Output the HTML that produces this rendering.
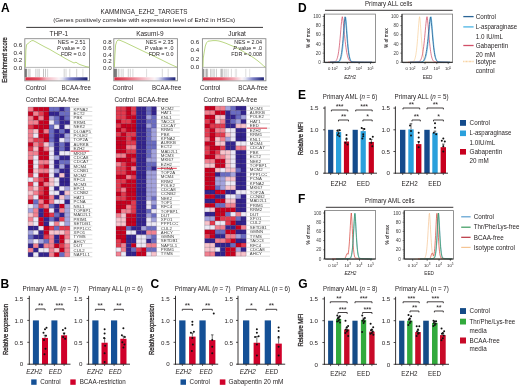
<!DOCTYPE html>
<html><head><meta charset="utf-8"><title>Figure</title>
<style>html,body{margin:0;padding:0;background:#fff;} svg{display:block;filter:blur(0.3px);}</style>
</head><body>
<svg width="520" height="386" viewBox="0 0 520 386" font-family='"Liberation Sans", sans-serif' fill="#231f20">
<rect width="520" height="386" fill="#fff"/>
<text x="0.90" y="11.60" font-size="12.0" font-weight="bold" fill="#000">A</text>
<text x="0.40" y="287.60" font-size="12.0" font-weight="bold" fill="#000">B</text>
<text x="150.50" y="287.60" font-size="12.0" font-weight="bold" fill="#000">C</text>
<text x="298.10" y="11.60" font-size="12.0" font-weight="bold" fill="#000">D</text>
<text x="298.10" y="98.50" font-size="12.0" font-weight="bold" fill="#000">E</text>
<text x="298.10" y="202.60" font-size="12.0" font-weight="bold" fill="#000">F</text>
<text x="298.20" y="287.60" font-size="12.0" font-weight="bold" fill="#000">G</text>
<text x="144.00" y="14.30" font-size="6.3" text-anchor="middle" textLength="87.00" lengthAdjust="spacingAndGlyphs">KAMMINGA_EZH2_TARGETS</text>
<text x="144.20" y="22.30" font-size="6.2" text-anchor="middle" textLength="182.00" lengthAdjust="spacingAndGlyphs">(Genes positively correlate with expression level of Ezh2 in HSCs)</text>
<line x1="26.20" y1="27.40" x2="263.00" y2="27.40" stroke="#231f20" stroke-width="0.9"/>
<text x="58.80" y="35.90" font-size="6.5" text-anchor="middle">THP-1</text>
<rect x="24.80" y="38.70" width="64.70" height="42.10" fill="#fff" stroke="#8a8a8a" stroke-width="0.9"/>
<line x1="24.80" y1="67.40" x2="89.50" y2="67.40" stroke="#9a9a9a" stroke-width="0.7"/>
<line x1="25.20" y1="68.80" x2="25.20" y2="77.20" stroke="#262626" stroke-width="0.4"/>
<line x1="25.70" y1="68.80" x2="25.70" y2="77.20" stroke="#262626" stroke-width="0.4"/>
<line x1="26.20" y1="68.80" x2="26.20" y2="77.20" stroke="#262626" stroke-width="0.4"/>
<line x1="26.70" y1="68.80" x2="26.70" y2="77.20" stroke="#262626" stroke-width="0.4"/>
<line x1="28.60" y1="68.80" x2="28.60" y2="77.20" stroke="#999" stroke-width="0.4"/>
<line x1="29.30" y1="68.80" x2="29.30" y2="77.20" stroke="#aaa" stroke-width="0.4"/>
<line x1="30.20" y1="68.80" x2="30.20" y2="77.20" stroke="#999" stroke-width="0.4"/>
<line x1="35.90" y1="68.80" x2="35.90" y2="77.20" stroke="#777" stroke-width="0.4"/>
<line x1="37.90" y1="68.80" x2="37.90" y2="77.20" stroke="#888" stroke-width="0.4"/>
<line x1="39.30" y1="68.80" x2="39.30" y2="77.20" stroke="#888" stroke-width="0.4"/>
<line x1="43.50" y1="68.80" x2="43.50" y2="77.20" stroke="#666" stroke-width="0.4"/>
<line x1="45.50" y1="68.80" x2="45.50" y2="77.20" stroke="#777" stroke-width="0.4"/>
<line x1="47.60" y1="68.80" x2="47.60" y2="77.20" stroke="#999" stroke-width="0.4"/>
<line x1="64.20" y1="68.80" x2="64.20" y2="77.20" stroke="#888" stroke-width="0.4"/>
<line x1="66.00" y1="68.80" x2="66.00" y2="77.20" stroke="#999" stroke-width="0.4"/>
<line x1="69.80" y1="68.80" x2="69.80" y2="77.20" stroke="#999" stroke-width="0.4"/>
<line x1="76.70" y1="68.80" x2="76.70" y2="77.20" stroke="#888" stroke-width="0.4"/>
<line x1="82.90" y1="68.80" x2="82.90" y2="77.20" stroke="#aaa" stroke-width="0.4"/>
<defs><linearGradient id="g24" x1="0" x2="1" y1="0" y2="0"><stop offset="0" stop-color="#d92a42"/><stop offset="0.220" stop-color="#e45466"/><stop offset="0.340" stop-color="#f4b3be"/><stop offset="0.540" stop-color="#fbf3f6"/><stop offset="0.600" stop-color="#dfe0f2"/><stop offset="0.720" stop-color="#7a7ec6"/><stop offset="1" stop-color="#1c2072"/></linearGradient></defs>
<rect x="25.40" y="77.30" width="62.10" height="3.00" fill="url(#g24)"/>
<polyline points="25.40,67.20 25.90,50.00 26.60,44.50 28.00,43.60 29.50,42.20 31.50,40.80 33.00,40.50 36.00,42.00 40.00,44.30 45.00,47.00 50.00,49.50 55.00,52.50 60.00,55.30 65.00,58.30 70.00,61.00 74.00,63.00 76.00,62.20 78.00,63.60 80.00,64.60 83.00,65.60 86.00,66.60 89.20,67.20" fill="none" stroke="#a3c95a" stroke-width="0.75"/>
<text x="22.20" y="69.50" font-size="6.2" text-anchor="end">0.0</text>
<text x="22.20" y="62.00" font-size="6.2" text-anchor="end">0.2</text>
<text x="22.20" y="54.50" font-size="6.2" text-anchor="end">0.4</text>
<text x="22.20" y="47.00" font-size="6.2" text-anchor="end">0.6</text>
<text x="85.60" y="44.30" font-size="5.4" text-anchor="end">NES = 2.51</text>
<text x="85.60" y="50.20" font-size="5.4" text-anchor="end"><tspan font-style="italic">P</tspan> value = .0</text>
<text x="85.60" y="56.10" font-size="5.4" text-anchor="end">FDR = 0.0</text>
<text x="25.40" y="90.00" font-size="6.6" textLength="20.60" lengthAdjust="spacingAndGlyphs">Control</text>
<text x="61.50" y="90.00" font-size="6.6" textLength="29.40" lengthAdjust="spacingAndGlyphs">BCAA-free</text>
<text x="149.90" y="35.90" font-size="6.5" text-anchor="middle">Kasumi-9</text>
<rect x="113.80" y="38.70" width="63.60" height="42.10" fill="#fff" stroke="#8a8a8a" stroke-width="0.9"/>
<line x1="113.80" y1="67.40" x2="177.40" y2="67.40" stroke="#9a9a9a" stroke-width="0.7"/>
<line x1="114.20" y1="68.80" x2="114.20" y2="77.20" stroke="#262626" stroke-width="0.4"/>
<line x1="114.70" y1="68.80" x2="114.70" y2="77.20" stroke="#262626" stroke-width="0.4"/>
<line x1="115.20" y1="68.80" x2="115.20" y2="77.20" stroke="#262626" stroke-width="0.4"/>
<line x1="115.70" y1="68.80" x2="115.70" y2="77.20" stroke="#262626" stroke-width="0.4"/>
<line x1="116.20" y1="68.80" x2="116.20" y2="77.20" stroke="#262626" stroke-width="0.4"/>
<line x1="116.70" y1="68.80" x2="116.70" y2="77.20" stroke="#262626" stroke-width="0.4"/>
<line x1="118.50" y1="68.80" x2="118.50" y2="77.20" stroke="#999" stroke-width="0.4"/>
<line x1="119.20" y1="68.80" x2="119.20" y2="77.20" stroke="#aaa" stroke-width="0.4"/>
<line x1="121.20" y1="68.80" x2="121.20" y2="77.20" stroke="#999" stroke-width="0.4"/>
<line x1="123.10" y1="68.80" x2="123.10" y2="77.20" stroke="#888" stroke-width="0.4"/>
<line x1="128.30" y1="68.80" x2="128.30" y2="77.20" stroke="#888" stroke-width="0.4"/>
<line x1="130.30" y1="68.80" x2="130.30" y2="77.20" stroke="#999" stroke-width="0.4"/>
<line x1="132.90" y1="68.80" x2="132.90" y2="77.20" stroke="#999" stroke-width="0.4"/>
<line x1="146.60" y1="68.80" x2="146.60" y2="77.20" stroke="#aaa" stroke-width="0.4"/>
<line x1="162.30" y1="68.80" x2="162.30" y2="77.20" stroke="#999" stroke-width="0.4"/>
<line x1="168.20" y1="68.80" x2="168.20" y2="77.20" stroke="#aaa" stroke-width="0.4"/>
<defs><linearGradient id="g113" x1="0" x2="1" y1="0" y2="0"><stop offset="0" stop-color="#d92a42"/><stop offset="0.170" stop-color="#e45466"/><stop offset="0.450" stop-color="#f4b3be"/><stop offset="0.660" stop-color="#fbf3f6"/><stop offset="0.720" stop-color="#dfe0f2"/><stop offset="0.840" stop-color="#7a7ec6"/><stop offset="1" stop-color="#1c2072"/></linearGradient></defs>
<rect x="114.40" y="77.30" width="61.00" height="3.00" fill="url(#g113)"/>
<polyline points="114.40,67.20 114.90,55.00 115.60,45.00 116.80,41.20 118.00,40.00 120.00,40.30 125.00,42.40 130.00,44.80 135.00,47.20 140.00,49.60 145.00,52.00 150.00,54.30 155.00,56.70 160.00,59.10 165.00,61.60 170.00,64.10 174.00,65.90 177.00,67.20" fill="none" stroke="#a3c95a" stroke-width="0.75"/>
<text x="111.60" y="69.80" font-size="6.2" text-anchor="end">0.0</text>
<text x="111.60" y="63.30" font-size="6.2" text-anchor="end">0.2</text>
<text x="111.60" y="56.80" font-size="6.2" text-anchor="end">0.4</text>
<text x="111.60" y="50.30" font-size="6.2" text-anchor="end">0.6</text>
<text x="111.60" y="43.80" font-size="6.2" text-anchor="end">0.8</text>
<text x="173.50" y="44.30" font-size="5.4" text-anchor="end">NES = 2.35</text>
<text x="173.50" y="50.20" font-size="5.4" text-anchor="end"><tspan font-style="italic">P</tspan> value = .0</text>
<text x="173.50" y="56.10" font-size="5.4" text-anchor="end">FDR = 0.0</text>
<text x="112.50" y="90.00" font-size="6.6" textLength="20.60" lengthAdjust="spacingAndGlyphs">Control</text>
<text x="152.00" y="90.00" font-size="6.6" textLength="29.40" lengthAdjust="spacingAndGlyphs">BCAA-free</text>
<text x="237.00" y="35.90" font-size="6.5" text-anchor="middle">Jurkat</text>
<rect x="202.40" y="38.70" width="63.50" height="42.10" fill="#fff" stroke="#8a8a8a" stroke-width="0.9"/>
<line x1="202.40" y1="67.40" x2="265.90" y2="67.40" stroke="#9a9a9a" stroke-width="0.7"/>
<line x1="203.40" y1="68.80" x2="203.40" y2="77.20" stroke="#262626" stroke-width="0.4"/>
<line x1="203.90" y1="68.80" x2="203.90" y2="77.20" stroke="#262626" stroke-width="0.4"/>
<line x1="205.90" y1="68.80" x2="205.90" y2="77.20" stroke="#555" stroke-width="0.4"/>
<line x1="206.60" y1="68.80" x2="206.60" y2="77.20" stroke="#555" stroke-width="0.4"/>
<line x1="207.60" y1="68.80" x2="207.60" y2="77.20" stroke="#666" stroke-width="0.4"/>
<line x1="210.50" y1="68.80" x2="210.50" y2="77.20" stroke="#888" stroke-width="0.4"/>
<line x1="211.80" y1="68.80" x2="211.80" y2="77.20" stroke="#999" stroke-width="0.4"/>
<line x1="213.20" y1="68.80" x2="213.20" y2="77.20" stroke="#888" stroke-width="0.4"/>
<line x1="214.60" y1="68.80" x2="214.60" y2="77.20" stroke="#999" stroke-width="0.4"/>
<line x1="216.50" y1="68.80" x2="216.50" y2="77.20" stroke="#888" stroke-width="0.4"/>
<line x1="220.90" y1="68.80" x2="220.90" y2="77.20" stroke="#666" stroke-width="0.4"/>
<line x1="221.80" y1="68.80" x2="221.80" y2="77.20" stroke="#555" stroke-width="0.4"/>
<line x1="222.80" y1="68.80" x2="222.80" y2="77.20" stroke="#777" stroke-width="0.4"/>
<line x1="224.80" y1="68.80" x2="224.80" y2="77.20" stroke="#888" stroke-width="0.4"/>
<line x1="226.20" y1="68.80" x2="226.20" y2="77.20" stroke="#999" stroke-width="0.4"/>
<line x1="228.10" y1="68.80" x2="228.10" y2="77.20" stroke="#999" stroke-width="0.4"/>
<line x1="231.40" y1="68.80" x2="231.40" y2="77.20" stroke="#aaa" stroke-width="0.4"/>
<line x1="235.30" y1="68.80" x2="235.30" y2="77.20" stroke="#bbb" stroke-width="0.4"/>
<line x1="236.60" y1="68.80" x2="236.60" y2="77.20" stroke="#bbb" stroke-width="0.4"/>
<line x1="245.80" y1="68.80" x2="245.80" y2="77.20" stroke="#aaa" stroke-width="0.4"/>
<line x1="249.70" y1="68.80" x2="249.70" y2="77.20" stroke="#bbb" stroke-width="0.4"/>
<defs><linearGradient id="g202" x1="0" x2="1" y1="0" y2="0"><stop offset="0" stop-color="#d92a42"/><stop offset="0.300" stop-color="#e45466"/><stop offset="0.520" stop-color="#f4b3be"/><stop offset="0.640" stop-color="#fbf3f6"/><stop offset="0.700" stop-color="#dfe0f2"/><stop offset="0.820" stop-color="#7a7ec6"/><stop offset="1" stop-color="#1c2072"/></linearGradient></defs>
<rect x="203.00" y="77.30" width="60.90" height="3.00" fill="url(#g202)"/>
<polyline points="203.00,67.00 203.30,58.00 204.20,52.00 205.30,46.00 206.50,42.80 208.00,41.20 210.00,41.00 213.00,40.60 216.00,40.60 219.00,41.00 222.00,41.90 226.00,43.30 230.00,45.00 234.00,46.60 238.00,48.60 242.00,50.80 246.00,53.20 250.00,55.50 254.00,58.00 258.00,61.00 261.00,63.50 263.50,65.80 265.30,67.00" fill="none" stroke="#a3c95a" stroke-width="0.75"/>
<text x="199.10" y="69.00" font-size="6.2" text-anchor="end">0.0</text>
<text x="199.10" y="60.55" font-size="6.2" text-anchor="end">0.2</text>
<text x="199.10" y="52.10" font-size="6.2" text-anchor="end">0.4</text>
<text x="199.10" y="43.65" font-size="6.2" text-anchor="end">0.6</text>
<text x="262.00" y="44.30" font-size="5.4" text-anchor="end">NES = 2.04</text>
<text x="262.00" y="50.20" font-size="5.4" text-anchor="end"><tspan font-style="italic">P</tspan> value = .0</text>
<text x="262.00" y="56.10" font-size="5.4" text-anchor="end">FDR = 0.008</text>
<text x="199.90" y="90.00" font-size="6.6" textLength="20.60" lengthAdjust="spacingAndGlyphs">Control</text>
<text x="238.30" y="90.00" font-size="6.6" textLength="29.40" lengthAdjust="spacingAndGlyphs">BCAA-free</text>
<text x="6.70" y="59.90" font-size="7.4" text-anchor="middle" textLength="45.50" lengthAdjust="spacingAndGlyphs" transform="rotate(-90 6.70 59.90)" stroke="#231f20" stroke-width="0.28">Enrichment score</text>
<rect x="28.10" y="107.10" width="5.26" height="4.45" fill="#f2808f"/>
<rect x="33.31" y="107.10" width="5.26" height="4.45" fill="#c8001e"/>
<rect x="38.52" y="107.10" width="5.26" height="4.45" fill="#c8001e"/>
<rect x="43.74" y="107.10" width="5.26" height="4.45" fill="#c8001e"/>
<rect x="48.95" y="107.10" width="5.26" height="4.45" fill="#6a6cc2"/>
<rect x="54.16" y="107.10" width="5.26" height="4.45" fill="#6a6cc2"/>
<rect x="59.38" y="107.10" width="5.26" height="4.45" fill="#33248e"/>
<rect x="64.59" y="107.10" width="5.26" height="4.45" fill="#6a6cc2"/>
<rect x="28.10" y="111.50" width="5.26" height="4.45" fill="#c8001e"/>
<rect x="33.31" y="111.50" width="5.26" height="4.45" fill="#f2808f"/>
<rect x="38.52" y="111.50" width="5.26" height="4.45" fill="#e33a4e"/>
<rect x="43.74" y="111.50" width="5.26" height="4.45" fill="#c8001e"/>
<rect x="48.95" y="111.50" width="5.26" height="4.45" fill="#33248e"/>
<rect x="54.16" y="111.50" width="5.26" height="4.45" fill="#33248e"/>
<rect x="59.38" y="111.50" width="5.26" height="4.45" fill="#6a6cc2"/>
<rect x="64.59" y="111.50" width="5.26" height="4.45" fill="#6a6cc2"/>
<rect x="28.10" y="115.91" width="5.26" height="4.45" fill="#f2808f"/>
<rect x="33.31" y="115.91" width="5.26" height="4.45" fill="#c8001e"/>
<rect x="38.52" y="115.91" width="5.26" height="4.45" fill="#f2808f"/>
<rect x="43.74" y="115.91" width="5.26" height="4.45" fill="#c8001e"/>
<rect x="48.95" y="115.91" width="5.26" height="4.45" fill="#a3a3dd"/>
<rect x="54.16" y="115.91" width="5.26" height="4.45" fill="#6a6cc2"/>
<rect x="59.38" y="115.91" width="5.26" height="4.45" fill="#33248e"/>
<rect x="64.59" y="115.91" width="5.26" height="4.45" fill="#6a6cc2"/>
<rect x="28.10" y="120.31" width="5.26" height="4.45" fill="#f2808f"/>
<rect x="33.31" y="120.31" width="5.26" height="4.45" fill="#f2808f"/>
<rect x="38.52" y="120.31" width="5.26" height="4.45" fill="#c8001e"/>
<rect x="43.74" y="120.31" width="5.26" height="4.45" fill="#c8001e"/>
<rect x="48.95" y="120.31" width="5.26" height="4.45" fill="#ece9f5"/>
<rect x="54.16" y="120.31" width="5.26" height="4.45" fill="#6a6cc2"/>
<rect x="59.38" y="120.31" width="5.26" height="4.45" fill="#33248e"/>
<rect x="64.59" y="120.31" width="5.26" height="4.45" fill="#33248e"/>
<rect x="28.10" y="124.71" width="5.26" height="4.45" fill="#e33a4e"/>
<rect x="33.31" y="124.71" width="5.26" height="4.45" fill="#c8001e"/>
<rect x="38.52" y="124.71" width="5.26" height="4.45" fill="#c8001e"/>
<rect x="43.74" y="124.71" width="5.26" height="4.45" fill="#c8001e"/>
<rect x="48.95" y="124.71" width="5.26" height="4.45" fill="#6a6cc2"/>
<rect x="54.16" y="124.71" width="5.26" height="4.45" fill="#ece9f5"/>
<rect x="59.38" y="124.71" width="5.26" height="4.45" fill="#33248e"/>
<rect x="64.59" y="124.71" width="5.26" height="4.45" fill="#ece9f5"/>
<rect x="28.10" y="129.11" width="5.26" height="4.45" fill="#f2808f"/>
<rect x="33.31" y="129.11" width="5.26" height="4.45" fill="#f7c3cb"/>
<rect x="38.52" y="129.11" width="5.26" height="4.45" fill="#c8001e"/>
<rect x="43.74" y="129.11" width="5.26" height="4.45" fill="#f2808f"/>
<rect x="48.95" y="129.11" width="5.26" height="4.45" fill="#6a6cc2"/>
<rect x="54.16" y="129.11" width="5.26" height="4.45" fill="#33248e"/>
<rect x="59.38" y="129.11" width="5.26" height="4.45" fill="#6a6cc2"/>
<rect x="64.59" y="129.11" width="5.26" height="4.45" fill="#33248e"/>
<rect x="28.10" y="133.52" width="5.26" height="4.45" fill="#f2808f"/>
<rect x="33.31" y="133.52" width="5.26" height="4.45" fill="#ece9f5"/>
<rect x="38.52" y="133.52" width="5.26" height="4.45" fill="#c8001e"/>
<rect x="43.74" y="133.52" width="5.26" height="4.45" fill="#c8001e"/>
<rect x="48.95" y="133.52" width="5.26" height="4.45" fill="#6a6cc2"/>
<rect x="54.16" y="133.52" width="5.26" height="4.45" fill="#33248e"/>
<rect x="59.38" y="133.52" width="5.26" height="4.45" fill="#33248e"/>
<rect x="64.59" y="133.52" width="5.26" height="4.45" fill="#a3a3dd"/>
<rect x="28.10" y="137.92" width="5.26" height="4.45" fill="#f2808f"/>
<rect x="33.31" y="137.92" width="5.26" height="4.45" fill="#e33a4e"/>
<rect x="38.52" y="137.92" width="5.26" height="4.45" fill="#e33a4e"/>
<rect x="43.74" y="137.92" width="5.26" height="4.45" fill="#c8001e"/>
<rect x="48.95" y="137.92" width="5.26" height="4.45" fill="#6a6cc2"/>
<rect x="54.16" y="137.92" width="5.26" height="4.45" fill="#33248e"/>
<rect x="59.38" y="137.92" width="5.26" height="4.45" fill="#ece9f5"/>
<rect x="64.59" y="137.92" width="5.26" height="4.45" fill="#a3a3dd"/>
<rect x="28.10" y="142.32" width="5.26" height="4.45" fill="#c8001e"/>
<rect x="33.31" y="142.32" width="5.26" height="4.45" fill="#f2808f"/>
<rect x="38.52" y="142.32" width="5.26" height="4.45" fill="#e33a4e"/>
<rect x="43.74" y="142.32" width="5.26" height="4.45" fill="#f7c3cb"/>
<rect x="48.95" y="142.32" width="5.26" height="4.45" fill="#a3a3dd"/>
<rect x="54.16" y="142.32" width="5.26" height="4.45" fill="#33248e"/>
<rect x="59.38" y="142.32" width="5.26" height="4.45" fill="#6a6cc2"/>
<rect x="64.59" y="142.32" width="5.26" height="4.45" fill="#33248e"/>
<rect x="28.10" y="146.73" width="5.26" height="4.45" fill="#e33a4e"/>
<rect x="33.31" y="146.73" width="5.26" height="4.45" fill="#f7c3cb"/>
<rect x="38.52" y="146.73" width="5.26" height="4.45" fill="#c8001e"/>
<rect x="43.74" y="146.73" width="5.26" height="4.45" fill="#f2808f"/>
<rect x="48.95" y="146.73" width="5.26" height="4.45" fill="#ece9f5"/>
<rect x="54.16" y="146.73" width="5.26" height="4.45" fill="#33248e"/>
<rect x="59.38" y="146.73" width="5.26" height="4.45" fill="#6a6cc2"/>
<rect x="64.59" y="146.73" width="5.26" height="4.45" fill="#33248e"/>
<rect x="28.10" y="151.13" width="5.26" height="4.45" fill="#f2808f"/>
<rect x="33.31" y="151.13" width="5.26" height="4.45" fill="#f2808f"/>
<rect x="38.52" y="151.13" width="5.26" height="4.45" fill="#c8001e"/>
<rect x="43.74" y="151.13" width="5.26" height="4.45" fill="#c8001e"/>
<rect x="48.95" y="151.13" width="5.26" height="4.45" fill="#ece9f5"/>
<rect x="54.16" y="151.13" width="5.26" height="4.45" fill="#33248e"/>
<rect x="59.38" y="151.13" width="5.26" height="4.45" fill="#ece9f5"/>
<rect x="64.59" y="151.13" width="5.26" height="4.45" fill="#ece9f5"/>
<rect x="28.10" y="155.53" width="5.26" height="4.45" fill="#f2808f"/>
<rect x="33.31" y="155.53" width="5.26" height="4.45" fill="#ece9f5"/>
<rect x="38.52" y="155.53" width="5.26" height="4.45" fill="#c8001e"/>
<rect x="43.74" y="155.53" width="5.26" height="4.45" fill="#c8001e"/>
<rect x="48.95" y="155.53" width="5.26" height="4.45" fill="#ece9f5"/>
<rect x="54.16" y="155.53" width="5.26" height="4.45" fill="#a3a3dd"/>
<rect x="59.38" y="155.53" width="5.26" height="4.45" fill="#33248e"/>
<rect x="64.59" y="155.53" width="5.26" height="4.45" fill="#33248e"/>
<rect x="28.10" y="159.94" width="5.26" height="4.45" fill="#c8001e"/>
<rect x="33.31" y="159.94" width="5.26" height="4.45" fill="#ece9f5"/>
<rect x="38.52" y="159.94" width="5.26" height="4.45" fill="#f2808f"/>
<rect x="43.74" y="159.94" width="5.26" height="4.45" fill="#f2808f"/>
<rect x="48.95" y="159.94" width="5.26" height="4.45" fill="#ece9f5"/>
<rect x="54.16" y="159.94" width="5.26" height="4.45" fill="#33248e"/>
<rect x="59.38" y="159.94" width="5.26" height="4.45" fill="#6a6cc2"/>
<rect x="64.59" y="159.94" width="5.26" height="4.45" fill="#6a6cc2"/>
<rect x="28.10" y="164.34" width="5.26" height="4.45" fill="#c8001e"/>
<rect x="33.31" y="164.34" width="5.26" height="4.45" fill="#ece9f5"/>
<rect x="38.52" y="164.34" width="5.26" height="4.45" fill="#e33a4e"/>
<rect x="43.74" y="164.34" width="5.26" height="4.45" fill="#c8001e"/>
<rect x="48.95" y="164.34" width="5.26" height="4.45" fill="#ece9f5"/>
<rect x="54.16" y="164.34" width="5.26" height="4.45" fill="#33248e"/>
<rect x="59.38" y="164.34" width="5.26" height="4.45" fill="#a3a3dd"/>
<rect x="64.59" y="164.34" width="5.26" height="4.45" fill="#33248e"/>
<rect x="28.10" y="168.74" width="5.26" height="4.45" fill="#c8001e"/>
<rect x="33.31" y="168.74" width="5.26" height="4.45" fill="#f7c3cb"/>
<rect x="38.52" y="168.74" width="5.26" height="4.45" fill="#f2808f"/>
<rect x="43.74" y="168.74" width="5.26" height="4.45" fill="#f2808f"/>
<rect x="48.95" y="168.74" width="5.26" height="4.45" fill="#ece9f5"/>
<rect x="54.16" y="168.74" width="5.26" height="4.45" fill="#a3a3dd"/>
<rect x="59.38" y="168.74" width="5.26" height="4.45" fill="#33248e"/>
<rect x="64.59" y="168.74" width="5.26" height="4.45" fill="#33248e"/>
<rect x="28.10" y="173.14" width="5.26" height="4.45" fill="#e33a4e"/>
<rect x="33.31" y="173.14" width="5.26" height="4.45" fill="#ece9f5"/>
<rect x="38.52" y="173.14" width="5.26" height="4.45" fill="#c8001e"/>
<rect x="43.74" y="173.14" width="5.26" height="4.45" fill="#c8001e"/>
<rect x="48.95" y="173.14" width="5.26" height="4.45" fill="#ece9f5"/>
<rect x="54.16" y="173.14" width="5.26" height="4.45" fill="#33248e"/>
<rect x="59.38" y="173.14" width="5.26" height="4.45" fill="#f7c3cb"/>
<rect x="64.59" y="173.14" width="5.26" height="4.45" fill="#33248e"/>
<rect x="28.10" y="177.55" width="5.26" height="4.45" fill="#ece9f5"/>
<rect x="33.31" y="177.55" width="5.26" height="4.45" fill="#f2808f"/>
<rect x="38.52" y="177.55" width="5.26" height="4.45" fill="#e33a4e"/>
<rect x="43.74" y="177.55" width="5.26" height="4.45" fill="#c8001e"/>
<rect x="48.95" y="177.55" width="5.26" height="4.45" fill="#f7c3cb"/>
<rect x="54.16" y="177.55" width="5.26" height="4.45" fill="#ece9f5"/>
<rect x="59.38" y="177.55" width="5.26" height="4.45" fill="#33248e"/>
<rect x="64.59" y="177.55" width="5.26" height="4.45" fill="#33248e"/>
<rect x="28.10" y="181.95" width="5.26" height="4.45" fill="#e33a4e"/>
<rect x="33.31" y="181.95" width="5.26" height="4.45" fill="#ece9f5"/>
<rect x="38.52" y="181.95" width="5.26" height="4.45" fill="#c8001e"/>
<rect x="43.74" y="181.95" width="5.26" height="4.45" fill="#f2808f"/>
<rect x="48.95" y="181.95" width="5.26" height="4.45" fill="#f7c3cb"/>
<rect x="54.16" y="181.95" width="5.26" height="4.45" fill="#ece9f5"/>
<rect x="59.38" y="181.95" width="5.26" height="4.45" fill="#33248e"/>
<rect x="64.59" y="181.95" width="5.26" height="4.45" fill="#33248e"/>
<rect x="28.10" y="186.35" width="5.26" height="4.45" fill="#f2808f"/>
<rect x="33.31" y="186.35" width="5.26" height="4.45" fill="#f7c3cb"/>
<rect x="38.52" y="186.35" width="5.26" height="4.45" fill="#e33a4e"/>
<rect x="43.74" y="186.35" width="5.26" height="4.45" fill="#c8001e"/>
<rect x="48.95" y="186.35" width="5.26" height="4.45" fill="#ece9f5"/>
<rect x="54.16" y="186.35" width="5.26" height="4.45" fill="#33248e"/>
<rect x="59.38" y="186.35" width="5.26" height="4.45" fill="#ece9f5"/>
<rect x="64.59" y="186.35" width="5.26" height="4.45" fill="#a3a3dd"/>
<rect x="28.10" y="190.76" width="5.26" height="4.45" fill="#f7c3cb"/>
<rect x="33.31" y="190.76" width="5.26" height="4.45" fill="#f2808f"/>
<rect x="38.52" y="190.76" width="5.26" height="4.45" fill="#e33a4e"/>
<rect x="43.74" y="190.76" width="5.26" height="4.45" fill="#c8001e"/>
<rect x="48.95" y="190.76" width="5.26" height="4.45" fill="#ece9f5"/>
<rect x="54.16" y="190.76" width="5.26" height="4.45" fill="#ece9f5"/>
<rect x="59.38" y="190.76" width="5.26" height="4.45" fill="#33248e"/>
<rect x="64.59" y="190.76" width="5.26" height="4.45" fill="#f7c3cb"/>
<rect x="28.10" y="195.16" width="5.26" height="4.45" fill="#f2808f"/>
<rect x="33.31" y="195.16" width="5.26" height="4.45" fill="#ece9f5"/>
<rect x="38.52" y="195.16" width="5.26" height="4.45" fill="#c8001e"/>
<rect x="43.74" y="195.16" width="5.26" height="4.45" fill="#c8001e"/>
<rect x="48.95" y="195.16" width="5.26" height="4.45" fill="#f2808f"/>
<rect x="54.16" y="195.16" width="5.26" height="4.45" fill="#33248e"/>
<rect x="59.38" y="195.16" width="5.26" height="4.45" fill="#f7c3cb"/>
<rect x="64.59" y="195.16" width="5.26" height="4.45" fill="#a3a3dd"/>
<rect x="28.10" y="199.56" width="5.26" height="4.45" fill="#c8001e"/>
<rect x="33.31" y="199.56" width="5.26" height="4.45" fill="#6a6cc2"/>
<rect x="38.52" y="199.56" width="5.26" height="4.45" fill="#f2808f"/>
<rect x="43.74" y="199.56" width="5.26" height="4.45" fill="#c8001e"/>
<rect x="48.95" y="199.56" width="5.26" height="4.45" fill="#f2808f"/>
<rect x="54.16" y="199.56" width="5.26" height="4.45" fill="#ece9f5"/>
<rect x="59.38" y="199.56" width="5.26" height="4.45" fill="#ece9f5"/>
<rect x="64.59" y="199.56" width="5.26" height="4.45" fill="#33248e"/>
<rect x="28.10" y="203.96" width="5.26" height="4.45" fill="#ece9f5"/>
<rect x="33.31" y="203.96" width="5.26" height="4.45" fill="#a3a3dd"/>
<rect x="38.52" y="203.96" width="5.26" height="4.45" fill="#e33a4e"/>
<rect x="43.74" y="203.96" width="5.26" height="4.45" fill="#f2808f"/>
<rect x="48.95" y="203.96" width="5.26" height="4.45" fill="#6a6cc2"/>
<rect x="54.16" y="203.96" width="5.26" height="4.45" fill="#33248e"/>
<rect x="59.38" y="203.96" width="5.26" height="4.45" fill="#c8001e"/>
<rect x="64.59" y="203.96" width="5.26" height="4.45" fill="#a3a3dd"/>
<rect x="28.10" y="208.37" width="5.26" height="4.45" fill="#a3a3dd"/>
<rect x="33.31" y="208.37" width="5.26" height="4.45" fill="#f2808f"/>
<rect x="38.52" y="208.37" width="5.26" height="4.45" fill="#33248e"/>
<rect x="43.74" y="208.37" width="5.26" height="4.45" fill="#c8001e"/>
<rect x="48.95" y="208.37" width="5.26" height="4.45" fill="#ece9f5"/>
<rect x="54.16" y="208.37" width="5.26" height="4.45" fill="#33248e"/>
<rect x="59.38" y="208.37" width="5.26" height="4.45" fill="#f2808f"/>
<rect x="64.59" y="208.37" width="5.26" height="4.45" fill="#a3a3dd"/>
<rect x="28.10" y="212.77" width="5.26" height="4.45" fill="#f7c3cb"/>
<rect x="33.31" y="212.77" width="5.26" height="4.45" fill="#f2808f"/>
<rect x="38.52" y="212.77" width="5.26" height="4.45" fill="#33248e"/>
<rect x="43.74" y="212.77" width="5.26" height="4.45" fill="#c8001e"/>
<rect x="48.95" y="212.77" width="5.26" height="4.45" fill="#e33a4e"/>
<rect x="54.16" y="212.77" width="5.26" height="4.45" fill="#6a6cc2"/>
<rect x="59.38" y="212.77" width="5.26" height="4.45" fill="#33248e"/>
<rect x="64.59" y="212.77" width="5.26" height="4.45" fill="#a3a3dd"/>
<rect x="28.10" y="217.17" width="5.26" height="4.45" fill="#f2808f"/>
<rect x="33.31" y="217.17" width="5.26" height="4.45" fill="#ece9f5"/>
<rect x="38.52" y="217.17" width="5.26" height="4.45" fill="#c8001e"/>
<rect x="43.74" y="217.17" width="5.26" height="4.45" fill="#33248e"/>
<rect x="48.95" y="217.17" width="5.26" height="4.45" fill="#6a6cc2"/>
<rect x="54.16" y="217.17" width="5.26" height="4.45" fill="#33248e"/>
<rect x="59.38" y="217.17" width="5.26" height="4.45" fill="#e33a4e"/>
<rect x="64.59" y="217.17" width="5.26" height="4.45" fill="#a3a3dd"/>
<rect x="28.10" y="221.58" width="5.26" height="4.45" fill="#f7c3cb"/>
<rect x="33.31" y="221.58" width="5.26" height="4.45" fill="#ece9f5"/>
<rect x="38.52" y="221.58" width="5.26" height="4.45" fill="#c8001e"/>
<rect x="43.74" y="221.58" width="5.26" height="4.45" fill="#33248e"/>
<rect x="48.95" y="221.58" width="5.26" height="4.45" fill="#ece9f5"/>
<rect x="54.16" y="221.58" width="5.26" height="4.45" fill="#f2808f"/>
<rect x="59.38" y="221.58" width="5.26" height="4.45" fill="#ece9f5"/>
<rect x="64.59" y="221.58" width="5.26" height="4.45" fill="#a3a3dd"/>
<rect x="28.10" y="225.98" width="5.26" height="4.45" fill="#33248e"/>
<rect x="33.31" y="225.98" width="5.26" height="4.45" fill="#33248e"/>
<rect x="38.52" y="225.98" width="5.26" height="4.45" fill="#ece9f5"/>
<rect x="43.74" y="225.98" width="5.26" height="4.45" fill="#c8001e"/>
<rect x="48.95" y="225.98" width="5.26" height="4.45" fill="#e33a4e"/>
<rect x="54.16" y="225.98" width="5.26" height="4.45" fill="#6a6cc2"/>
<rect x="59.38" y="225.98" width="5.26" height="4.45" fill="#e33a4e"/>
<rect x="64.59" y="225.98" width="5.26" height="4.45" fill="#e33a4e"/>
<rect x="28.10" y="230.38" width="5.26" height="4.45" fill="#a3a3dd"/>
<rect x="33.31" y="230.38" width="5.26" height="4.45" fill="#ece9f5"/>
<rect x="38.52" y="230.38" width="5.26" height="4.45" fill="#33248e"/>
<rect x="43.74" y="230.38" width="5.26" height="4.45" fill="#c8001e"/>
<rect x="48.95" y="230.38" width="5.26" height="4.45" fill="#f7c3cb"/>
<rect x="54.16" y="230.38" width="5.26" height="4.45" fill="#f7c3cb"/>
<rect x="59.38" y="230.38" width="5.26" height="4.45" fill="#f7c3cb"/>
<rect x="64.59" y="230.38" width="5.26" height="4.45" fill="#f2808f"/>
<rect x="28.10" y="234.79" width="5.26" height="4.45" fill="#6a6cc2"/>
<rect x="33.31" y="234.79" width="5.26" height="4.45" fill="#33248e"/>
<rect x="38.52" y="234.79" width="5.26" height="4.45" fill="#33248e"/>
<rect x="43.74" y="234.79" width="5.26" height="4.45" fill="#e33a4e"/>
<rect x="48.95" y="234.79" width="5.26" height="4.45" fill="#f2808f"/>
<rect x="54.16" y="234.79" width="5.26" height="4.45" fill="#33248e"/>
<rect x="59.38" y="234.79" width="5.26" height="4.45" fill="#c8001e"/>
<rect x="64.59" y="234.79" width="5.26" height="4.45" fill="#f2808f"/>
<rect x="28.10" y="239.19" width="5.26" height="4.45" fill="#a3a3dd"/>
<rect x="33.31" y="239.19" width="5.26" height="4.45" fill="#ece9f5"/>
<rect x="38.52" y="239.19" width="5.26" height="4.45" fill="#a3a3dd"/>
<rect x="43.74" y="239.19" width="5.26" height="4.45" fill="#6a6cc2"/>
<rect x="48.95" y="239.19" width="5.26" height="4.45" fill="#f2808f"/>
<rect x="54.16" y="239.19" width="5.26" height="4.45" fill="#33248e"/>
<rect x="59.38" y="239.19" width="5.26" height="4.45" fill="#c8001e"/>
<rect x="64.59" y="239.19" width="5.26" height="4.45" fill="#f7c3cb"/>
<rect x="28.10" y="243.59" width="5.26" height="4.45" fill="#33248e"/>
<rect x="33.31" y="243.59" width="5.26" height="4.45" fill="#f2808f"/>
<rect x="38.52" y="243.59" width="5.26" height="4.45" fill="#33248e"/>
<rect x="43.74" y="243.59" width="5.26" height="4.45" fill="#f2808f"/>
<rect x="48.95" y="243.59" width="5.26" height="4.45" fill="#f2808f"/>
<rect x="54.16" y="243.59" width="5.26" height="4.45" fill="#c8001e"/>
<rect x="59.38" y="243.59" width="5.26" height="4.45" fill="#e33a4e"/>
<rect x="64.59" y="243.59" width="5.26" height="4.45" fill="#f2808f"/>
<rect x="28.10" y="247.99" width="5.26" height="4.45" fill="#f2808f"/>
<rect x="33.31" y="247.99" width="5.26" height="4.45" fill="#33248e"/>
<rect x="38.52" y="247.99" width="5.26" height="4.45" fill="#ece9f5"/>
<rect x="43.74" y="247.99" width="5.26" height="4.45" fill="#ece9f5"/>
<rect x="48.95" y="247.99" width="5.26" height="4.45" fill="#f2808f"/>
<rect x="54.16" y="247.99" width="5.26" height="4.45" fill="#f7c3cb"/>
<rect x="59.38" y="247.99" width="5.26" height="4.45" fill="#c8001e"/>
<rect x="64.59" y="247.99" width="5.26" height="4.45" fill="#f2808f"/>
<rect x="28.10" y="252.40" width="5.26" height="4.45" fill="#33248e"/>
<rect x="33.31" y="252.40" width="5.26" height="4.45" fill="#ece9f5"/>
<rect x="38.52" y="252.40" width="5.26" height="4.45" fill="#33248e"/>
<rect x="43.74" y="252.40" width="5.26" height="4.45" fill="#33248e"/>
<rect x="48.95" y="252.40" width="5.26" height="4.45" fill="#f2808f"/>
<rect x="54.16" y="252.40" width="5.26" height="4.45" fill="#c8001e"/>
<rect x="59.38" y="252.40" width="5.26" height="4.45" fill="#6a6cc2"/>
<rect x="64.59" y="252.40" width="5.26" height="4.45" fill="#f2808f"/>
<path d="M28.10 107.10V256.80 M33.31 107.10V256.80 M38.52 107.10V256.80 M43.74 107.10V256.80 M48.95 107.10V256.80 M54.16 107.10V256.80 M59.38 107.10V256.80 M64.59 107.10V256.80 M69.80 107.10V256.80 M28.10 107.10H69.80 M28.10 111.50H69.80 M28.10 115.91H69.80 M28.10 120.31H69.80 M28.10 124.71H69.80 M28.10 129.11H69.80 M28.10 133.52H69.80 M28.10 137.92H69.80 M28.10 142.32H69.80 M28.10 146.73H69.80 M28.10 151.13H69.80 M28.10 155.53H69.80 M28.10 159.94H69.80 M28.10 164.34H69.80 M28.10 168.74H69.80 M28.10 173.14H69.80 M28.10 177.55H69.80 M28.10 181.95H69.80 M28.10 186.35H69.80 M28.10 190.76H69.80 M28.10 195.16H69.80 M28.10 199.56H69.80 M28.10 203.96H69.80 M28.10 208.37H69.80 M28.10 212.77H69.80 M28.10 217.17H69.80 M28.10 221.58H69.80 M28.10 225.98H69.80 M28.10 230.38H69.80 M28.10 234.79H69.80 M28.10 239.19H69.80 M28.10 243.59H69.80 M28.10 247.99H69.80 M28.10 252.40H69.80 M28.10 256.80H69.80" stroke="#1e0a2a" stroke-opacity="0.4" stroke-width="0.5" fill="none"/>
<path d="M70.40 107.10H92.30 M70.40 111.50H92.30 M70.40 115.91H92.30 M70.40 120.31H92.30 M70.40 124.71H92.30 M70.40 129.11H92.30 M70.40 133.52H92.30 M70.40 137.92H92.30 M70.40 142.32H92.30 M70.40 146.73H92.30 M70.40 151.13H92.30 M70.40 155.53H92.30 M70.40 159.94H92.30 M70.40 164.34H92.30 M70.40 168.74H92.30 M70.40 173.14H92.30 M70.40 177.55H92.30 M70.40 181.95H92.30 M70.40 186.35H92.30 M70.40 190.76H92.30 M70.40 195.16H92.30 M70.40 199.56H92.30 M70.40 203.96H92.30 M70.40 208.37H92.30 M70.40 212.77H92.30 M70.40 217.17H92.30 M70.40 221.58H92.30 M70.40 225.98H92.30 M70.40 230.38H92.30 M70.40 234.79H92.30 M70.40 239.19H92.30 M70.40 243.59H92.30 M70.40 247.99H92.30 M70.40 252.40H92.30 M70.40 256.80H92.30" stroke="#b4b4b4" stroke-width="0.45" fill="none"/>
<text x="73.60" y="110.65" font-size="4.3" fill="#3c3c3c" letter-spacing="0.05">KPNA2</text>
<text x="73.60" y="115.06" font-size="4.3" fill="#3c3c3c" letter-spacing="0.05">ECT2</text>
<text x="73.60" y="119.46" font-size="4.3" fill="#3c3c3c" letter-spacing="0.05">PBK</text>
<text x="73.60" y="123.86" font-size="4.3" fill="#3c3c3c" letter-spacing="0.05">RRM1</text>
<text x="73.60" y="128.26" font-size="4.3" fill="#3c3c3c" letter-spacing="0.05">NEK2</text>
<text x="73.60" y="132.67" font-size="4.3" fill="#3c3c3c" letter-spacing="0.05">DLGAP5</text>
<text x="73.60" y="137.07" font-size="4.3" fill="#3c3c3c" letter-spacing="0.05">POLE2</text>
<text x="73.60" y="141.47" font-size="4.3" fill="#3c3c3c" letter-spacing="0.05">TOP2A</text>
<text x="73.60" y="145.88" font-size="4.3" fill="#3c3c3c" letter-spacing="0.05">AURKB</text>
<text x="73.60" y="150.28" font-size="4.3" fill="#3c3c3c" letter-spacing="0.05">EZH2</text>
<text x="73.60" y="154.68" font-size="4.3" fill="#3c3c3c" letter-spacing="0.05">MKI67</text>
<text x="73.60" y="159.09" font-size="4.3" fill="#3c3c3c" letter-spacing="0.05">CDCA8</text>
<text x="73.60" y="163.49" font-size="4.3" fill="#3c3c3c" letter-spacing="0.05">CDCA7</text>
<text x="73.60" y="167.89" font-size="4.3" fill="#3c3c3c" letter-spacing="0.05">MCM4</text>
<text x="73.60" y="172.29" font-size="4.3" fill="#3c3c3c" letter-spacing="0.05">CCNB1</text>
<text x="73.60" y="176.70" font-size="4.3" fill="#3c3c3c" letter-spacing="0.05">MCM2</text>
<text x="73.60" y="181.10" font-size="4.3" fill="#3c3c3c" letter-spacing="0.05">RFC4</text>
<text x="73.60" y="185.50" font-size="4.3" fill="#3c3c3c" letter-spacing="0.05">MCM3</text>
<text x="73.60" y="189.91" font-size="4.3" fill="#3c3c3c" letter-spacing="0.05">EPC1</text>
<text x="73.60" y="194.31" font-size="4.3" fill="#3c3c3c" letter-spacing="0.05">CCNB2</text>
<text x="73.60" y="198.71" font-size="4.3" fill="#3c3c3c" letter-spacing="0.05">HAT1</text>
<text x="73.60" y="203.11" font-size="4.3" fill="#3c3c3c" letter-spacing="0.05">PCNA</text>
<text x="73.60" y="207.52" font-size="4.3" fill="#3c3c3c" letter-spacing="0.05">NSL1</text>
<text x="73.60" y="211.92" font-size="4.3" fill="#3c3c3c" letter-spacing="0.05">TOPBP1</text>
<text x="73.60" y="216.32" font-size="4.3" fill="#3c3c3c" letter-spacing="0.05">MAD2L1</text>
<text x="73.60" y="220.73" font-size="4.3" fill="#3c3c3c" letter-spacing="0.05">PRIM1</text>
<text x="73.60" y="225.13" font-size="4.3" fill="#3c3c3c" letter-spacing="0.05">SETDB1</text>
<text x="73.60" y="229.53" font-size="4.3" fill="#3c3c3c" letter-spacing="0.05">PPP1CC</text>
<text x="73.60" y="233.94" font-size="4.3" fill="#3c3c3c" letter-spacing="0.05">XPO1</text>
<text x="73.60" y="238.34" font-size="4.3" fill="#3c3c3c" letter-spacing="0.05">TYMS</text>
<text x="73.60" y="242.74" font-size="4.3" fill="#3c3c3c" letter-spacing="0.05">AHCY</text>
<text x="73.60" y="247.14" font-size="4.3" fill="#3c3c3c" letter-spacing="0.05">DUT</text>
<text x="73.60" y="251.55" font-size="4.3" fill="#3c3c3c" letter-spacing="0.05">CUL2</text>
<text x="73.60" y="255.95" font-size="4.3" fill="#3c3c3c" letter-spacing="0.05">NAP1L1</text>
<line x1="70.60" y1="151.13" x2="89.30" y2="151.13" stroke="#e0102a" stroke-width="0.8"/>
<rect x="116.00" y="106.60" width="5.10" height="4.32" fill="#e33a4e"/>
<rect x="121.05" y="106.60" width="5.10" height="4.32" fill="#e33a4e"/>
<rect x="126.10" y="106.60" width="5.10" height="4.32" fill="#c8001e"/>
<rect x="131.15" y="106.60" width="5.10" height="4.32" fill="#e33a4e"/>
<rect x="136.20" y="106.60" width="5.10" height="4.32" fill="#33248e"/>
<rect x="141.25" y="106.60" width="5.10" height="4.32" fill="#33248e"/>
<rect x="146.30" y="106.60" width="5.10" height="4.32" fill="#6a6cc2"/>
<rect x="151.35" y="106.60" width="5.10" height="4.32" fill="#33248e"/>
<rect x="116.00" y="110.87" width="5.10" height="4.32" fill="#e33a4e"/>
<rect x="121.05" y="110.87" width="5.10" height="4.32" fill="#e33a4e"/>
<rect x="126.10" y="110.87" width="5.10" height="4.32" fill="#c8001e"/>
<rect x="131.15" y="110.87" width="5.10" height="4.32" fill="#e33a4e"/>
<rect x="136.20" y="110.87" width="5.10" height="4.32" fill="#33248e"/>
<rect x="141.25" y="110.87" width="5.10" height="4.32" fill="#33248e"/>
<rect x="146.30" y="110.87" width="5.10" height="4.32" fill="#6a6cc2"/>
<rect x="151.35" y="110.87" width="5.10" height="4.32" fill="#33248e"/>
<rect x="116.00" y="115.14" width="5.10" height="4.32" fill="#e33a4e"/>
<rect x="121.05" y="115.14" width="5.10" height="4.32" fill="#e33a4e"/>
<rect x="126.10" y="115.14" width="5.10" height="4.32" fill="#c8001e"/>
<rect x="131.15" y="115.14" width="5.10" height="4.32" fill="#c8001e"/>
<rect x="136.20" y="115.14" width="5.10" height="4.32" fill="#33248e"/>
<rect x="141.25" y="115.14" width="5.10" height="4.32" fill="#33248e"/>
<rect x="146.30" y="115.14" width="5.10" height="4.32" fill="#a3a3dd"/>
<rect x="151.35" y="115.14" width="5.10" height="4.32" fill="#6a6cc2"/>
<rect x="116.00" y="119.41" width="5.10" height="4.32" fill="#c8001e"/>
<rect x="121.05" y="119.41" width="5.10" height="4.32" fill="#e33a4e"/>
<rect x="126.10" y="119.41" width="5.10" height="4.32" fill="#e33a4e"/>
<rect x="131.15" y="119.41" width="5.10" height="4.32" fill="#c8001e"/>
<rect x="136.20" y="119.41" width="5.10" height="4.32" fill="#33248e"/>
<rect x="141.25" y="119.41" width="5.10" height="4.32" fill="#33248e"/>
<rect x="146.30" y="119.41" width="5.10" height="4.32" fill="#6a6cc2"/>
<rect x="151.35" y="119.41" width="5.10" height="4.32" fill="#6a6cc2"/>
<rect x="116.00" y="123.69" width="5.10" height="4.32" fill="#e33a4e"/>
<rect x="121.05" y="123.69" width="5.10" height="4.32" fill="#c8001e"/>
<rect x="126.10" y="123.69" width="5.10" height="4.32" fill="#c8001e"/>
<rect x="131.15" y="123.69" width="5.10" height="4.32" fill="#c8001e"/>
<rect x="136.20" y="123.69" width="5.10" height="4.32" fill="#33248e"/>
<rect x="141.25" y="123.69" width="5.10" height="4.32" fill="#33248e"/>
<rect x="146.30" y="123.69" width="5.10" height="4.32" fill="#a3a3dd"/>
<rect x="151.35" y="123.69" width="5.10" height="4.32" fill="#6a6cc2"/>
<rect x="116.00" y="127.96" width="5.10" height="4.32" fill="#c8001e"/>
<rect x="121.05" y="127.96" width="5.10" height="4.32" fill="#e33a4e"/>
<rect x="126.10" y="127.96" width="5.10" height="4.32" fill="#c8001e"/>
<rect x="131.15" y="127.96" width="5.10" height="4.32" fill="#c8001e"/>
<rect x="136.20" y="127.96" width="5.10" height="4.32" fill="#33248e"/>
<rect x="141.25" y="127.96" width="5.10" height="4.32" fill="#33248e"/>
<rect x="146.30" y="127.96" width="5.10" height="4.32" fill="#6a6cc2"/>
<rect x="151.35" y="127.96" width="5.10" height="4.32" fill="#a3a3dd"/>
<rect x="116.00" y="132.23" width="5.10" height="4.32" fill="#e33a4e"/>
<rect x="121.05" y="132.23" width="5.10" height="4.32" fill="#c8001e"/>
<rect x="126.10" y="132.23" width="5.10" height="4.32" fill="#e33a4e"/>
<rect x="131.15" y="132.23" width="5.10" height="4.32" fill="#e33a4e"/>
<rect x="136.20" y="132.23" width="5.10" height="4.32" fill="#33248e"/>
<rect x="141.25" y="132.23" width="5.10" height="4.32" fill="#33248e"/>
<rect x="146.30" y="132.23" width="5.10" height="4.32" fill="#6a6cc2"/>
<rect x="151.35" y="132.23" width="5.10" height="4.32" fill="#a3a3dd"/>
<rect x="116.00" y="136.50" width="5.10" height="4.32" fill="#c8001e"/>
<rect x="121.05" y="136.50" width="5.10" height="4.32" fill="#c8001e"/>
<rect x="126.10" y="136.50" width="5.10" height="4.32" fill="#e33a4e"/>
<rect x="131.15" y="136.50" width="5.10" height="4.32" fill="#c8001e"/>
<rect x="136.20" y="136.50" width="5.10" height="4.32" fill="#33248e"/>
<rect x="141.25" y="136.50" width="5.10" height="4.32" fill="#33248e"/>
<rect x="146.30" y="136.50" width="5.10" height="4.32" fill="#6a6cc2"/>
<rect x="151.35" y="136.50" width="5.10" height="4.32" fill="#a3a3dd"/>
<rect x="116.00" y="140.77" width="5.10" height="4.32" fill="#c8001e"/>
<rect x="121.05" y="140.77" width="5.10" height="4.32" fill="#c8001e"/>
<rect x="126.10" y="140.77" width="5.10" height="4.32" fill="#e33a4e"/>
<rect x="131.15" y="140.77" width="5.10" height="4.32" fill="#e33a4e"/>
<rect x="136.20" y="140.77" width="5.10" height="4.32" fill="#33248e"/>
<rect x="141.25" y="140.77" width="5.10" height="4.32" fill="#33248e"/>
<rect x="146.30" y="140.77" width="5.10" height="4.32" fill="#6a6cc2"/>
<rect x="151.35" y="140.77" width="5.10" height="4.32" fill="#6a6cc2"/>
<rect x="116.00" y="145.04" width="5.10" height="4.32" fill="#c8001e"/>
<rect x="121.05" y="145.04" width="5.10" height="4.32" fill="#c8001e"/>
<rect x="126.10" y="145.04" width="5.10" height="4.32" fill="#f2808f"/>
<rect x="131.15" y="145.04" width="5.10" height="4.32" fill="#f2808f"/>
<rect x="136.20" y="145.04" width="5.10" height="4.32" fill="#33248e"/>
<rect x="141.25" y="145.04" width="5.10" height="4.32" fill="#33248e"/>
<rect x="146.30" y="145.04" width="5.10" height="4.32" fill="#6a6cc2"/>
<rect x="151.35" y="145.04" width="5.10" height="4.32" fill="#6a6cc2"/>
<rect x="116.00" y="149.31" width="5.10" height="4.32" fill="#c8001e"/>
<rect x="121.05" y="149.31" width="5.10" height="4.32" fill="#c8001e"/>
<rect x="126.10" y="149.31" width="5.10" height="4.32" fill="#e33a4e"/>
<rect x="131.15" y="149.31" width="5.10" height="4.32" fill="#e33a4e"/>
<rect x="136.20" y="149.31" width="5.10" height="4.32" fill="#33248e"/>
<rect x="141.25" y="149.31" width="5.10" height="4.32" fill="#33248e"/>
<rect x="146.30" y="149.31" width="5.10" height="4.32" fill="#6a6cc2"/>
<rect x="151.35" y="149.31" width="5.10" height="4.32" fill="#a3a3dd"/>
<rect x="116.00" y="153.59" width="5.10" height="4.32" fill="#f2808f"/>
<rect x="121.05" y="153.59" width="5.10" height="4.32" fill="#f2808f"/>
<rect x="126.10" y="153.59" width="5.10" height="4.32" fill="#c8001e"/>
<rect x="131.15" y="153.59" width="5.10" height="4.32" fill="#c8001e"/>
<rect x="136.20" y="153.59" width="5.10" height="4.32" fill="#33248e"/>
<rect x="141.25" y="153.59" width="5.10" height="4.32" fill="#33248e"/>
<rect x="146.30" y="153.59" width="5.10" height="4.32" fill="#6a6cc2"/>
<rect x="151.35" y="153.59" width="5.10" height="4.32" fill="#a3a3dd"/>
<rect x="116.00" y="157.86" width="5.10" height="4.32" fill="#c8001e"/>
<rect x="121.05" y="157.86" width="5.10" height="4.32" fill="#c8001e"/>
<rect x="126.10" y="157.86" width="5.10" height="4.32" fill="#c8001e"/>
<rect x="131.15" y="157.86" width="5.10" height="4.32" fill="#e33a4e"/>
<rect x="136.20" y="157.86" width="5.10" height="4.32" fill="#33248e"/>
<rect x="141.25" y="157.86" width="5.10" height="4.32" fill="#33248e"/>
<rect x="146.30" y="157.86" width="5.10" height="4.32" fill="#a3a3dd"/>
<rect x="151.35" y="157.86" width="5.10" height="4.32" fill="#a3a3dd"/>
<rect x="116.00" y="162.13" width="5.10" height="4.32" fill="#f2808f"/>
<rect x="121.05" y="162.13" width="5.10" height="4.32" fill="#e33a4e"/>
<rect x="126.10" y="162.13" width="5.10" height="4.32" fill="#c8001e"/>
<rect x="131.15" y="162.13" width="5.10" height="4.32" fill="#c8001e"/>
<rect x="136.20" y="162.13" width="5.10" height="4.32" fill="#33248e"/>
<rect x="141.25" y="162.13" width="5.10" height="4.32" fill="#33248e"/>
<rect x="146.30" y="162.13" width="5.10" height="4.32" fill="#6a6cc2"/>
<rect x="151.35" y="162.13" width="5.10" height="4.32" fill="#6a6cc2"/>
<rect x="116.00" y="166.40" width="5.10" height="4.32" fill="#e33a4e"/>
<rect x="121.05" y="166.40" width="5.10" height="4.32" fill="#e33a4e"/>
<rect x="126.10" y="166.40" width="5.10" height="4.32" fill="#c8001e"/>
<rect x="131.15" y="166.40" width="5.10" height="4.32" fill="#f2808f"/>
<rect x="136.20" y="166.40" width="5.10" height="4.32" fill="#33248e"/>
<rect x="141.25" y="166.40" width="5.10" height="4.32" fill="#33248e"/>
<rect x="146.30" y="166.40" width="5.10" height="4.32" fill="#6a6cc2"/>
<rect x="151.35" y="166.40" width="5.10" height="4.32" fill="#33248e"/>
<rect x="116.00" y="170.67" width="5.10" height="4.32" fill="#e33a4e"/>
<rect x="121.05" y="170.67" width="5.10" height="4.32" fill="#e33a4e"/>
<rect x="126.10" y="170.67" width="5.10" height="4.32" fill="#c8001e"/>
<rect x="131.15" y="170.67" width="5.10" height="4.32" fill="#c8001e"/>
<rect x="136.20" y="170.67" width="5.10" height="4.32" fill="#33248e"/>
<rect x="141.25" y="170.67" width="5.10" height="4.32" fill="#33248e"/>
<rect x="146.30" y="170.67" width="5.10" height="4.32" fill="#a3a3dd"/>
<rect x="151.35" y="170.67" width="5.10" height="4.32" fill="#a3a3dd"/>
<rect x="116.00" y="174.94" width="5.10" height="4.32" fill="#c8001e"/>
<rect x="121.05" y="174.94" width="5.10" height="4.32" fill="#c8001e"/>
<rect x="126.10" y="174.94" width="5.10" height="4.32" fill="#f2808f"/>
<rect x="131.15" y="174.94" width="5.10" height="4.32" fill="#e33a4e"/>
<rect x="136.20" y="174.94" width="5.10" height="4.32" fill="#33248e"/>
<rect x="141.25" y="174.94" width="5.10" height="4.32" fill="#33248e"/>
<rect x="146.30" y="174.94" width="5.10" height="4.32" fill="#a3a3dd"/>
<rect x="151.35" y="174.94" width="5.10" height="4.32" fill="#a3a3dd"/>
<rect x="116.00" y="179.21" width="5.10" height="4.32" fill="#e33a4e"/>
<rect x="121.05" y="179.21" width="5.10" height="4.32" fill="#e33a4e"/>
<rect x="126.10" y="179.21" width="5.10" height="4.32" fill="#c8001e"/>
<rect x="131.15" y="179.21" width="5.10" height="4.32" fill="#c8001e"/>
<rect x="136.20" y="179.21" width="5.10" height="4.32" fill="#33248e"/>
<rect x="141.25" y="179.21" width="5.10" height="4.32" fill="#33248e"/>
<rect x="146.30" y="179.21" width="5.10" height="4.32" fill="#a3a3dd"/>
<rect x="151.35" y="179.21" width="5.10" height="4.32" fill="#a3a3dd"/>
<rect x="116.00" y="183.49" width="5.10" height="4.32" fill="#e33a4e"/>
<rect x="121.05" y="183.49" width="5.10" height="4.32" fill="#c8001e"/>
<rect x="126.10" y="183.49" width="5.10" height="4.32" fill="#c8001e"/>
<rect x="131.15" y="183.49" width="5.10" height="4.32" fill="#c8001e"/>
<rect x="136.20" y="183.49" width="5.10" height="4.32" fill="#33248e"/>
<rect x="141.25" y="183.49" width="5.10" height="4.32" fill="#33248e"/>
<rect x="146.30" y="183.49" width="5.10" height="4.32" fill="#a3a3dd"/>
<rect x="151.35" y="183.49" width="5.10" height="4.32" fill="#a3a3dd"/>
<rect x="116.00" y="187.76" width="5.10" height="4.32" fill="#e33a4e"/>
<rect x="121.05" y="187.76" width="5.10" height="4.32" fill="#f2808f"/>
<rect x="126.10" y="187.76" width="5.10" height="4.32" fill="#c8001e"/>
<rect x="131.15" y="187.76" width="5.10" height="4.32" fill="#c8001e"/>
<rect x="136.20" y="187.76" width="5.10" height="4.32" fill="#33248e"/>
<rect x="141.25" y="187.76" width="5.10" height="4.32" fill="#33248e"/>
<rect x="146.30" y="187.76" width="5.10" height="4.32" fill="#a3a3dd"/>
<rect x="151.35" y="187.76" width="5.10" height="4.32" fill="#a3a3dd"/>
<rect x="116.00" y="192.03" width="5.10" height="4.32" fill="#c8001e"/>
<rect x="121.05" y="192.03" width="5.10" height="4.32" fill="#e33a4e"/>
<rect x="126.10" y="192.03" width="5.10" height="4.32" fill="#c8001e"/>
<rect x="131.15" y="192.03" width="5.10" height="4.32" fill="#c8001e"/>
<rect x="136.20" y="192.03" width="5.10" height="4.32" fill="#33248e"/>
<rect x="141.25" y="192.03" width="5.10" height="4.32" fill="#33248e"/>
<rect x="146.30" y="192.03" width="5.10" height="4.32" fill="#a3a3dd"/>
<rect x="151.35" y="192.03" width="5.10" height="4.32" fill="#a3a3dd"/>
<rect x="116.00" y="196.30" width="5.10" height="4.32" fill="#e33a4e"/>
<rect x="121.05" y="196.30" width="5.10" height="4.32" fill="#e33a4e"/>
<rect x="126.10" y="196.30" width="5.10" height="4.32" fill="#c8001e"/>
<rect x="131.15" y="196.30" width="5.10" height="4.32" fill="#c8001e"/>
<rect x="136.20" y="196.30" width="5.10" height="4.32" fill="#33248e"/>
<rect x="141.25" y="196.30" width="5.10" height="4.32" fill="#33248e"/>
<rect x="146.30" y="196.30" width="5.10" height="4.32" fill="#a3a3dd"/>
<rect x="151.35" y="196.30" width="5.10" height="4.32" fill="#6a6cc2"/>
<rect x="116.00" y="200.57" width="5.10" height="4.32" fill="#c8001e"/>
<rect x="121.05" y="200.57" width="5.10" height="4.32" fill="#c8001e"/>
<rect x="126.10" y="200.57" width="5.10" height="4.32" fill="#c8001e"/>
<rect x="131.15" y="200.57" width="5.10" height="4.32" fill="#e33a4e"/>
<rect x="136.20" y="200.57" width="5.10" height="4.32" fill="#33248e"/>
<rect x="141.25" y="200.57" width="5.10" height="4.32" fill="#33248e"/>
<rect x="146.30" y="200.57" width="5.10" height="4.32" fill="#ece9f5"/>
<rect x="151.35" y="200.57" width="5.10" height="4.32" fill="#a3a3dd"/>
<rect x="116.00" y="204.84" width="5.10" height="4.32" fill="#c8001e"/>
<rect x="121.05" y="204.84" width="5.10" height="4.32" fill="#c8001e"/>
<rect x="126.10" y="204.84" width="5.10" height="4.32" fill="#f2808f"/>
<rect x="131.15" y="204.84" width="5.10" height="4.32" fill="#e33a4e"/>
<rect x="136.20" y="204.84" width="5.10" height="4.32" fill="#33248e"/>
<rect x="141.25" y="204.84" width="5.10" height="4.32" fill="#33248e"/>
<rect x="146.30" y="204.84" width="5.10" height="4.32" fill="#ece9f5"/>
<rect x="151.35" y="204.84" width="5.10" height="4.32" fill="#6a6cc2"/>
<rect x="116.00" y="209.11" width="5.10" height="4.32" fill="#c8001e"/>
<rect x="121.05" y="209.11" width="5.10" height="4.32" fill="#f2808f"/>
<rect x="126.10" y="209.11" width="5.10" height="4.32" fill="#f2808f"/>
<rect x="131.15" y="209.11" width="5.10" height="4.32" fill="#e33a4e"/>
<rect x="136.20" y="209.11" width="5.10" height="4.32" fill="#33248e"/>
<rect x="141.25" y="209.11" width="5.10" height="4.32" fill="#33248e"/>
<rect x="146.30" y="209.11" width="5.10" height="4.32" fill="#6a6cc2"/>
<rect x="151.35" y="209.11" width="5.10" height="4.32" fill="#ece9f5"/>
<rect x="116.00" y="213.39" width="5.10" height="4.32" fill="#f2808f"/>
<rect x="121.05" y="213.39" width="5.10" height="4.32" fill="#f7c3cb"/>
<rect x="126.10" y="213.39" width="5.10" height="4.32" fill="#c8001e"/>
<rect x="131.15" y="213.39" width="5.10" height="4.32" fill="#c8001e"/>
<rect x="136.20" y="213.39" width="5.10" height="4.32" fill="#33248e"/>
<rect x="141.25" y="213.39" width="5.10" height="4.32" fill="#33248e"/>
<rect x="146.30" y="213.39" width="5.10" height="4.32" fill="#a3a3dd"/>
<rect x="151.35" y="213.39" width="5.10" height="4.32" fill="#6a6cc2"/>
<rect x="116.00" y="217.66" width="5.10" height="4.32" fill="#f7c3cb"/>
<rect x="121.05" y="217.66" width="5.10" height="4.32" fill="#f7c3cb"/>
<rect x="126.10" y="217.66" width="5.10" height="4.32" fill="#c8001e"/>
<rect x="131.15" y="217.66" width="5.10" height="4.32" fill="#c8001e"/>
<rect x="136.20" y="217.66" width="5.10" height="4.32" fill="#33248e"/>
<rect x="141.25" y="217.66" width="5.10" height="4.32" fill="#33248e"/>
<rect x="146.30" y="217.66" width="5.10" height="4.32" fill="#ece9f5"/>
<rect x="151.35" y="217.66" width="5.10" height="4.32" fill="#a3a3dd"/>
<rect x="116.00" y="221.93" width="5.10" height="4.32" fill="#f7c3cb"/>
<rect x="121.05" y="221.93" width="5.10" height="4.32" fill="#f7c3cb"/>
<rect x="126.10" y="221.93" width="5.10" height="4.32" fill="#c8001e"/>
<rect x="131.15" y="221.93" width="5.10" height="4.32" fill="#c8001e"/>
<rect x="136.20" y="221.93" width="5.10" height="4.32" fill="#33248e"/>
<rect x="141.25" y="221.93" width="5.10" height="4.32" fill="#33248e"/>
<rect x="146.30" y="221.93" width="5.10" height="4.32" fill="#ece9f5"/>
<rect x="151.35" y="221.93" width="5.10" height="4.32" fill="#ece9f5"/>
<rect x="116.00" y="226.20" width="5.10" height="4.32" fill="#c8001e"/>
<rect x="121.05" y="226.20" width="5.10" height="4.32" fill="#c8001e"/>
<rect x="126.10" y="226.20" width="5.10" height="4.32" fill="#6a6cc2"/>
<rect x="131.15" y="226.20" width="5.10" height="4.32" fill="#33248e"/>
<rect x="136.20" y="226.20" width="5.10" height="4.32" fill="#33248e"/>
<rect x="141.25" y="226.20" width="5.10" height="4.32" fill="#a3a3dd"/>
<rect x="146.30" y="226.20" width="5.10" height="4.32" fill="#6a6cc2"/>
<rect x="151.35" y="226.20" width="5.10" height="4.32" fill="#6a6cc2"/>
<rect x="116.00" y="230.47" width="5.10" height="4.32" fill="#c8001e"/>
<rect x="121.05" y="230.47" width="5.10" height="4.32" fill="#c8001e"/>
<rect x="126.10" y="230.47" width="5.10" height="4.32" fill="#ece9f5"/>
<rect x="131.15" y="230.47" width="5.10" height="4.32" fill="#ece9f5"/>
<rect x="136.20" y="230.47" width="5.10" height="4.32" fill="#33248e"/>
<rect x="141.25" y="230.47" width="5.10" height="4.32" fill="#33248e"/>
<rect x="146.30" y="230.47" width="5.10" height="4.32" fill="#f2808f"/>
<rect x="151.35" y="230.47" width="5.10" height="4.32" fill="#f2808f"/>
<rect x="116.00" y="234.74" width="5.10" height="4.32" fill="#c8001e"/>
<rect x="121.05" y="234.74" width="5.10" height="4.32" fill="#c8001e"/>
<rect x="126.10" y="234.74" width="5.10" height="4.32" fill="#33248e"/>
<rect x="131.15" y="234.74" width="5.10" height="4.32" fill="#33248e"/>
<rect x="136.20" y="234.74" width="5.10" height="4.32" fill="#ece9f5"/>
<rect x="141.25" y="234.74" width="5.10" height="4.32" fill="#ece9f5"/>
<rect x="146.30" y="234.74" width="5.10" height="4.32" fill="#a3a3dd"/>
<rect x="151.35" y="234.74" width="5.10" height="4.32" fill="#6a6cc2"/>
<rect x="116.00" y="239.01" width="5.10" height="4.32" fill="#e33a4e"/>
<rect x="121.05" y="239.01" width="5.10" height="4.32" fill="#c8001e"/>
<rect x="126.10" y="239.01" width="5.10" height="4.32" fill="#33248e"/>
<rect x="131.15" y="239.01" width="5.10" height="4.32" fill="#33248e"/>
<rect x="136.20" y="239.01" width="5.10" height="4.32" fill="#ece9f5"/>
<rect x="141.25" y="239.01" width="5.10" height="4.32" fill="#ece9f5"/>
<rect x="146.30" y="239.01" width="5.10" height="4.32" fill="#33248e"/>
<rect x="151.35" y="239.01" width="5.10" height="4.32" fill="#6a6cc2"/>
<rect x="116.00" y="243.29" width="5.10" height="4.32" fill="#e33a4e"/>
<rect x="121.05" y="243.29" width="5.10" height="4.32" fill="#f2808f"/>
<rect x="126.10" y="243.29" width="5.10" height="4.32" fill="#33248e"/>
<rect x="131.15" y="243.29" width="5.10" height="4.32" fill="#c8001e"/>
<rect x="136.20" y="243.29" width="5.10" height="4.32" fill="#ece9f5"/>
<rect x="141.25" y="243.29" width="5.10" height="4.32" fill="#ece9f5"/>
<rect x="146.30" y="243.29" width="5.10" height="4.32" fill="#f2808f"/>
<rect x="151.35" y="243.29" width="5.10" height="4.32" fill="#f2808f"/>
<rect x="116.00" y="247.56" width="5.10" height="4.32" fill="#ece9f5"/>
<rect x="121.05" y="247.56" width="5.10" height="4.32" fill="#f2808f"/>
<rect x="126.10" y="247.56" width="5.10" height="4.32" fill="#33248e"/>
<rect x="131.15" y="247.56" width="5.10" height="4.32" fill="#6a6cc2"/>
<rect x="136.20" y="247.56" width="5.10" height="4.32" fill="#e33a4e"/>
<rect x="141.25" y="247.56" width="5.10" height="4.32" fill="#c8001e"/>
<rect x="146.30" y="247.56" width="5.10" height="4.32" fill="#6a6cc2"/>
<rect x="151.35" y="247.56" width="5.10" height="4.32" fill="#6a6cc2"/>
<rect x="116.00" y="251.83" width="5.10" height="4.32" fill="#f2808f"/>
<rect x="121.05" y="251.83" width="5.10" height="4.32" fill="#ece9f5"/>
<rect x="126.10" y="251.83" width="5.10" height="4.32" fill="#33248e"/>
<rect x="131.15" y="251.83" width="5.10" height="4.32" fill="#33248e"/>
<rect x="136.20" y="251.83" width="5.10" height="4.32" fill="#c8001e"/>
<rect x="141.25" y="251.83" width="5.10" height="4.32" fill="#c8001e"/>
<rect x="146.30" y="251.83" width="5.10" height="4.32" fill="#ece9f5"/>
<rect x="151.35" y="251.83" width="5.10" height="4.32" fill="#f7c3cb"/>
<path d="M116.00 106.60V256.10 M121.05 106.60V256.10 M126.10 106.60V256.10 M131.15 106.60V256.10 M136.20 106.60V256.10 M141.25 106.60V256.10 M146.30 106.60V256.10 M151.35 106.60V256.10 M156.40 106.60V256.10 M116.00 106.60H156.40 M116.00 110.87H156.40 M116.00 115.14H156.40 M116.00 119.41H156.40 M116.00 123.69H156.40 M116.00 127.96H156.40 M116.00 132.23H156.40 M116.00 136.50H156.40 M116.00 140.77H156.40 M116.00 145.04H156.40 M116.00 149.31H156.40 M116.00 153.59H156.40 M116.00 157.86H156.40 M116.00 162.13H156.40 M116.00 166.40H156.40 M116.00 170.67H156.40 M116.00 174.94H156.40 M116.00 179.21H156.40 M116.00 183.49H156.40 M116.00 187.76H156.40 M116.00 192.03H156.40 M116.00 196.30H156.40 M116.00 200.57H156.40 M116.00 204.84H156.40 M116.00 209.11H156.40 M116.00 213.39H156.40 M116.00 217.66H156.40 M116.00 221.93H156.40 M116.00 226.20H156.40 M116.00 230.47H156.40 M116.00 234.74H156.40 M116.00 239.01H156.40 M116.00 243.29H156.40 M116.00 247.56H156.40 M116.00 251.83H156.40 M116.00 256.10H156.40" stroke="#1e0a2a" stroke-opacity="0.4" stroke-width="0.5" fill="none"/>
<path d="M157.00 106.60H179.80 M157.00 110.87H179.80 M157.00 115.14H179.80 M157.00 119.41H179.80 M157.00 123.69H179.80 M157.00 127.96H179.80 M157.00 132.23H179.80 M157.00 136.50H179.80 M157.00 140.77H179.80 M157.00 145.04H179.80 M157.00 149.31H179.80 M157.00 153.59H179.80 M157.00 157.86H179.80 M157.00 162.13H179.80 M157.00 166.40H179.80 M157.00 170.67H179.80 M157.00 174.94H179.80 M157.00 179.21H179.80 M157.00 183.49H179.80 M157.00 187.76H179.80 M157.00 192.03H179.80 M157.00 196.30H179.80 M157.00 200.57H179.80 M157.00 204.84H179.80 M157.00 209.11H179.80 M157.00 213.39H179.80 M157.00 217.66H179.80 M157.00 221.93H179.80 M157.00 226.20H179.80 M157.00 230.47H179.80 M157.00 234.74H179.80 M157.00 239.01H179.80 M157.00 243.29H179.80 M157.00 247.56H179.80 M157.00 251.83H179.80 M157.00 256.10H179.80" stroke="#b4b4b4" stroke-width="0.45" fill="none"/>
<text x="160.80" y="110.02" font-size="4.3" fill="#3c3c3c" letter-spacing="0.05">MCM2</text>
<text x="160.80" y="114.29" font-size="4.3" fill="#3c3c3c" letter-spacing="0.05">HAT1</text>
<text x="160.80" y="118.56" font-size="4.3" fill="#3c3c3c" letter-spacing="0.05">KNL1</text>
<text x="160.80" y="122.84" font-size="4.3" fill="#3c3c3c" letter-spacing="0.05">TACC3</text>
<text x="160.80" y="127.11" font-size="4.3" fill="#3c3c3c" letter-spacing="0.05">CDCA7</text>
<text x="160.80" y="131.38" font-size="4.3" fill="#3c3c3c" letter-spacing="0.05">RRM1</text>
<text x="160.80" y="135.65" font-size="4.3" fill="#3c3c3c" letter-spacing="0.05">PBK</text>
<text x="160.80" y="139.92" font-size="4.3" fill="#3c3c3c" letter-spacing="0.05">KPNA2</text>
<text x="160.80" y="144.19" font-size="4.3" fill="#3c3c3c" letter-spacing="0.05">AURKB</text>
<text x="160.80" y="148.46" font-size="4.3" fill="#3c3c3c" letter-spacing="0.05">ECT2</text>
<text x="160.80" y="152.74" font-size="4.3" fill="#3c3c3c" letter-spacing="0.05">MAD2L1</text>
<text x="160.80" y="157.01" font-size="4.3" fill="#3c3c3c" letter-spacing="0.05">MCM3</text>
<text x="160.80" y="161.28" font-size="4.3" fill="#3c3c3c" letter-spacing="0.05">MKI67</text>
<text x="160.80" y="165.55" font-size="4.3" fill="#3c3c3c" letter-spacing="0.05">EZH2</text>
<text x="160.80" y="169.82" font-size="4.3" fill="#3c3c3c" letter-spacing="0.05">PCNA</text>
<text x="160.80" y="174.09" font-size="4.3" fill="#3c3c3c" letter-spacing="0.05">TOP2A</text>
<text x="160.80" y="178.36" font-size="4.3" fill="#3c3c3c" letter-spacing="0.05">MCM4</text>
<text x="160.80" y="182.64" font-size="4.3" fill="#3c3c3c" letter-spacing="0.05">RRM2</text>
<text x="160.80" y="186.91" font-size="4.3" fill="#3c3c3c" letter-spacing="0.05">POLE2</text>
<text x="160.80" y="191.18" font-size="4.3" fill="#3c3c3c" letter-spacing="0.05">CDCA8</text>
<text x="160.80" y="195.45" font-size="4.3" fill="#3c3c3c" letter-spacing="0.05">CCNB2</text>
<text x="160.80" y="199.72" font-size="4.3" fill="#3c3c3c" letter-spacing="0.05">NEK2</text>
<text x="160.80" y="203.99" font-size="4.3" fill="#3c3c3c" letter-spacing="0.05">TOP1</text>
<text x="160.80" y="208.26" font-size="4.3" fill="#3c3c3c" letter-spacing="0.05">RFC4</text>
<text x="160.80" y="212.54" font-size="4.3" fill="#3c3c3c" letter-spacing="0.05">TOPBP1</text>
<text x="160.80" y="216.81" font-size="4.3" fill="#3c3c3c" letter-spacing="0.05">DUT</text>
<text x="160.80" y="221.08" font-size="4.3" fill="#3c3c3c" letter-spacing="0.05">XPO1</text>
<text x="160.80" y="225.35" font-size="4.3" fill="#3c3c3c" letter-spacing="0.05">PPP1CC</text>
<text x="160.80" y="229.62" font-size="4.3" fill="#3c3c3c" letter-spacing="0.05">CUL2</text>
<text x="160.80" y="233.89" font-size="4.3" fill="#3c3c3c" letter-spacing="0.05">AHCY</text>
<text x="160.80" y="238.16" font-size="4.3" fill="#3c3c3c" letter-spacing="0.05">GMNN</text>
<text x="160.80" y="242.44" font-size="4.3" fill="#3c3c3c" letter-spacing="0.05">SETDB1</text>
<text x="160.80" y="246.71" font-size="4.3" fill="#3c3c3c" letter-spacing="0.05">NAP1L1</text>
<text x="160.80" y="250.98" font-size="4.3" fill="#3c3c3c" letter-spacing="0.05">PRIM1</text>
<text x="160.80" y="255.25" font-size="4.3" fill="#3c3c3c" letter-spacing="0.05">TYMS</text>
<line x1="157.20" y1="168.32" x2="176.80" y2="168.32" stroke="#e0102a" stroke-width="0.8"/>
<rect x="204.70" y="106.10" width="5.23" height="4.46" fill="#c8001e"/>
<rect x="209.88" y="106.10" width="5.23" height="4.46" fill="#c8001e"/>
<rect x="215.05" y="106.10" width="5.23" height="4.46" fill="#f2808f"/>
<rect x="220.22" y="106.10" width="5.23" height="4.46" fill="#f2808f"/>
<rect x="225.40" y="106.10" width="5.23" height="4.46" fill="#a3a3dd"/>
<rect x="230.57" y="106.10" width="5.23" height="4.46" fill="#6a6cc2"/>
<rect x="235.75" y="106.10" width="5.23" height="4.46" fill="#33248e"/>
<rect x="240.93" y="106.10" width="5.23" height="4.46" fill="#33248e"/>
<rect x="204.70" y="110.51" width="5.23" height="4.46" fill="#f2808f"/>
<rect x="209.88" y="110.51" width="5.23" height="4.46" fill="#f2808f"/>
<rect x="215.05" y="110.51" width="5.23" height="4.46" fill="#c8001e"/>
<rect x="220.22" y="110.51" width="5.23" height="4.46" fill="#c8001e"/>
<rect x="225.40" y="110.51" width="5.23" height="4.46" fill="#33248e"/>
<rect x="230.57" y="110.51" width="5.23" height="4.46" fill="#6a6cc2"/>
<rect x="235.75" y="110.51" width="5.23" height="4.46" fill="#6a6cc2"/>
<rect x="240.93" y="110.51" width="5.23" height="4.46" fill="#33248e"/>
<rect x="204.70" y="114.93" width="5.23" height="4.46" fill="#c8001e"/>
<rect x="209.88" y="114.93" width="5.23" height="4.46" fill="#c8001e"/>
<rect x="215.05" y="114.93" width="5.23" height="4.46" fill="#f7c3cb"/>
<rect x="220.22" y="114.93" width="5.23" height="4.46" fill="#f7c3cb"/>
<rect x="225.40" y="114.93" width="5.23" height="4.46" fill="#33248e"/>
<rect x="230.57" y="114.93" width="5.23" height="4.46" fill="#33248e"/>
<rect x="235.75" y="114.93" width="5.23" height="4.46" fill="#6a6cc2"/>
<rect x="240.93" y="114.93" width="5.23" height="4.46" fill="#a3a3dd"/>
<rect x="204.70" y="119.34" width="5.23" height="4.46" fill="#e33a4e"/>
<rect x="209.88" y="119.34" width="5.23" height="4.46" fill="#c8001e"/>
<rect x="215.05" y="119.34" width="5.23" height="4.46" fill="#f7c3cb"/>
<rect x="220.22" y="119.34" width="5.23" height="4.46" fill="#f2808f"/>
<rect x="225.40" y="119.34" width="5.23" height="4.46" fill="#33248e"/>
<rect x="230.57" y="119.34" width="5.23" height="4.46" fill="#6a6cc2"/>
<rect x="235.75" y="119.34" width="5.23" height="4.46" fill="#a3a3dd"/>
<rect x="240.93" y="119.34" width="5.23" height="4.46" fill="#33248e"/>
<rect x="204.70" y="123.76" width="5.23" height="4.46" fill="#c8001e"/>
<rect x="209.88" y="123.76" width="5.23" height="4.46" fill="#e33a4e"/>
<rect x="215.05" y="123.76" width="5.23" height="4.46" fill="#e33a4e"/>
<rect x="220.22" y="123.76" width="5.23" height="4.46" fill="#e33a4e"/>
<rect x="225.40" y="123.76" width="5.23" height="4.46" fill="#33248e"/>
<rect x="230.57" y="123.76" width="5.23" height="4.46" fill="#33248e"/>
<rect x="235.75" y="123.76" width="5.23" height="4.46" fill="#f7c3cb"/>
<rect x="240.93" y="123.76" width="5.23" height="4.46" fill="#f7c3cb"/>
<rect x="204.70" y="128.17" width="5.23" height="4.46" fill="#e33a4e"/>
<rect x="209.88" y="128.17" width="5.23" height="4.46" fill="#c8001e"/>
<rect x="215.05" y="128.17" width="5.23" height="4.46" fill="#f2808f"/>
<rect x="220.22" y="128.17" width="5.23" height="4.46" fill="#f2808f"/>
<rect x="225.40" y="128.17" width="5.23" height="4.46" fill="#ece9f5"/>
<rect x="230.57" y="128.17" width="5.23" height="4.46" fill="#ece9f5"/>
<rect x="235.75" y="128.17" width="5.23" height="4.46" fill="#33248e"/>
<rect x="240.93" y="128.17" width="5.23" height="4.46" fill="#33248e"/>
<rect x="204.70" y="132.59" width="5.23" height="4.46" fill="#e33a4e"/>
<rect x="209.88" y="132.59" width="5.23" height="4.46" fill="#c8001e"/>
<rect x="215.05" y="132.59" width="5.23" height="4.46" fill="#e33a4e"/>
<rect x="220.22" y="132.59" width="5.23" height="4.46" fill="#e33a4e"/>
<rect x="225.40" y="132.59" width="5.23" height="4.46" fill="#f7c3cb"/>
<rect x="230.57" y="132.59" width="5.23" height="4.46" fill="#ece9f5"/>
<rect x="235.75" y="132.59" width="5.23" height="4.46" fill="#33248e"/>
<rect x="240.93" y="132.59" width="5.23" height="4.46" fill="#33248e"/>
<rect x="204.70" y="137.00" width="5.23" height="4.46" fill="#f2808f"/>
<rect x="209.88" y="137.00" width="5.23" height="4.46" fill="#c8001e"/>
<rect x="215.05" y="137.00" width="5.23" height="4.46" fill="#f7c3cb"/>
<rect x="220.22" y="137.00" width="5.23" height="4.46" fill="#f2808f"/>
<rect x="225.40" y="137.00" width="5.23" height="4.46" fill="#a3a3dd"/>
<rect x="230.57" y="137.00" width="5.23" height="4.46" fill="#ece9f5"/>
<rect x="235.75" y="137.00" width="5.23" height="4.46" fill="#33248e"/>
<rect x="240.93" y="137.00" width="5.23" height="4.46" fill="#33248e"/>
<rect x="204.70" y="141.42" width="5.23" height="4.46" fill="#c8001e"/>
<rect x="209.88" y="141.42" width="5.23" height="4.46" fill="#c8001e"/>
<rect x="215.05" y="141.42" width="5.23" height="4.46" fill="#f7c3cb"/>
<rect x="220.22" y="141.42" width="5.23" height="4.46" fill="#f7c3cb"/>
<rect x="225.40" y="141.42" width="5.23" height="4.46" fill="#33248e"/>
<rect x="230.57" y="141.42" width="5.23" height="4.46" fill="#33248e"/>
<rect x="235.75" y="141.42" width="5.23" height="4.46" fill="#ece9f5"/>
<rect x="240.93" y="141.42" width="5.23" height="4.46" fill="#ece9f5"/>
<rect x="204.70" y="145.83" width="5.23" height="4.46" fill="#e33a4e"/>
<rect x="209.88" y="145.83" width="5.23" height="4.46" fill="#c8001e"/>
<rect x="215.05" y="145.83" width="5.23" height="4.46" fill="#c8001e"/>
<rect x="220.22" y="145.83" width="5.23" height="4.46" fill="#e33a4e"/>
<rect x="225.40" y="145.83" width="5.23" height="4.46" fill="#33248e"/>
<rect x="230.57" y="145.83" width="5.23" height="4.46" fill="#33248e"/>
<rect x="235.75" y="145.83" width="5.23" height="4.46" fill="#f2808f"/>
<rect x="240.93" y="145.83" width="5.23" height="4.46" fill="#f2808f"/>
<rect x="204.70" y="150.25" width="5.23" height="4.46" fill="#e33a4e"/>
<rect x="209.88" y="150.25" width="5.23" height="4.46" fill="#c8001e"/>
<rect x="215.05" y="150.25" width="5.23" height="4.46" fill="#e33a4e"/>
<rect x="220.22" y="150.25" width="5.23" height="4.46" fill="#f7c3cb"/>
<rect x="225.40" y="150.25" width="5.23" height="4.46" fill="#f7c3cb"/>
<rect x="230.57" y="150.25" width="5.23" height="4.46" fill="#ece9f5"/>
<rect x="235.75" y="150.25" width="5.23" height="4.46" fill="#33248e"/>
<rect x="240.93" y="150.25" width="5.23" height="4.46" fill="#33248e"/>
<rect x="204.70" y="154.66" width="5.23" height="4.46" fill="#c8001e"/>
<rect x="209.88" y="154.66" width="5.23" height="4.46" fill="#c8001e"/>
<rect x="215.05" y="154.66" width="5.23" height="4.46" fill="#f2808f"/>
<rect x="220.22" y="154.66" width="5.23" height="4.46" fill="#f2808f"/>
<rect x="225.40" y="154.66" width="5.23" height="4.46" fill="#f7c3cb"/>
<rect x="230.57" y="154.66" width="5.23" height="4.46" fill="#ece9f5"/>
<rect x="235.75" y="154.66" width="5.23" height="4.46" fill="#33248e"/>
<rect x="240.93" y="154.66" width="5.23" height="4.46" fill="#33248e"/>
<rect x="204.70" y="159.08" width="5.23" height="4.46" fill="#f2808f"/>
<rect x="209.88" y="159.08" width="5.23" height="4.46" fill="#f2808f"/>
<rect x="215.05" y="159.08" width="5.23" height="4.46" fill="#c8001e"/>
<rect x="220.22" y="159.08" width="5.23" height="4.46" fill="#c8001e"/>
<rect x="225.40" y="159.08" width="5.23" height="4.46" fill="#f7c3cb"/>
<rect x="230.57" y="159.08" width="5.23" height="4.46" fill="#ece9f5"/>
<rect x="235.75" y="159.08" width="5.23" height="4.46" fill="#33248e"/>
<rect x="240.93" y="159.08" width="5.23" height="4.46" fill="#33248e"/>
<rect x="204.70" y="163.49" width="5.23" height="4.46" fill="#f7c3cb"/>
<rect x="209.88" y="163.49" width="5.23" height="4.46" fill="#f7c3cb"/>
<rect x="215.05" y="163.49" width="5.23" height="4.46" fill="#c8001e"/>
<rect x="220.22" y="163.49" width="5.23" height="4.46" fill="#c8001e"/>
<rect x="225.40" y="163.49" width="5.23" height="4.46" fill="#f7c3cb"/>
<rect x="230.57" y="163.49" width="5.23" height="4.46" fill="#ece9f5"/>
<rect x="235.75" y="163.49" width="5.23" height="4.46" fill="#33248e"/>
<rect x="240.93" y="163.49" width="5.23" height="4.46" fill="#33248e"/>
<rect x="204.70" y="167.91" width="5.23" height="4.46" fill="#c8001e"/>
<rect x="209.88" y="167.91" width="5.23" height="4.46" fill="#c8001e"/>
<rect x="215.05" y="167.91" width="5.23" height="4.46" fill="#f7c3cb"/>
<rect x="220.22" y="167.91" width="5.23" height="4.46" fill="#ece9f5"/>
<rect x="225.40" y="167.91" width="5.23" height="4.46" fill="#f7c3cb"/>
<rect x="230.57" y="167.91" width="5.23" height="4.46" fill="#f7c3cb"/>
<rect x="235.75" y="167.91" width="5.23" height="4.46" fill="#6a6cc2"/>
<rect x="240.93" y="167.91" width="5.23" height="4.46" fill="#33248e"/>
<rect x="204.70" y="172.32" width="5.23" height="4.46" fill="#c8001e"/>
<rect x="209.88" y="172.32" width="5.23" height="4.46" fill="#c8001e"/>
<rect x="215.05" y="172.32" width="5.23" height="4.46" fill="#33248e"/>
<rect x="220.22" y="172.32" width="5.23" height="4.46" fill="#6a6cc2"/>
<rect x="225.40" y="172.32" width="5.23" height="4.46" fill="#6a6cc2"/>
<rect x="230.57" y="172.32" width="5.23" height="4.46" fill="#a3a3dd"/>
<rect x="235.75" y="172.32" width="5.23" height="4.46" fill="#33248e"/>
<rect x="240.93" y="172.32" width="5.23" height="4.46" fill="#33248e"/>
<rect x="204.70" y="176.74" width="5.23" height="4.46" fill="#c8001e"/>
<rect x="209.88" y="176.74" width="5.23" height="4.46" fill="#c8001e"/>
<rect x="215.05" y="176.74" width="5.23" height="4.46" fill="#a3a3dd"/>
<rect x="220.22" y="176.74" width="5.23" height="4.46" fill="#a3a3dd"/>
<rect x="225.40" y="176.74" width="5.23" height="4.46" fill="#f7c3cb"/>
<rect x="230.57" y="176.74" width="5.23" height="4.46" fill="#f7c3cb"/>
<rect x="235.75" y="176.74" width="5.23" height="4.46" fill="#33248e"/>
<rect x="240.93" y="176.74" width="5.23" height="4.46" fill="#33248e"/>
<rect x="204.70" y="181.15" width="5.23" height="4.46" fill="#c8001e"/>
<rect x="209.88" y="181.15" width="5.23" height="4.46" fill="#c8001e"/>
<rect x="215.05" y="181.15" width="5.23" height="4.46" fill="#a3a3dd"/>
<rect x="220.22" y="181.15" width="5.23" height="4.46" fill="#a3a3dd"/>
<rect x="225.40" y="181.15" width="5.23" height="4.46" fill="#ece9f5"/>
<rect x="230.57" y="181.15" width="5.23" height="4.46" fill="#ece9f5"/>
<rect x="235.75" y="181.15" width="5.23" height="4.46" fill="#33248e"/>
<rect x="240.93" y="181.15" width="5.23" height="4.46" fill="#33248e"/>
<rect x="204.70" y="185.56" width="5.23" height="4.46" fill="#c8001e"/>
<rect x="209.88" y="185.56" width="5.23" height="4.46" fill="#c8001e"/>
<rect x="215.05" y="185.56" width="5.23" height="4.46" fill="#6a6cc2"/>
<rect x="220.22" y="185.56" width="5.23" height="4.46" fill="#a3a3dd"/>
<rect x="225.40" y="185.56" width="5.23" height="4.46" fill="#f7c3cb"/>
<rect x="230.57" y="185.56" width="5.23" height="4.46" fill="#f7c3cb"/>
<rect x="235.75" y="185.56" width="5.23" height="4.46" fill="#33248e"/>
<rect x="240.93" y="185.56" width="5.23" height="4.46" fill="#33248e"/>
<rect x="204.70" y="189.98" width="5.23" height="4.46" fill="#33248e"/>
<rect x="209.88" y="189.98" width="5.23" height="4.46" fill="#33248e"/>
<rect x="215.05" y="189.98" width="5.23" height="4.46" fill="#c8001e"/>
<rect x="220.22" y="189.98" width="5.23" height="4.46" fill="#c8001e"/>
<rect x="225.40" y="189.98" width="5.23" height="4.46" fill="#33248e"/>
<rect x="230.57" y="189.98" width="5.23" height="4.46" fill="#33248e"/>
<rect x="235.75" y="189.98" width="5.23" height="4.46" fill="#ece9f5"/>
<rect x="240.93" y="189.98" width="5.23" height="4.46" fill="#ece9f5"/>
<rect x="204.70" y="194.39" width="5.23" height="4.46" fill="#c8001e"/>
<rect x="209.88" y="194.39" width="5.23" height="4.46" fill="#c8001e"/>
<rect x="215.05" y="194.39" width="5.23" height="4.46" fill="#33248e"/>
<rect x="220.22" y="194.39" width="5.23" height="4.46" fill="#33248e"/>
<rect x="225.40" y="194.39" width="5.23" height="4.46" fill="#ece9f5"/>
<rect x="230.57" y="194.39" width="5.23" height="4.46" fill="#ece9f5"/>
<rect x="235.75" y="194.39" width="5.23" height="4.46" fill="#a3a3dd"/>
<rect x="240.93" y="194.39" width="5.23" height="4.46" fill="#33248e"/>
<rect x="204.70" y="198.81" width="5.23" height="4.46" fill="#33248e"/>
<rect x="209.88" y="198.81" width="5.23" height="4.46" fill="#33248e"/>
<rect x="215.05" y="198.81" width="5.23" height="4.46" fill="#c8001e"/>
<rect x="220.22" y="198.81" width="5.23" height="4.46" fill="#c8001e"/>
<rect x="225.40" y="198.81" width="5.23" height="4.46" fill="#f7c3cb"/>
<rect x="230.57" y="198.81" width="5.23" height="4.46" fill="#f7c3cb"/>
<rect x="235.75" y="198.81" width="5.23" height="4.46" fill="#33248e"/>
<rect x="240.93" y="198.81" width="5.23" height="4.46" fill="#33248e"/>
<rect x="204.70" y="203.22" width="5.23" height="4.46" fill="#c8001e"/>
<rect x="209.88" y="203.22" width="5.23" height="4.46" fill="#c8001e"/>
<rect x="215.05" y="203.22" width="5.23" height="4.46" fill="#6a6cc2"/>
<rect x="220.22" y="203.22" width="5.23" height="4.46" fill="#6a6cc2"/>
<rect x="225.40" y="203.22" width="5.23" height="4.46" fill="#f2808f"/>
<rect x="230.57" y="203.22" width="5.23" height="4.46" fill="#f2808f"/>
<rect x="235.75" y="203.22" width="5.23" height="4.46" fill="#33248e"/>
<rect x="240.93" y="203.22" width="5.23" height="4.46" fill="#33248e"/>
<rect x="204.70" y="207.64" width="5.23" height="4.46" fill="#ece9f5"/>
<rect x="209.88" y="207.64" width="5.23" height="4.46" fill="#f7c3cb"/>
<rect x="215.05" y="207.64" width="5.23" height="4.46" fill="#c8001e"/>
<rect x="220.22" y="207.64" width="5.23" height="4.46" fill="#c8001e"/>
<rect x="225.40" y="207.64" width="5.23" height="4.46" fill="#c8001e"/>
<rect x="230.57" y="207.64" width="5.23" height="4.46" fill="#c8001e"/>
<rect x="235.75" y="207.64" width="5.23" height="4.46" fill="#33248e"/>
<rect x="240.93" y="207.64" width="5.23" height="4.46" fill="#33248e"/>
<rect x="204.70" y="212.05" width="5.23" height="4.46" fill="#33248e"/>
<rect x="209.88" y="212.05" width="5.23" height="4.46" fill="#33248e"/>
<rect x="215.05" y="212.05" width="5.23" height="4.46" fill="#c8001e"/>
<rect x="220.22" y="212.05" width="5.23" height="4.46" fill="#c8001e"/>
<rect x="225.40" y="212.05" width="5.23" height="4.46" fill="#6a6cc2"/>
<rect x="230.57" y="212.05" width="5.23" height="4.46" fill="#ece9f5"/>
<rect x="235.75" y="212.05" width="5.23" height="4.46" fill="#f2808f"/>
<rect x="240.93" y="212.05" width="5.23" height="4.46" fill="#ece9f5"/>
<rect x="204.70" y="216.47" width="5.23" height="4.46" fill="#a3a3dd"/>
<rect x="209.88" y="216.47" width="5.23" height="4.46" fill="#a3a3dd"/>
<rect x="215.05" y="216.47" width="5.23" height="4.46" fill="#c8001e"/>
<rect x="220.22" y="216.47" width="5.23" height="4.46" fill="#e33a4e"/>
<rect x="225.40" y="216.47" width="5.23" height="4.46" fill="#e33a4e"/>
<rect x="230.57" y="216.47" width="5.23" height="4.46" fill="#e33a4e"/>
<rect x="235.75" y="216.47" width="5.23" height="4.46" fill="#6a6cc2"/>
<rect x="240.93" y="216.47" width="5.23" height="4.46" fill="#33248e"/>
<rect x="204.70" y="220.88" width="5.23" height="4.46" fill="#f7c3cb"/>
<rect x="209.88" y="220.88" width="5.23" height="4.46" fill="#e33a4e"/>
<rect x="215.05" y="220.88" width="5.23" height="4.46" fill="#ece9f5"/>
<rect x="220.22" y="220.88" width="5.23" height="4.46" fill="#ece9f5"/>
<rect x="225.40" y="220.88" width="5.23" height="4.46" fill="#e33a4e"/>
<rect x="230.57" y="220.88" width="5.23" height="4.46" fill="#c8001e"/>
<rect x="235.75" y="220.88" width="5.23" height="4.46" fill="#33248e"/>
<rect x="240.93" y="220.88" width="5.23" height="4.46" fill="#33248e"/>
<rect x="204.70" y="225.30" width="5.23" height="4.46" fill="#ece9f5"/>
<rect x="209.88" y="225.30" width="5.23" height="4.46" fill="#ece9f5"/>
<rect x="215.05" y="225.30" width="5.23" height="4.46" fill="#f2808f"/>
<rect x="220.22" y="225.30" width="5.23" height="4.46" fill="#f2808f"/>
<rect x="225.40" y="225.30" width="5.23" height="4.46" fill="#33248e"/>
<rect x="230.57" y="225.30" width="5.23" height="4.46" fill="#33248e"/>
<rect x="235.75" y="225.30" width="5.23" height="4.46" fill="#c8001e"/>
<rect x="240.93" y="225.30" width="5.23" height="4.46" fill="#f2808f"/>
<rect x="204.70" y="229.71" width="5.23" height="4.46" fill="#c8001e"/>
<rect x="209.88" y="229.71" width="5.23" height="4.46" fill="#c8001e"/>
<rect x="215.05" y="229.71" width="5.23" height="4.46" fill="#6a6cc2"/>
<rect x="220.22" y="229.71" width="5.23" height="4.46" fill="#6a6cc2"/>
<rect x="225.40" y="229.71" width="5.23" height="4.46" fill="#c8001e"/>
<rect x="230.57" y="229.71" width="5.23" height="4.46" fill="#c8001e"/>
<rect x="235.75" y="229.71" width="5.23" height="4.46" fill="#33248e"/>
<rect x="240.93" y="229.71" width="5.23" height="4.46" fill="#33248e"/>
<rect x="204.70" y="234.13" width="5.23" height="4.46" fill="#e33a4e"/>
<rect x="209.88" y="234.13" width="5.23" height="4.46" fill="#c8001e"/>
<rect x="215.05" y="234.13" width="5.23" height="4.46" fill="#33248e"/>
<rect x="220.22" y="234.13" width="5.23" height="4.46" fill="#33248e"/>
<rect x="225.40" y="234.13" width="5.23" height="4.46" fill="#f2808f"/>
<rect x="230.57" y="234.13" width="5.23" height="4.46" fill="#f2808f"/>
<rect x="235.75" y="234.13" width="5.23" height="4.46" fill="#a3a3dd"/>
<rect x="240.93" y="234.13" width="5.23" height="4.46" fill="#6a6cc2"/>
<rect x="204.70" y="238.54" width="5.23" height="4.46" fill="#33248e"/>
<rect x="209.88" y="238.54" width="5.23" height="4.46" fill="#33248e"/>
<rect x="215.05" y="238.54" width="5.23" height="4.46" fill="#f2808f"/>
<rect x="220.22" y="238.54" width="5.23" height="4.46" fill="#f2808f"/>
<rect x="225.40" y="238.54" width="5.23" height="4.46" fill="#e33a4e"/>
<rect x="230.57" y="238.54" width="5.23" height="4.46" fill="#c8001e"/>
<rect x="235.75" y="238.54" width="5.23" height="4.46" fill="#33248e"/>
<rect x="240.93" y="238.54" width="5.23" height="4.46" fill="#33248e"/>
<rect x="204.70" y="242.96" width="5.23" height="4.46" fill="#f7c3cb"/>
<rect x="209.88" y="242.96" width="5.23" height="4.46" fill="#f7c3cb"/>
<rect x="215.05" y="242.96" width="5.23" height="4.46" fill="#33248e"/>
<rect x="220.22" y="242.96" width="5.23" height="4.46" fill="#33248e"/>
<rect x="225.40" y="242.96" width="5.23" height="4.46" fill="#33248e"/>
<rect x="230.57" y="242.96" width="5.23" height="4.46" fill="#6a6cc2"/>
<rect x="235.75" y="242.96" width="5.23" height="4.46" fill="#c8001e"/>
<rect x="240.93" y="242.96" width="5.23" height="4.46" fill="#e33a4e"/>
<rect x="204.70" y="247.37" width="5.23" height="4.46" fill="#f7c3cb"/>
<rect x="209.88" y="247.37" width="5.23" height="4.46" fill="#f7c3cb"/>
<rect x="215.05" y="247.37" width="5.23" height="4.46" fill="#ece9f5"/>
<rect x="220.22" y="247.37" width="5.23" height="4.46" fill="#33248e"/>
<rect x="225.40" y="247.37" width="5.23" height="4.46" fill="#c8001e"/>
<rect x="230.57" y="247.37" width="5.23" height="4.46" fill="#c8001e"/>
<rect x="235.75" y="247.37" width="5.23" height="4.46" fill="#a3a3dd"/>
<rect x="240.93" y="247.37" width="5.23" height="4.46" fill="#33248e"/>
<rect x="204.70" y="251.79" width="5.23" height="4.46" fill="#f2808f"/>
<rect x="209.88" y="251.79" width="5.23" height="4.46" fill="#f2808f"/>
<rect x="215.05" y="251.79" width="5.23" height="4.46" fill="#33248e"/>
<rect x="220.22" y="251.79" width="5.23" height="4.46" fill="#33248e"/>
<rect x="225.40" y="251.79" width="5.23" height="4.46" fill="#c8001e"/>
<rect x="230.57" y="251.79" width="5.23" height="4.46" fill="#c8001e"/>
<rect x="235.75" y="251.79" width="5.23" height="4.46" fill="#f7c3cb"/>
<rect x="240.93" y="251.79" width="5.23" height="4.46" fill="#f7c3cb"/>
<path d="M204.70 106.10V256.20 M209.88 106.10V256.20 M215.05 106.10V256.20 M220.22 106.10V256.20 M225.40 106.10V256.20 M230.57 106.10V256.20 M235.75 106.10V256.20 M240.93 106.10V256.20 M246.10 106.10V256.20 M204.70 106.10H246.10 M204.70 110.51H246.10 M204.70 114.93H246.10 M204.70 119.34H246.10 M204.70 123.76H246.10 M204.70 128.17H246.10 M204.70 132.59H246.10 M204.70 137.00H246.10 M204.70 141.42H246.10 M204.70 145.83H246.10 M204.70 150.25H246.10 M204.70 154.66H246.10 M204.70 159.08H246.10 M204.70 163.49H246.10 M204.70 167.91H246.10 M204.70 172.32H246.10 M204.70 176.74H246.10 M204.70 181.15H246.10 M204.70 185.56H246.10 M204.70 189.98H246.10 M204.70 194.39H246.10 M204.70 198.81H246.10 M204.70 203.22H246.10 M204.70 207.64H246.10 M204.70 212.05H246.10 M204.70 216.47H246.10 M204.70 220.88H246.10 M204.70 225.30H246.10 M204.70 229.71H246.10 M204.70 234.13H246.10 M204.70 238.54H246.10 M204.70 242.96H246.10 M204.70 247.37H246.10 M204.70 251.79H246.10 M204.70 256.20H246.10" stroke="#1e0a2a" stroke-opacity="0.4" stroke-width="0.5" fill="none"/>
<path d="M246.70 106.10H270.00 M246.70 110.51H270.00 M246.70 114.93H270.00 M246.70 119.34H270.00 M246.70 123.76H270.00 M246.70 128.17H270.00 M246.70 132.59H270.00 M246.70 137.00H270.00 M246.70 141.42H270.00 M246.70 145.83H270.00 M246.70 150.25H270.00 M246.70 154.66H270.00 M246.70 159.08H270.00 M246.70 163.49H270.00 M246.70 167.91H270.00 M246.70 172.32H270.00 M246.70 176.74H270.00 M246.70 181.15H270.00 M246.70 185.56H270.00 M246.70 189.98H270.00 M246.70 194.39H270.00 M246.70 198.81H270.00 M246.70 203.22H270.00 M246.70 207.64H270.00 M246.70 212.05H270.00 M246.70 216.47H270.00 M246.70 220.88H270.00 M246.70 225.30H270.00 M246.70 229.71H270.00 M246.70 234.13H270.00 M246.70 238.54H270.00 M246.70 242.96H270.00 M246.70 247.37H270.00 M246.70 251.79H270.00 M246.70 256.20H270.00" stroke="#b4b4b4" stroke-width="0.45" fill="none"/>
<text x="249.80" y="109.66" font-size="4.3" fill="#3c3c3c" letter-spacing="0.05">MCM3</text>
<text x="249.80" y="114.08" font-size="4.3" fill="#3c3c3c" letter-spacing="0.05">AURKB</text>
<text x="249.80" y="118.49" font-size="4.3" fill="#3c3c3c" letter-spacing="0.05">POLE2</text>
<text x="249.80" y="122.91" font-size="4.3" fill="#3c3c3c" letter-spacing="0.05">HAT1</text>
<text x="249.80" y="127.32" font-size="4.3" fill="#3c3c3c" letter-spacing="0.05">EED</text>
<text x="249.80" y="131.74" font-size="4.3" fill="#3c3c3c" letter-spacing="0.05">EZH2</text>
<text x="249.80" y="136.15" font-size="4.3" fill="#3c3c3c" letter-spacing="0.05">RRM1</text>
<text x="249.80" y="140.57" font-size="4.3" fill="#3c3c3c" letter-spacing="0.05">KNL1</text>
<text x="249.80" y="144.98" font-size="4.3" fill="#3c3c3c" letter-spacing="0.05">MCM4</text>
<text x="249.80" y="149.40" font-size="4.3" fill="#3c3c3c" letter-spacing="0.05">CDCA7</text>
<text x="249.80" y="153.81" font-size="4.3" fill="#3c3c3c" letter-spacing="0.05">PBK</text>
<text x="249.80" y="158.23" font-size="4.3" fill="#3c3c3c" letter-spacing="0.05">ECT2</text>
<text x="249.80" y="162.64" font-size="4.3" fill="#3c3c3c" letter-spacing="0.05">NEK2</text>
<text x="249.80" y="167.06" font-size="4.3" fill="#3c3c3c" letter-spacing="0.05">TOPBP1</text>
<text x="249.80" y="171.47" font-size="4.3" fill="#3c3c3c" letter-spacing="0.05">MCM2</text>
<text x="249.80" y="175.89" font-size="4.3" fill="#3c3c3c" letter-spacing="0.05">PPP1CC</text>
<text x="249.80" y="180.30" font-size="4.3" fill="#3c3c3c" letter-spacing="0.05">PCNA</text>
<text x="249.80" y="184.71" font-size="4.3" fill="#3c3c3c" letter-spacing="0.05">KPNA2</text>
<text x="249.80" y="189.13" font-size="4.3" fill="#3c3c3c" letter-spacing="0.05">MKI67</text>
<text x="249.80" y="193.54" font-size="4.3" fill="#3c3c3c" letter-spacing="0.05">TOP2A</text>
<text x="249.80" y="197.96" font-size="4.3" fill="#3c3c3c" letter-spacing="0.05">CCNB2</text>
<text x="249.80" y="202.37" font-size="4.3" fill="#3c3c3c" letter-spacing="0.05">MAD2L1</text>
<text x="249.80" y="206.79" font-size="4.3" fill="#3c3c3c" letter-spacing="0.05">PRIM1</text>
<text x="249.80" y="211.20" font-size="4.3" fill="#3c3c3c" letter-spacing="0.05">RRM2</text>
<text x="249.80" y="215.62" font-size="4.3" fill="#3c3c3c" letter-spacing="0.05">DUT</text>
<text x="249.80" y="220.03" font-size="4.3" fill="#3c3c3c" letter-spacing="0.05">XPO1</text>
<text x="249.80" y="224.45" font-size="4.3" fill="#3c3c3c" letter-spacing="0.05">CUL2</text>
<text x="249.80" y="228.86" font-size="4.3" fill="#3c3c3c" letter-spacing="0.05">SETDB1</text>
<text x="249.80" y="233.28" font-size="4.3" fill="#3c3c3c" letter-spacing="0.05">GMNN</text>
<text x="249.80" y="237.69" font-size="4.3" fill="#3c3c3c" letter-spacing="0.05">TYMS</text>
<text x="249.80" y="242.11" font-size="4.3" fill="#3c3c3c" letter-spacing="0.05">TACC3</text>
<text x="249.80" y="246.52" font-size="4.3" fill="#3c3c3c" letter-spacing="0.05">RFC4</text>
<text x="249.80" y="250.94" font-size="4.3" fill="#3c3c3c" letter-spacing="0.05">CDCA8</text>
<text x="249.80" y="255.35" font-size="4.3" fill="#3c3c3c" letter-spacing="0.05">AHCY</text>
<line x1="246.90" y1="128.17" x2="267.00" y2="128.17" stroke="#e0102a" stroke-width="0.8"/>
<text x="25.80" y="102.20" font-size="6.6" textLength="20.40" lengthAdjust="spacingAndGlyphs">Control</text>
<text x="48.90" y="102.20" font-size="6.6" textLength="30.20" lengthAdjust="spacingAndGlyphs">BCAA-free</text>
<text x="114.40" y="102.20" font-size="6.6" textLength="20.40" lengthAdjust="spacingAndGlyphs">Control</text>
<text x="138.30" y="102.20" font-size="6.6" textLength="30.20" lengthAdjust="spacingAndGlyphs">BCAA-free</text>
<text x="203.50" y="102.20" font-size="6.6" textLength="20.40" lengthAdjust="spacingAndGlyphs">Control</text>
<text x="227.00" y="102.20" font-size="6.6" textLength="30.20" lengthAdjust="spacingAndGlyphs">BCAA-free</text>
<text x="22.50" y="291.00" font-size="6.3" textLength="56.10" lengthAdjust="spacingAndGlyphs">Primary AML (<tspan font-style="italic">n</tspan> = 7)</text>
<rect x="32.90" y="320.40" width="6.00" height="43.80" fill="#145096"/>
<rect x="42.00" y="337.92" width="6.00" height="26.28" fill="#d0002a"/>
<rect x="51.40" y="320.40" width="6.00" height="43.80" fill="#145096"/>
<rect x="61.10" y="335.29" width="6.00" height="28.91" fill="#d0002a"/>
<line x1="45.00" y1="337.92" x2="45.00" y2="335.29" stroke="#111" stroke-width="0.6"/>
<line x1="43.70" y1="335.29" x2="46.30" y2="335.29" stroke="#111" stroke-width="0.6"/>
<circle cx="45.00" cy="329.16" r="1.0" fill="#111"/>
<circle cx="46.50" cy="327.85" r="1.0" fill="#111"/>
<circle cx="43.50" cy="332.66" r="1.0" fill="#111"/>
<circle cx="46.00" cy="335.73" r="1.0" fill="#111"/>
<circle cx="44.00" cy="340.11" r="1.0" fill="#111"/>
<circle cx="45.50" cy="348.87" r="1.0" fill="#111"/>
<circle cx="44.50" cy="354.13" r="1.0" fill="#111"/>
<line x1="64.10" y1="335.29" x2="64.10" y2="333.10" stroke="#111" stroke-width="0.6"/>
<line x1="62.80" y1="333.10" x2="65.40" y2="333.10" stroke="#111" stroke-width="0.6"/>
<circle cx="65.30" cy="328.28" r="1.0" fill="#111"/>
<circle cx="62.90" cy="330.04" r="1.0" fill="#111"/>
<circle cx="64.10" cy="333.54" r="1.0" fill="#111"/>
<circle cx="63.10" cy="337.04" r="1.0" fill="#111"/>
<circle cx="65.10" cy="338.80" r="1.0" fill="#111"/>
<line x1="29.30" y1="295.80" x2="29.30" y2="364.60" stroke="#231f20" stroke-width="0.9"/>
<line x1="28.85" y1="364.20" x2="70.50" y2="364.20" stroke="#231f20" stroke-width="0.9"/>
<line x1="27.30" y1="364.20" x2="29.30" y2="364.20" stroke="#231f20" stroke-width="0.8"/>
<text x="23.20" y="366.40" font-size="6.2" text-anchor="end">0</text>
<line x1="27.30" y1="342.30" x2="29.30" y2="342.30" stroke="#231f20" stroke-width="0.8"/>
<text x="23.20" y="344.50" font-size="6.2" text-anchor="end">0.5</text>
<line x1="27.30" y1="320.40" x2="29.30" y2="320.40" stroke="#231f20" stroke-width="0.8"/>
<text x="23.20" y="322.60" font-size="6.2" text-anchor="end">1.0</text>
<line x1="27.30" y1="298.50" x2="29.30" y2="298.50" stroke="#231f20" stroke-width="0.8"/>
<text x="23.20" y="300.70" font-size="6.2" text-anchor="end">1.5</text>
<line x1="35.90" y1="364.20" x2="35.90" y2="366.00" stroke="#231f20" stroke-width="0.7"/>
<line x1="45.00" y1="364.20" x2="45.00" y2="366.00" stroke="#231f20" stroke-width="0.7"/>
<line x1="54.40" y1="364.20" x2="54.40" y2="366.00" stroke="#231f20" stroke-width="0.7"/>
<line x1="64.10" y1="364.20" x2="64.10" y2="366.00" stroke="#231f20" stroke-width="0.7"/>
<path d="M35.80 310.40V309.00H45.10V310.40" stroke="#231f20" stroke-width="0.85" fill="none"/>
<text x="40.45" y="308.10" font-size="7.2" text-anchor="middle" letter-spacing="-0.3">**</text>
<path d="M54.60 310.40V309.00H64.00V310.40" stroke="#231f20" stroke-width="0.85" fill="none"/>
<text x="59.30" y="308.10" font-size="7.2" text-anchor="middle" letter-spacing="-0.3">***</text>
<text x="34.30" y="373.60" font-size="6.3" text-anchor="middle" font-style="italic">EZH2</text>
<text x="55.30" y="373.60" font-size="6.3" text-anchor="middle" font-style="italic">EED</text>
<text x="88.70" y="291.00" font-size="6.3" textLength="54.20" lengthAdjust="spacingAndGlyphs">Primary ALL (<tspan font-style="italic">n</tspan> = 6)</text>
<rect x="92.30" y="320.40" width="6.20" height="43.80" fill="#145096"/>
<rect x="101.50" y="342.74" width="6.20" height="21.46" fill="#d0002a"/>
<rect x="111.00" y="320.40" width="6.20" height="43.80" fill="#145096"/>
<rect x="120.30" y="338.80" width="6.20" height="25.40" fill="#d0002a"/>
<line x1="104.60" y1="342.74" x2="104.60" y2="338.36" stroke="#111" stroke-width="0.6"/>
<line x1="103.30" y1="338.36" x2="105.90" y2="338.36" stroke="#111" stroke-width="0.6"/>
<circle cx="104.60" cy="329.16" r="1.0" fill="#111"/>
<circle cx="104.60" cy="333.54" r="1.0" fill="#111"/>
<circle cx="104.10" cy="337.92" r="1.0" fill="#111"/>
<circle cx="105.10" cy="345.80" r="1.0" fill="#111"/>
<circle cx="104.60" cy="353.25" r="1.0" fill="#111"/>
<circle cx="104.60" cy="362.01" r="1.0" fill="#111"/>
<line x1="123.40" y1="338.80" x2="123.40" y2="336.17" stroke="#111" stroke-width="0.6"/>
<line x1="122.10" y1="336.17" x2="124.70" y2="336.17" stroke="#111" stroke-width="0.6"/>
<circle cx="123.40" cy="328.28" r="1.0" fill="#111"/>
<circle cx="121.90" cy="335.29" r="1.0" fill="#111"/>
<circle cx="124.90" cy="337.04" r="1.0" fill="#111"/>
<circle cx="122.40" cy="342.30" r="1.0" fill="#111"/>
<circle cx="124.40" cy="344.49" r="1.0" fill="#111"/>
<circle cx="123.40" cy="347.56" r="1.0" fill="#111"/>
<line x1="88.60" y1="295.80" x2="88.60" y2="364.60" stroke="#231f20" stroke-width="0.9"/>
<line x1="88.15" y1="364.20" x2="130.00" y2="364.20" stroke="#231f20" stroke-width="0.9"/>
<line x1="86.60" y1="364.20" x2="88.60" y2="364.20" stroke="#231f20" stroke-width="0.8"/>
<text x="82.50" y="366.40" font-size="6.2" text-anchor="end">0</text>
<line x1="86.60" y1="342.30" x2="88.60" y2="342.30" stroke="#231f20" stroke-width="0.8"/>
<text x="82.50" y="344.50" font-size="6.2" text-anchor="end">0.5</text>
<line x1="86.60" y1="320.40" x2="88.60" y2="320.40" stroke="#231f20" stroke-width="0.8"/>
<text x="82.50" y="322.60" font-size="6.2" text-anchor="end">1.0</text>
<line x1="86.60" y1="298.50" x2="88.60" y2="298.50" stroke="#231f20" stroke-width="0.8"/>
<text x="82.50" y="300.70" font-size="6.2" text-anchor="end">1.5</text>
<line x1="95.40" y1="364.20" x2="95.40" y2="366.00" stroke="#231f20" stroke-width="0.7"/>
<line x1="104.60" y1="364.20" x2="104.60" y2="366.00" stroke="#231f20" stroke-width="0.7"/>
<line x1="114.10" y1="364.20" x2="114.10" y2="366.00" stroke="#231f20" stroke-width="0.7"/>
<line x1="123.40" y1="364.20" x2="123.40" y2="366.00" stroke="#231f20" stroke-width="0.7"/>
<path d="M95.40 310.70V309.30H104.60V310.70" stroke="#231f20" stroke-width="0.85" fill="none"/>
<text x="100.00" y="308.40" font-size="7.2" text-anchor="middle" letter-spacing="-0.3">**</text>
<path d="M114.10 310.70V309.30H123.40V310.70" stroke="#231f20" stroke-width="0.85" fill="none"/>
<text x="118.75" y="308.40" font-size="7.2" text-anchor="middle" letter-spacing="-0.3">**</text>
<text x="95.00" y="373.60" font-size="6.3" text-anchor="middle" font-style="italic">EZH2</text>
<text x="115.20" y="373.60" font-size="6.3" text-anchor="middle" font-style="italic">EED</text>
<text x="174.70" y="291.00" font-size="6.3" textLength="55.90" lengthAdjust="spacingAndGlyphs">Primary AML (<tspan font-style="italic">n</tspan> = 7)</text>
<rect x="179.20" y="320.40" width="6.30" height="43.80" fill="#145096"/>
<rect x="189.10" y="336.61" width="6.50" height="27.59" fill="#d0002a"/>
<rect x="199.40" y="320.40" width="6.30" height="43.80" fill="#145096"/>
<rect x="209.10" y="340.11" width="6.30" height="24.09" fill="#d0002a"/>
<line x1="192.35" y1="336.61" x2="192.35" y2="333.10" stroke="#111" stroke-width="0.6"/>
<line x1="191.05" y1="333.10" x2="193.65" y2="333.10" stroke="#111" stroke-width="0.6"/>
<circle cx="192.35" cy="321.71" r="1.0" fill="#111"/>
<circle cx="192.35" cy="324.78" r="1.0" fill="#111"/>
<circle cx="190.85" cy="332.66" r="1.0" fill="#111"/>
<circle cx="193.85" cy="331.79" r="1.0" fill="#111"/>
<circle cx="192.35" cy="337.92" r="1.0" fill="#111"/>
<circle cx="192.85" cy="344.49" r="1.0" fill="#111"/>
<circle cx="191.85" cy="351.06" r="1.0" fill="#111"/>
<line x1="212.25" y1="340.11" x2="212.25" y2="334.85" stroke="#111" stroke-width="0.6"/>
<line x1="210.95" y1="334.85" x2="213.55" y2="334.85" stroke="#111" stroke-width="0.6"/>
<circle cx="213.75" cy="313.39" r="1.0" fill="#111"/>
<circle cx="212.25" cy="340.11" r="1.0" fill="#111"/>
<circle cx="212.25" cy="346.68" r="1.0" fill="#111"/>
<circle cx="212.25" cy="353.25" r="1.0" fill="#111"/>
<line x1="175.50" y1="295.80" x2="175.50" y2="364.60" stroke="#231f20" stroke-width="0.9"/>
<line x1="175.05" y1="364.20" x2="218.20" y2="364.20" stroke="#231f20" stroke-width="0.9"/>
<line x1="173.50" y1="364.20" x2="175.50" y2="364.20" stroke="#231f20" stroke-width="0.8"/>
<text x="169.60" y="366.40" font-size="6.2" text-anchor="end">0</text>
<line x1="173.50" y1="342.30" x2="175.50" y2="342.30" stroke="#231f20" stroke-width="0.8"/>
<text x="169.60" y="344.50" font-size="6.2" text-anchor="end">0.5</text>
<line x1="173.50" y1="320.40" x2="175.50" y2="320.40" stroke="#231f20" stroke-width="0.8"/>
<text x="169.60" y="322.60" font-size="6.2" text-anchor="end">1.0</text>
<line x1="173.50" y1="298.50" x2="175.50" y2="298.50" stroke="#231f20" stroke-width="0.8"/>
<text x="169.60" y="300.70" font-size="6.2" text-anchor="end">1.5</text>
<line x1="182.35" y1="364.20" x2="182.35" y2="366.00" stroke="#231f20" stroke-width="0.7"/>
<line x1="192.35" y1="364.20" x2="192.35" y2="366.00" stroke="#231f20" stroke-width="0.7"/>
<line x1="202.55" y1="364.20" x2="202.55" y2="366.00" stroke="#231f20" stroke-width="0.7"/>
<line x1="212.25" y1="364.20" x2="212.25" y2="366.00" stroke="#231f20" stroke-width="0.7"/>
<path d="M182.30 310.70V309.30H192.40V310.70" stroke="#231f20" stroke-width="0.85" fill="none"/>
<text x="187.35" y="308.40" font-size="7.2" text-anchor="middle" letter-spacing="-0.3">**</text>
<path d="M202.50 310.70V309.30H212.30V310.70" stroke="#231f20" stroke-width="0.85" fill="none"/>
<text x="207.40" y="308.40" font-size="7.2" text-anchor="middle" letter-spacing="-0.3">**</text>
<text x="183.50" y="373.60" font-size="6.3" text-anchor="middle" font-style="italic">EZH2</text>
<text x="206.00" y="373.60" font-size="6.3" text-anchor="middle" font-style="italic">EED</text>
<text x="236.00" y="291.00" font-size="6.3" textLength="54.20" lengthAdjust="spacingAndGlyphs">Primary ALL (<tspan font-style="italic">n</tspan> = 6)</text>
<rect x="243.00" y="320.40" width="6.30" height="43.80" fill="#145096"/>
<rect x="253.60" y="342.74" width="6.50" height="21.46" fill="#d0002a"/>
<rect x="264.70" y="320.40" width="6.30" height="43.80" fill="#145096"/>
<rect x="275.50" y="343.61" width="6.30" height="20.59" fill="#d0002a"/>
<line x1="256.85" y1="342.74" x2="256.85" y2="336.61" stroke="#111" stroke-width="0.6"/>
<line x1="255.55" y1="336.61" x2="258.15" y2="336.61" stroke="#111" stroke-width="0.6"/>
<circle cx="256.85" cy="329.16" r="1.0" fill="#111"/>
<circle cx="256.85" cy="332.66" r="1.0" fill="#111"/>
<circle cx="255.05" cy="337.04" r="1.0" fill="#111"/>
<circle cx="258.65" cy="336.17" r="1.0" fill="#111"/>
<circle cx="256.85" cy="344.49" r="1.0" fill="#111"/>
<circle cx="256.85" cy="355.44" r="1.0" fill="#111"/>
<line x1="278.65" y1="343.61" x2="278.65" y2="337.92" stroke="#111" stroke-width="0.6"/>
<line x1="277.35" y1="337.92" x2="279.95" y2="337.92" stroke="#111" stroke-width="0.6"/>
<circle cx="278.65" cy="327.41" r="1.0" fill="#111"/>
<circle cx="278.65" cy="330.91" r="1.0" fill="#111"/>
<circle cx="278.65" cy="337.04" r="1.0" fill="#111"/>
<circle cx="278.65" cy="346.68" r="1.0" fill="#111"/>
<circle cx="278.65" cy="355.44" r="1.0" fill="#111"/>
<line x1="238.00" y1="295.80" x2="238.00" y2="364.60" stroke="#231f20" stroke-width="0.9"/>
<line x1="237.55" y1="364.20" x2="285.20" y2="364.20" stroke="#231f20" stroke-width="0.9"/>
<line x1="236.00" y1="364.20" x2="238.00" y2="364.20" stroke="#231f20" stroke-width="0.8"/>
<text x="233.00" y="366.40" font-size="6.2" text-anchor="end">0</text>
<line x1="236.00" y1="342.30" x2="238.00" y2="342.30" stroke="#231f20" stroke-width="0.8"/>
<text x="233.00" y="344.50" font-size="6.2" text-anchor="end">0.5</text>
<line x1="236.00" y1="320.40" x2="238.00" y2="320.40" stroke="#231f20" stroke-width="0.8"/>
<text x="233.00" y="322.60" font-size="6.2" text-anchor="end">1.0</text>
<line x1="236.00" y1="298.50" x2="238.00" y2="298.50" stroke="#231f20" stroke-width="0.8"/>
<text x="233.00" y="300.70" font-size="6.2" text-anchor="end">1.5</text>
<line x1="246.15" y1="364.20" x2="246.15" y2="366.00" stroke="#231f20" stroke-width="0.7"/>
<line x1="256.85" y1="364.20" x2="256.85" y2="366.00" stroke="#231f20" stroke-width="0.7"/>
<line x1="267.85" y1="364.20" x2="267.85" y2="366.00" stroke="#231f20" stroke-width="0.7"/>
<line x1="278.65" y1="364.20" x2="278.65" y2="366.00" stroke="#231f20" stroke-width="0.7"/>
<path d="M246.10 310.70V309.30H256.20V310.70" stroke="#231f20" stroke-width="0.85" fill="none"/>
<text x="251.15" y="308.40" font-size="7.2" text-anchor="middle" letter-spacing="-0.3">*</text>
<path d="M266.00 310.70V309.30H276.70V310.70" stroke="#231f20" stroke-width="0.85" fill="none"/>
<text x="271.35" y="308.40" font-size="7.2" text-anchor="middle" letter-spacing="-0.3">**</text>
<text x="247.80" y="373.60" font-size="6.3" text-anchor="middle" font-style="italic">EZH2</text>
<text x="271.70" y="373.60" font-size="6.3" text-anchor="middle" font-style="italic">EED</text>
<text x="7.70" y="329.40" font-size="7.2" text-anchor="middle" textLength="51.00" lengthAdjust="spacingAndGlyphs" transform="rotate(-90 7.70 329.40)" stroke="#231f20" stroke-width="0.28">Relative expression</text>
<text x="154.30" y="329.40" font-size="7.2" text-anchor="middle" textLength="51.00" lengthAdjust="spacingAndGlyphs" transform="rotate(-90 154.30 329.40)" stroke="#231f20" stroke-width="0.28">Relative expression</text>
<rect x="31.20" y="379.40" width="5.40" height="5.40" fill="#145096"/>
<text x="40.30" y="384.40" font-size="6.3">Control</text>
<rect x="70.30" y="379.40" width="5.40" height="5.40" fill="#d0002a"/>
<text x="79.70" y="384.40" font-size="6.3" textLength="46.10" lengthAdjust="spacingAndGlyphs">BCAA-restriction</text>
<rect x="180.50" y="379.40" width="5.50" height="5.40" fill="#145096"/>
<text x="189.60" y="384.40" font-size="6.3">Control</text>
<rect x="219.80" y="379.40" width="5.60" height="5.40" fill="#d0002a"/>
<text x="228.50" y="384.40" font-size="6.3" textLength="55.00" lengthAdjust="spacingAndGlyphs">Gabapentin 20 mM</text>
<text x="322.80" y="98.60" font-size="6.3" textLength="54.50" lengthAdjust="spacingAndGlyphs">Primary AML (<tspan font-style="italic">n</tspan> = 6)</text>
<rect x="328.10" y="129.80" width="5.20" height="43.40" fill="#144b8c"/>
<rect x="336.00" y="131.97" width="5.20" height="41.23" fill="#2aa0dc"/>
<rect x="343.90" y="141.52" width="5.20" height="31.68" fill="#c8001e"/>
<rect x="352.60" y="129.80" width="5.20" height="43.40" fill="#144b8c"/>
<rect x="360.60" y="131.10" width="5.20" height="42.10" fill="#2aa0dc"/>
<rect x="368.70" y="141.95" width="5.20" height="31.25" fill="#c8001e"/>
<line x1="338.60" y1="131.97" x2="338.60" y2="129.80" stroke="#111" stroke-width="0.6"/>
<line x1="337.30" y1="129.80" x2="339.90" y2="129.80" stroke="#111" stroke-width="0.6"/>
<circle cx="337.40" cy="130.67" r="1.0" fill="#111"/>
<circle cx="339.80" cy="130.23" r="1.0" fill="#111"/>
<circle cx="338.60" cy="133.27" r="1.0" fill="#111"/>
<circle cx="337.80" cy="135.01" r="1.0" fill="#111"/>
<circle cx="339.40" cy="136.31" r="1.0" fill="#111"/>
<line x1="346.50" y1="141.52" x2="346.50" y2="139.35" stroke="#111" stroke-width="0.6"/>
<line x1="345.20" y1="139.35" x2="347.80" y2="139.35" stroke="#111" stroke-width="0.6"/>
<circle cx="346.50" cy="135.01" r="1.0" fill="#111"/>
<circle cx="346.50" cy="138.48" r="1.0" fill="#111"/>
<circle cx="345.50" cy="142.82" r="1.0" fill="#111"/>
<circle cx="347.50" cy="144.56" r="1.0" fill="#111"/>
<line x1="363.20" y1="131.10" x2="363.20" y2="128.50" stroke="#111" stroke-width="0.6"/>
<line x1="361.90" y1="128.50" x2="364.50" y2="128.50" stroke="#111" stroke-width="0.6"/>
<circle cx="361.70" cy="128.06" r="1.0" fill="#111"/>
<circle cx="364.40" cy="128.93" r="1.0" fill="#111"/>
<circle cx="363.20" cy="134.14" r="1.0" fill="#111"/>
<circle cx="363.20" cy="136.31" r="1.0" fill="#111"/>
<circle cx="362.40" cy="138.48" r="1.0" fill="#111"/>
<line x1="371.30" y1="141.95" x2="371.30" y2="139.35" stroke="#111" stroke-width="0.6"/>
<line x1="370.00" y1="139.35" x2="372.60" y2="139.35" stroke="#111" stroke-width="0.6"/>
<circle cx="372.80" cy="136.74" r="1.0" fill="#111"/>
<circle cx="370.10" cy="138.91" r="1.0" fill="#111"/>
<circle cx="371.30" cy="142.82" r="1.0" fill="#111"/>
<circle cx="372.30" cy="146.29" r="1.0" fill="#111"/>
<line x1="325.00" y1="106.40" x2="325.00" y2="173.60" stroke="#231f20" stroke-width="0.9"/>
<line x1="324.55" y1="173.20" x2="377.00" y2="173.20" stroke="#231f20" stroke-width="0.9"/>
<line x1="323.00" y1="173.20" x2="325.00" y2="173.20" stroke="#231f20" stroke-width="0.8"/>
<text x="318.50" y="175.40" font-size="6.2" text-anchor="end">0</text>
<line x1="323.00" y1="151.50" x2="325.00" y2="151.50" stroke="#231f20" stroke-width="0.8"/>
<text x="318.50" y="153.70" font-size="6.2" text-anchor="end">0.5</text>
<line x1="323.00" y1="129.80" x2="325.00" y2="129.80" stroke="#231f20" stroke-width="0.8"/>
<text x="318.50" y="132.00" font-size="6.2" text-anchor="end">1.0</text>
<line x1="323.00" y1="108.10" x2="325.00" y2="108.10" stroke="#231f20" stroke-width="0.8"/>
<text x="318.50" y="110.30" font-size="6.2" text-anchor="end">1.5</text>
<line x1="330.70" y1="173.20" x2="330.70" y2="175.00" stroke="#231f20" stroke-width="0.7"/>
<line x1="338.60" y1="173.20" x2="338.60" y2="175.00" stroke="#231f20" stroke-width="0.7"/>
<line x1="346.50" y1="173.20" x2="346.50" y2="175.00" stroke="#231f20" stroke-width="0.7"/>
<line x1="355.20" y1="173.20" x2="355.20" y2="175.00" stroke="#231f20" stroke-width="0.7"/>
<line x1="363.20" y1="173.20" x2="363.20" y2="175.00" stroke="#231f20" stroke-width="0.7"/>
<line x1="371.30" y1="173.20" x2="371.30" y2="175.00" stroke="#231f20" stroke-width="0.7"/>
<path d="M331.40 111.40V110.00H347.80V111.40" stroke="#231f20" stroke-width="0.85" fill="none"/>
<text x="339.60" y="109.10" font-size="7.2" text-anchor="middle" letter-spacing="-0.3">***</text>
<path d="M338.50 121.40V120.00H348.50V121.40" stroke="#231f20" stroke-width="0.85" fill="none"/>
<text x="343.50" y="119.10" font-size="7.2" text-anchor="middle" letter-spacing="-0.3">**</text>
<path d="M355.70 111.40V110.00H372.20V111.40" stroke="#231f20" stroke-width="0.85" fill="none"/>
<text x="363.95" y="109.10" font-size="7.2" text-anchor="middle" letter-spacing="-0.3">***</text>
<path d="M362.90 121.40V120.00H372.20V121.40" stroke="#231f20" stroke-width="0.85" fill="none"/>
<text x="367.55" y="119.10" font-size="7.2" text-anchor="middle" letter-spacing="-0.3">*</text>
<text x="338.50" y="185.50" font-size="6.3" text-anchor="middle">EZH2</text>
<text x="363.30" y="185.50" font-size="6.3" text-anchor="middle">EED</text>
<text x="394.60" y="98.60" font-size="6.3" textLength="53.90" lengthAdjust="spacingAndGlyphs">Primary ALL (<tspan font-style="italic">n</tspan> = 5)</text>
<rect x="400.00" y="129.80" width="5.40" height="43.40" fill="#144b8c"/>
<rect x="408.30" y="129.37" width="5.40" height="43.83" fill="#2aa0dc"/>
<rect x="416.00" y="144.12" width="5.40" height="29.08" fill="#c8001e"/>
<rect x="424.30" y="129.80" width="5.40" height="43.40" fill="#144b8c"/>
<rect x="432.30" y="132.84" width="5.40" height="40.36" fill="#2aa0dc"/>
<rect x="440.60" y="147.16" width="5.40" height="26.04" fill="#c8001e"/>
<line x1="411.00" y1="129.37" x2="411.00" y2="123.72" stroke="#111" stroke-width="0.6"/>
<line x1="409.70" y1="123.72" x2="412.30" y2="123.72" stroke="#111" stroke-width="0.6"/>
<circle cx="410.00" cy="125.46" r="1.0" fill="#111"/>
<circle cx="411.00" cy="131.10" r="1.0" fill="#111"/>
<circle cx="411.00" cy="135.44" r="1.0" fill="#111"/>
<line x1="418.70" y1="144.12" x2="418.70" y2="141.52" stroke="#111" stroke-width="0.6"/>
<line x1="417.40" y1="141.52" x2="420.00" y2="141.52" stroke="#111" stroke-width="0.6"/>
<circle cx="418.70" cy="132.84" r="1.0" fill="#111"/>
<circle cx="418.70" cy="137.61" r="1.0" fill="#111"/>
<circle cx="418.70" cy="141.95" r="1.0" fill="#111"/>
<circle cx="418.70" cy="147.16" r="1.0" fill="#111"/>
<line x1="435.00" y1="132.84" x2="435.00" y2="131.10" stroke="#111" stroke-width="0.6"/>
<line x1="433.70" y1="131.10" x2="436.30" y2="131.10" stroke="#111" stroke-width="0.6"/>
<circle cx="435.00" cy="123.29" r="1.0" fill="#111"/>
<circle cx="435.00" cy="127.63" r="1.0" fill="#111"/>
<circle cx="433.80" cy="132.84" r="1.0" fill="#111"/>
<circle cx="436.20" cy="134.14" r="1.0" fill="#111"/>
<line x1="443.30" y1="147.16" x2="443.30" y2="144.12" stroke="#111" stroke-width="0.6"/>
<line x1="442.00" y1="144.12" x2="444.60" y2="144.12" stroke="#111" stroke-width="0.6"/>
<circle cx="443.30" cy="138.48" r="1.0" fill="#111"/>
<circle cx="441.80" cy="140.65" r="1.0" fill="#111"/>
<circle cx="444.80" cy="141.52" r="1.0" fill="#111"/>
<circle cx="443.30" cy="146.29" r="1.0" fill="#111"/>
<circle cx="443.30" cy="151.50" r="1.0" fill="#111"/>
<line x1="395.40" y1="106.40" x2="395.40" y2="173.60" stroke="#231f20" stroke-width="0.9"/>
<line x1="394.95" y1="173.20" x2="448.00" y2="173.20" stroke="#231f20" stroke-width="0.9"/>
<line x1="393.40" y1="173.20" x2="395.40" y2="173.20" stroke="#231f20" stroke-width="0.8"/>
<text x="390.00" y="175.40" font-size="6.2" text-anchor="end">0</text>
<line x1="393.40" y1="151.50" x2="395.40" y2="151.50" stroke="#231f20" stroke-width="0.8"/>
<text x="390.00" y="153.70" font-size="6.2" text-anchor="end">0.5</text>
<line x1="393.40" y1="129.80" x2="395.40" y2="129.80" stroke="#231f20" stroke-width="0.8"/>
<text x="390.00" y="132.00" font-size="6.2" text-anchor="end">1.0</text>
<line x1="393.40" y1="108.10" x2="395.40" y2="108.10" stroke="#231f20" stroke-width="0.8"/>
<text x="390.00" y="110.30" font-size="6.2" text-anchor="end">1.5</text>
<line x1="402.70" y1="173.20" x2="402.70" y2="175.00" stroke="#231f20" stroke-width="0.7"/>
<line x1="411.00" y1="173.20" x2="411.00" y2="175.00" stroke="#231f20" stroke-width="0.7"/>
<line x1="418.70" y1="173.20" x2="418.70" y2="175.00" stroke="#231f20" stroke-width="0.7"/>
<line x1="427.00" y1="173.20" x2="427.00" y2="175.00" stroke="#231f20" stroke-width="0.7"/>
<line x1="435.00" y1="173.20" x2="435.00" y2="175.00" stroke="#231f20" stroke-width="0.7"/>
<line x1="443.30" y1="173.20" x2="443.30" y2="175.00" stroke="#231f20" stroke-width="0.7"/>
<path d="M403.00 109.40V108.00H419.70V109.40" stroke="#231f20" stroke-width="0.85" fill="none"/>
<text x="411.35" y="107.10" font-size="7.2" text-anchor="middle" letter-spacing="-0.3">**</text>
<path d="M412.00 121.40V120.00H420.30V121.40" stroke="#231f20" stroke-width="0.85" fill="none"/>
<text x="416.15" y="119.10" font-size="7.2" text-anchor="middle" letter-spacing="-0.3">**</text>
<path d="M427.00 109.40V108.00H443.40V109.40" stroke="#231f20" stroke-width="0.85" fill="none"/>
<text x="435.20" y="107.10" font-size="7.2" text-anchor="middle" letter-spacing="-0.3">**</text>
<path d="M433.50 121.40V120.00H443.40V121.40" stroke="#231f20" stroke-width="0.85" fill="none"/>
<text x="438.45" y="119.10" font-size="7.2" text-anchor="middle" letter-spacing="-0.3">*</text>
<text x="409.60" y="185.50" font-size="6.3" text-anchor="middle">EZH2</text>
<text x="434.80" y="185.50" font-size="6.3" text-anchor="middle">EED</text>
<text x="303.20" y="138.70" font-size="6.8" text-anchor="middle" textLength="33.00" lengthAdjust="spacingAndGlyphs" transform="rotate(-90 303.20 138.70)" stroke="#231f20" stroke-width="0.28">Relative MFI</text>
<rect x="460.00" y="120.00" width="6.00" height="5.80" fill="#144b8c"/>
<text x="469.60" y="125.10" font-size="6.3">Control</text>
<rect x="460.00" y="130.50" width="6.00" height="5.60" fill="#2aa0dc"/>
<text x="469.60" y="135.40" font-size="6.3" textLength="41.70" lengthAdjust="spacingAndGlyphs">L-asparaginase</text>
<text x="469.60" y="144.80" font-size="6.3">1.0IU/mL</text>
<rect x="460.00" y="149.00" width="6.00" height="5.60" fill="#c8001e"/>
<text x="469.60" y="153.90" font-size="6.3">Gabapentin</text>
<text x="469.60" y="162.50" font-size="6.3">20 mM</text>
<text x="323.10" y="291.20" font-size="6.3" textLength="54.30" lengthAdjust="spacingAndGlyphs">Primary AML (<tspan font-style="italic">n</tspan> = 8)</text>
<rect x="328.10" y="320.70" width="5.00" height="43.60" fill="#144b87"/>
<rect x="336.00" y="318.96" width="5.20" height="45.34" fill="#32aa3c"/>
<rect x="344.10" y="329.42" width="5.40" height="34.88" fill="#c80a28"/>
<rect x="352.40" y="320.70" width="5.20" height="43.60" fill="#144b87"/>
<rect x="360.90" y="319.83" width="5.30" height="44.47" fill="#32aa3c"/>
<rect x="369.20" y="331.60" width="5.40" height="32.70" fill="#c80a28"/>
<line x1="338.60" y1="318.96" x2="338.60" y2="317.65" stroke="#111" stroke-width="0.6"/>
<line x1="337.30" y1="317.65" x2="339.90" y2="317.65" stroke="#111" stroke-width="0.6"/>
<circle cx="337.30" cy="315.47" r="1.0" fill="#111"/>
<circle cx="339.90" cy="316.34" r="1.0" fill="#111"/>
<circle cx="338.60" cy="317.21" r="1.0" fill="#111"/>
<circle cx="337.70" cy="318.52" r="1.0" fill="#111"/>
<circle cx="339.50" cy="319.39" r="1.0" fill="#111"/>
<circle cx="338.60" cy="320.70" r="1.0" fill="#111"/>
<circle cx="337.20" cy="321.57" r="1.0" fill="#111"/>
<circle cx="340.00" cy="322.44" r="1.0" fill="#111"/>
<line x1="346.80" y1="329.42" x2="346.80" y2="327.68" stroke="#111" stroke-width="0.6"/>
<line x1="345.50" y1="327.68" x2="348.10" y2="327.68" stroke="#111" stroke-width="0.6"/>
<circle cx="345.50" cy="320.70" r="1.0" fill="#111"/>
<circle cx="348.10" cy="325.93" r="1.0" fill="#111"/>
<circle cx="346.80" cy="327.24" r="1.0" fill="#111"/>
<circle cx="345.90" cy="329.42" r="1.0" fill="#111"/>
<circle cx="347.70" cy="330.29" r="1.0" fill="#111"/>
<circle cx="346.80" cy="331.60" r="1.0" fill="#111"/>
<circle cx="345.40" cy="332.91" r="1.0" fill="#111"/>
<circle cx="348.20" cy="335.96" r="1.0" fill="#111"/>
<line x1="363.55" y1="319.83" x2="363.55" y2="318.08" stroke="#111" stroke-width="0.6"/>
<line x1="362.25" y1="318.08" x2="364.85" y2="318.08" stroke="#111" stroke-width="0.6"/>
<circle cx="362.25" cy="315.47" r="1.0" fill="#111"/>
<circle cx="364.85" cy="318.08" r="1.0" fill="#111"/>
<circle cx="363.55" cy="319.39" r="1.0" fill="#111"/>
<circle cx="362.65" cy="320.70" r="1.0" fill="#111"/>
<circle cx="364.45" cy="321.57" r="1.0" fill="#111"/>
<circle cx="363.55" cy="322.88" r="1.0" fill="#111"/>
<circle cx="362.15" cy="332.04" r="1.0" fill="#111"/>
<line x1="371.90" y1="331.60" x2="371.90" y2="329.86" stroke="#111" stroke-width="0.6"/>
<line x1="370.60" y1="329.86" x2="373.20" y2="329.86" stroke="#111" stroke-width="0.6"/>
<circle cx="370.60" cy="323.75" r="1.0" fill="#111"/>
<circle cx="373.20" cy="327.24" r="1.0" fill="#111"/>
<circle cx="371.90" cy="329.42" r="1.0" fill="#111"/>
<circle cx="371.00" cy="330.29" r="1.0" fill="#111"/>
<circle cx="372.80" cy="331.60" r="1.0" fill="#111"/>
<circle cx="371.90" cy="332.91" r="1.0" fill="#111"/>
<circle cx="370.50" cy="333.78" r="1.0" fill="#111"/>
<circle cx="373.30" cy="334.65" r="1.0" fill="#111"/>
<line x1="324.40" y1="296.80" x2="324.40" y2="364.70" stroke="#231f20" stroke-width="0.9"/>
<line x1="323.95" y1="364.30" x2="377.00" y2="364.30" stroke="#231f20" stroke-width="0.9"/>
<line x1="322.40" y1="364.30" x2="324.40" y2="364.30" stroke="#231f20" stroke-width="0.8"/>
<text x="318.00" y="366.50" font-size="6.2" text-anchor="end">0</text>
<line x1="322.40" y1="342.50" x2="324.40" y2="342.50" stroke="#231f20" stroke-width="0.8"/>
<text x="318.00" y="344.70" font-size="6.2" text-anchor="end">0.5</text>
<line x1="322.40" y1="320.70" x2="324.40" y2="320.70" stroke="#231f20" stroke-width="0.8"/>
<text x="318.00" y="322.90" font-size="6.2" text-anchor="end">1.0</text>
<line x1="322.40" y1="298.90" x2="324.40" y2="298.90" stroke="#231f20" stroke-width="0.8"/>
<text x="318.00" y="301.10" font-size="6.2" text-anchor="end">1.5</text>
<line x1="330.60" y1="364.30" x2="330.60" y2="366.10" stroke="#231f20" stroke-width="0.7"/>
<line x1="338.60" y1="364.30" x2="338.60" y2="366.10" stroke="#231f20" stroke-width="0.7"/>
<line x1="346.80" y1="364.30" x2="346.80" y2="366.10" stroke="#231f20" stroke-width="0.7"/>
<line x1="355.00" y1="364.30" x2="355.00" y2="366.10" stroke="#231f20" stroke-width="0.7"/>
<line x1="363.55" y1="364.30" x2="363.55" y2="366.10" stroke="#231f20" stroke-width="0.7"/>
<line x1="371.90" y1="364.30" x2="371.90" y2="366.10" stroke="#231f20" stroke-width="0.7"/>
<path d="M330.30 303.20V301.80H347.20V303.20" stroke="#231f20" stroke-width="0.85" fill="none"/>
<text x="338.75" y="300.90" font-size="7.2" text-anchor="middle" letter-spacing="-0.3">**</text>
<path d="M338.00 313.90V312.50H347.20V313.90" stroke="#231f20" stroke-width="0.85" fill="none"/>
<text x="342.60" y="311.60" font-size="7.2" text-anchor="middle" letter-spacing="-0.3">***</text>
<path d="M355.00 303.20V301.80H372.00V303.20" stroke="#231f20" stroke-width="0.85" fill="none"/>
<text x="363.50" y="300.90" font-size="7.2" text-anchor="middle" letter-spacing="-0.3">***</text>
<path d="M362.60 313.90V312.50H372.00V313.90" stroke="#231f20" stroke-width="0.85" fill="none"/>
<text x="367.30" y="311.60" font-size="7.2" text-anchor="middle" letter-spacing="-0.3">***</text>
<text x="338.30" y="376.20" font-size="6.3" text-anchor="middle">EZH2</text>
<text x="363.50" y="376.20" font-size="6.3" text-anchor="middle">EED</text>
<text x="395.10" y="291.20" font-size="6.3" textLength="53.80" lengthAdjust="spacingAndGlyphs">Primary ALL (<tspan font-style="italic">n</tspan> = 7)</text>
<rect x="399.10" y="320.70" width="5.30" height="43.60" fill="#144b87"/>
<rect x="407.10" y="320.70" width="5.40" height="43.60" fill="#32aa3c"/>
<rect x="415.20" y="332.04" width="5.60" height="32.26" fill="#c80a28"/>
<rect x="423.20" y="320.70" width="5.60" height="43.60" fill="#144b87"/>
<rect x="432.00" y="322.88" width="5.60" height="41.42" fill="#32aa3c"/>
<rect x="440.00" y="335.09" width="5.70" height="29.21" fill="#c80a28"/>
<line x1="409.80" y1="320.70" x2="409.80" y2="318.96" stroke="#111" stroke-width="0.6"/>
<line x1="408.50" y1="318.96" x2="411.10" y2="318.96" stroke="#111" stroke-width="0.6"/>
<circle cx="408.50" cy="315.03" r="1.0" fill="#111"/>
<circle cx="411.10" cy="316.34" r="1.0" fill="#111"/>
<circle cx="409.80" cy="318.52" r="1.0" fill="#111"/>
<circle cx="408.90" cy="319.83" r="1.0" fill="#111"/>
<circle cx="410.70" cy="321.57" r="1.0" fill="#111"/>
<circle cx="409.80" cy="322.88" r="1.0" fill="#111"/>
<circle cx="408.40" cy="325.06" r="1.0" fill="#111"/>
<line x1="418.00" y1="332.04" x2="418.00" y2="330.29" stroke="#111" stroke-width="0.6"/>
<line x1="416.70" y1="330.29" x2="419.30" y2="330.29" stroke="#111" stroke-width="0.6"/>
<circle cx="416.70" cy="326.37" r="1.0" fill="#111"/>
<circle cx="419.30" cy="326.37" r="1.0" fill="#111"/>
<circle cx="418.00" cy="329.42" r="1.0" fill="#111"/>
<circle cx="417.10" cy="331.60" r="1.0" fill="#111"/>
<circle cx="418.90" cy="332.91" r="1.0" fill="#111"/>
<circle cx="418.00" cy="333.78" r="1.0" fill="#111"/>
<circle cx="416.60" cy="335.96" r="1.0" fill="#111"/>
<line x1="434.80" y1="322.88" x2="434.80" y2="321.57" stroke="#111" stroke-width="0.6"/>
<line x1="433.50" y1="321.57" x2="436.10" y2="321.57" stroke="#111" stroke-width="0.6"/>
<circle cx="433.50" cy="320.70" r="1.0" fill="#111"/>
<circle cx="436.10" cy="321.14" r="1.0" fill="#111"/>
<circle cx="434.80" cy="321.57" r="1.0" fill="#111"/>
<circle cx="433.90" cy="322.88" r="1.0" fill="#111"/>
<circle cx="435.70" cy="323.75" r="1.0" fill="#111"/>
<circle cx="434.80" cy="325.06" r="1.0" fill="#111"/>
<circle cx="433.40" cy="325.93" r="1.0" fill="#111"/>
<line x1="442.85" y1="335.09" x2="442.85" y2="333.34" stroke="#111" stroke-width="0.6"/>
<line x1="441.55" y1="333.34" x2="444.15" y2="333.34" stroke="#111" stroke-width="0.6"/>
<circle cx="441.55" cy="328.55" r="1.0" fill="#111"/>
<circle cx="444.15" cy="331.16" r="1.0" fill="#111"/>
<circle cx="442.85" cy="332.91" r="1.0" fill="#111"/>
<circle cx="441.95" cy="333.78" r="1.0" fill="#111"/>
<circle cx="443.75" cy="335.52" r="1.0" fill="#111"/>
<circle cx="442.85" cy="338.14" r="1.0" fill="#111"/>
<circle cx="441.45" cy="340.32" r="1.0" fill="#111"/>
<line x1="395.60" y1="296.80" x2="395.60" y2="364.70" stroke="#231f20" stroke-width="0.9"/>
<line x1="395.15" y1="364.30" x2="449.00" y2="364.30" stroke="#231f20" stroke-width="0.9"/>
<line x1="393.60" y1="364.30" x2="395.60" y2="364.30" stroke="#231f20" stroke-width="0.8"/>
<text x="390.30" y="366.50" font-size="6.2" text-anchor="end">0</text>
<line x1="393.60" y1="342.50" x2="395.60" y2="342.50" stroke="#231f20" stroke-width="0.8"/>
<text x="390.30" y="344.70" font-size="6.2" text-anchor="end">0.5</text>
<line x1="393.60" y1="320.70" x2="395.60" y2="320.70" stroke="#231f20" stroke-width="0.8"/>
<text x="390.30" y="322.90" font-size="6.2" text-anchor="end">1.0</text>
<line x1="393.60" y1="298.90" x2="395.60" y2="298.90" stroke="#231f20" stroke-width="0.8"/>
<text x="390.30" y="301.10" font-size="6.2" text-anchor="end">1.5</text>
<line x1="401.75" y1="364.30" x2="401.75" y2="366.10" stroke="#231f20" stroke-width="0.7"/>
<line x1="409.80" y1="364.30" x2="409.80" y2="366.10" stroke="#231f20" stroke-width="0.7"/>
<line x1="418.00" y1="364.30" x2="418.00" y2="366.10" stroke="#231f20" stroke-width="0.7"/>
<line x1="426.00" y1="364.30" x2="426.00" y2="366.10" stroke="#231f20" stroke-width="0.7"/>
<line x1="434.80" y1="364.30" x2="434.80" y2="366.10" stroke="#231f20" stroke-width="0.7"/>
<line x1="442.85" y1="364.30" x2="442.85" y2="366.10" stroke="#231f20" stroke-width="0.7"/>
<path d="M403.10 303.20V301.80H419.20V303.20" stroke="#231f20" stroke-width="0.85" fill="none"/>
<text x="411.15" y="300.90" font-size="7.2" text-anchor="middle" letter-spacing="-0.3">***</text>
<path d="M410.00 312.40V311.00H418.90V312.40" stroke="#231f20" stroke-width="0.85" fill="none"/>
<text x="414.45" y="310.10" font-size="7.2" text-anchor="middle" letter-spacing="-0.3">**</text>
<path d="M427.20 303.20V301.80H443.30V303.20" stroke="#231f20" stroke-width="0.85" fill="none"/>
<text x="435.25" y="300.90" font-size="7.2" text-anchor="middle" letter-spacing="-0.3">***</text>
<path d="M434.40 312.40V311.00H443.30V312.40" stroke="#231f20" stroke-width="0.85" fill="none"/>
<text x="438.85" y="310.10" font-size="7.2" text-anchor="middle" letter-spacing="-0.3">**</text>
<text x="409.40" y="376.20" font-size="6.3" text-anchor="middle">EZH2</text>
<text x="434.50" y="376.20" font-size="6.3" text-anchor="middle">EED</text>
<text x="303.00" y="330.00" font-size="6.8" text-anchor="middle" textLength="33.00" lengthAdjust="spacingAndGlyphs" transform="rotate(-90 303.00 330.00)" stroke="#231f20" stroke-width="0.28">Relative MFI</text>
<rect x="460.00" y="308.10" width="6.00" height="5.90" fill="#144b87"/>
<text x="469.60" y="313.40" font-size="6.3">Control</text>
<rect x="460.00" y="318.70" width="6.00" height="5.80" fill="#32aa3c"/>
<text x="469.60" y="324.00" font-size="6.3" textLength="45.70" lengthAdjust="spacingAndGlyphs">Thr/Phe/Lys-free</text>
<text x="469.60" y="332.50" font-size="6.3">media</text>
<rect x="460.00" y="337.50" width="6.00" height="6.00" fill="#c80a28"/>
<text x="469.60" y="342.50" font-size="6.3">BCAA-free</text>
<text x="469.60" y="351.20" font-size="6.3">media</text>
<rect x="324.30" y="14.10" width="51.20" height="48.20" fill="#fff" stroke="#7a7a7a" stroke-width="0.8"/>
<path d="M328.00 62.09 L328.37 62.08 L328.73 62.06 L329.10 62.05 L329.47 62.03 L329.83 62.01 L330.20 62.00 L330.57 61.98 L330.93 61.96 L331.30 61.94 L331.67 61.91 L332.03 61.89 L332.40 61.86 L332.77 61.83 L333.13 61.81 L333.50 61.77 L333.87 61.74 L334.23 61.71 L334.60 61.67 L334.97 61.63 L335.33 61.52 L335.70 61.20 L336.07 60.78 L336.43 60.22 L336.80 59.48 L337.17 58.53 L337.53 57.32 L337.90 55.80 L338.27 53.93 L338.63 51.66 L339.00 48.97 L339.37 45.83 L339.73 42.27 L340.10 38.32 L340.47 34.09 L340.83 29.71 L341.20 25.41 L341.57 21.48 L341.93 18.34 L342.30 16.70 L342.67 17.97 L343.03 20.45 L343.40 23.61 L343.77 27.16 L344.13 30.87 L344.50 34.60 L344.87 38.20 L345.23 41.60 L345.60 44.72 L345.97 47.55 L346.33 50.05 L346.70 52.23 L347.07 54.11 L347.43 55.70 L347.80 57.03 L348.17 58.14 L348.53 59.04 L348.90 59.77 L349.27 60.35 L349.63 60.81 L350.00 61.17 L350.37 61.45 L350.73 61.67 L351.10 61.77 L351.47 61.81 L351.83 61.83 L352.20 61.86 L352.57 61.89 L352.93 61.91 L353.30 61.94 L353.67 61.96 L354.03 61.98 L354.40 62.00 L354.77 62.01 L355.13 62.03 L355.50 62.05 L355.87 62.06 L356.23 62.08 L356.60 62.09 L356.97 62.10 L357.33 62.11 L357.70 62.12 L358.07 62.14 L358.43 62.15 L358.80 62.15 L359.17 62.16 L359.53 62.17 L359.90 62.18 L360.27 62.19 L360.63 62.19 L361.00 62.20 L361.37 62.20 L361.73 62.21 L362.10 62.22 L362.47 62.22 L362.83 62.23 L363.20 62.23 L363.57 62.23 L363.93 62.24 L364.30 62.24 L364.67 62.25 L365.03 62.25 L365.40 62.25 L365.77 62.25 L366.13 62.26 L366.50 62.26 L366.87 62.26 L367.23 62.26 L367.60 62.27 L367.97 62.27 L368.33 62.27 L368.70 62.27 L369.07 62.27 L369.43 62.28 L369.80 62.28 L370.17 62.28 L370.53 62.28 L370.90 62.28 L371.27 62.28 L371.63 62.28 L372.00 62.28" fill="none" stroke="#d24f68" stroke-width="0.75"/>
<path d="M330.00 62.20 L330.35 62.19 L330.70 62.19 L331.05 62.18 L331.40 62.17 L331.75 62.16 L332.10 62.16 L332.45 62.15 L332.80 62.14 L333.15 62.13 L333.50 62.12 L333.85 62.11 L334.20 62.10 L334.55 62.08 L334.90 62.07 L335.25 62.06 L335.60 62.04 L335.95 62.03 L336.30 62.01 L336.65 61.99 L337.00 61.97 L337.35 61.95 L337.70 61.93 L338.05 61.91 L338.40 61.89 L338.75 61.86 L339.10 61.70 L339.45 61.44 L339.80 61.07 L340.15 60.56 L340.50 59.89 L340.85 58.99 L341.20 57.82 L341.55 56.32 L341.90 54.44 L342.25 52.13 L342.60 49.33 L342.95 46.04 L343.30 42.25 L343.65 38.04 L344.00 33.51 L344.35 28.85 L344.70 24.33 L345.05 20.34 L345.40 17.45 L345.75 17.20 L346.10 20.04 L346.45 24.13 L346.80 28.82 L347.15 33.67 L347.50 38.37 L347.85 42.71 L348.20 46.58 L348.55 49.91 L348.90 52.71 L349.25 55.00 L349.60 56.83 L349.95 58.27 L350.30 59.37 L350.65 60.20 L351.00 60.82 L351.35 61.27 L351.70 61.59 L352.05 61.82 L352.40 61.86 L352.75 61.88 L353.10 61.91 L353.45 61.93 L353.80 61.95 L354.15 61.97 L354.50 61.99 L354.85 62.01 L355.20 62.02 L355.55 62.04 L355.90 62.05 L356.25 62.07 L356.60 62.08 L356.95 62.09 L357.30 62.11 L357.65 62.12 L358.00 62.13 L358.35 62.14 L358.70 62.15 L359.05 62.15 L359.40 62.16 L359.75 62.17 L360.10 62.18 L360.45 62.18 L360.80 62.19 L361.15 62.20 L361.50 62.20 L361.85 62.21 L362.20 62.21 L362.55 62.22 L362.90 62.22 L363.25 62.23 L363.60 62.23 L363.95 62.24 L364.30 62.24 L364.65 62.24 L365.00 62.25 L365.35 62.25 L365.70 62.25 L366.05 62.25 L366.40 62.26 L366.75 62.26 L367.10 62.26 L367.45 62.26 L367.80 62.27 L368.15 62.27 L368.50 62.27 L368.85 62.27 L369.20 62.27 L369.55 62.27 L369.90 62.28 L370.25 62.28 L370.60 62.28 L370.95 62.28 L371.30 62.28 L371.65 62.28 L372.00 62.28" fill="none" stroke="#4cb4e4" stroke-width="0.75"/>
<path d="M330.00 62.19 L330.35 62.18 L330.70 62.18 L331.05 62.17 L331.40 62.16 L331.75 62.15 L332.10 62.14 L332.45 62.13 L332.80 62.12 L333.15 62.11 L333.50 62.10 L333.85 62.09 L334.20 62.08 L334.55 62.06 L334.90 62.05 L335.25 62.04 L335.60 62.02 L335.95 62.00 L336.30 61.98 L336.65 61.97 L337.00 61.95 L337.35 61.92 L337.70 61.90 L338.05 61.86 L338.40 61.67 L338.75 61.40 L339.10 61.04 L339.45 60.55 L339.80 59.89 L340.15 59.04 L340.50 57.93 L340.85 56.53 L341.20 54.77 L341.55 52.62 L341.90 50.03 L342.25 46.97 L342.60 43.46 L342.95 39.53 L343.30 35.26 L343.65 30.80 L344.00 26.35 L344.35 22.21 L344.70 18.80 L345.05 16.78 L345.40 18.12 L345.75 21.40 L346.10 25.59 L346.45 30.18 L346.80 34.83 L347.15 39.28 L347.50 43.38 L347.85 47.03 L348.20 50.18 L348.55 52.84 L348.90 55.02 L349.25 56.79 L349.60 58.19 L349.95 59.27 L350.30 60.10 L350.65 60.72 L351.00 61.18 L351.35 61.52 L351.70 61.76 L352.05 61.87 L352.40 61.89 L352.75 61.92 L353.10 61.94 L353.45 61.96 L353.80 61.98 L354.15 62.00 L354.50 62.01 L354.85 62.03 L355.20 62.05 L355.55 62.06 L355.90 62.07 L356.25 62.09 L356.60 62.10 L356.95 62.11 L357.30 62.12 L357.65 62.13 L358.00 62.14 L358.35 62.15 L358.70 62.16 L359.05 62.17 L359.40 62.17 L359.75 62.18 L360.10 62.19 L360.45 62.19 L360.80 62.20 L361.15 62.21 L361.50 62.21 L361.85 62.22 L362.20 62.22 L362.55 62.23 L362.90 62.23 L363.25 62.23 L363.60 62.24 L363.95 62.24 L364.30 62.24 L364.65 62.25 L365.00 62.25 L365.35 62.25 L365.70 62.26 L366.05 62.26 L366.40 62.26 L366.75 62.26 L367.10 62.27 L367.45 62.27 L367.80 62.27 L368.15 62.27 L368.50 62.27 L368.85 62.27 L369.20 62.28 L369.55 62.28 L369.90 62.28 L370.25 62.28 L370.60 62.28 L370.95 62.28 L371.30 62.28 L371.65 62.28 L372.00 62.28" fill="none" stroke="#2b6496" stroke-width="0.8"/>
<line x1="324.30" y1="14.10" x2="324.30" y2="62.30" stroke="#222" stroke-width="1.0"/>
<line x1="324.30" y1="62.30" x2="375.50" y2="62.30" stroke="#222" stroke-width="1.0"/>
<line x1="322.70" y1="62.30" x2="324.30" y2="62.30" stroke="#222" stroke-width="0.6"/>
<text x="320.90" y="63.90" font-size="4.6" text-anchor="end" fill="#444">0</text>
<line x1="323.40" y1="60.47" x2="324.30" y2="60.47" stroke="#444" stroke-width="0.4"/>
<line x1="323.40" y1="58.64" x2="324.30" y2="58.64" stroke="#444" stroke-width="0.4"/>
<line x1="323.40" y1="56.80" x2="324.30" y2="56.80" stroke="#444" stroke-width="0.4"/>
<line x1="323.40" y1="54.97" x2="324.30" y2="54.97" stroke="#444" stroke-width="0.4"/>
<line x1="322.70" y1="53.14" x2="324.30" y2="53.14" stroke="#222" stroke-width="0.6"/>
<text x="320.90" y="54.74" font-size="4.6" text-anchor="end" fill="#444">20</text>
<line x1="323.40" y1="51.31" x2="324.30" y2="51.31" stroke="#444" stroke-width="0.4"/>
<line x1="323.40" y1="49.48" x2="324.30" y2="49.48" stroke="#444" stroke-width="0.4"/>
<line x1="323.40" y1="47.64" x2="324.30" y2="47.64" stroke="#444" stroke-width="0.4"/>
<line x1="323.40" y1="45.81" x2="324.30" y2="45.81" stroke="#444" stroke-width="0.4"/>
<line x1="322.70" y1="43.98" x2="324.30" y2="43.98" stroke="#222" stroke-width="0.6"/>
<text x="320.90" y="45.58" font-size="4.6" text-anchor="end" fill="#444">40</text>
<line x1="323.40" y1="42.15" x2="324.30" y2="42.15" stroke="#444" stroke-width="0.4"/>
<line x1="323.40" y1="40.32" x2="324.30" y2="40.32" stroke="#444" stroke-width="0.4"/>
<line x1="323.40" y1="38.48" x2="324.30" y2="38.48" stroke="#444" stroke-width="0.4"/>
<line x1="323.40" y1="36.65" x2="324.30" y2="36.65" stroke="#444" stroke-width="0.4"/>
<line x1="322.70" y1="34.82" x2="324.30" y2="34.82" stroke="#222" stroke-width="0.6"/>
<text x="320.90" y="36.42" font-size="4.6" text-anchor="end" fill="#444">60</text>
<line x1="323.40" y1="32.99" x2="324.30" y2="32.99" stroke="#444" stroke-width="0.4"/>
<line x1="323.40" y1="31.16" x2="324.30" y2="31.16" stroke="#444" stroke-width="0.4"/>
<line x1="323.40" y1="29.32" x2="324.30" y2="29.32" stroke="#444" stroke-width="0.4"/>
<line x1="323.40" y1="27.49" x2="324.30" y2="27.49" stroke="#444" stroke-width="0.4"/>
<line x1="322.70" y1="25.66" x2="324.30" y2="25.66" stroke="#222" stroke-width="0.6"/>
<text x="320.90" y="27.26" font-size="4.6" text-anchor="end" fill="#444">80</text>
<line x1="323.40" y1="23.83" x2="324.30" y2="23.83" stroke="#444" stroke-width="0.4"/>
<line x1="323.40" y1="22.00" x2="324.30" y2="22.00" stroke="#444" stroke-width="0.4"/>
<line x1="323.40" y1="20.16" x2="324.30" y2="20.16" stroke="#444" stroke-width="0.4"/>
<line x1="323.40" y1="18.33" x2="324.30" y2="18.33" stroke="#444" stroke-width="0.4"/>
<line x1="322.70" y1="16.50" x2="324.30" y2="16.50" stroke="#222" stroke-width="0.6"/>
<text x="320.90" y="18.10" font-size="4.6" text-anchor="end" fill="#444">100</text>
<path d="M325.80 62.30V63.30 M327.05 62.30V63.30 M328.30 62.30V63.30 M329.55 62.30V63.30 M330.80 62.30V63.30 M332.05 62.30V63.30 M333.30 62.30V63.30 M334.55 62.30V63.30 M335.80 62.30V63.30 M337.05 62.30V63.30 M338.30 62.30V63.30 M339.55 62.30V63.30 M340.80 62.30V63.30 M342.05 62.30V63.30 M343.30 62.30V63.30 M344.55 62.30V63.30 M345.80 62.30V63.30 M347.05 62.30V63.30 M348.30 62.30V63.30 M349.55 62.30V63.30 M350.80 62.30V63.30 M352.05 62.30V63.30 M353.30 62.30V63.30 M354.55 62.30V63.30 M355.80 62.30V63.30 M357.05 62.30V63.30 M358.30 62.30V63.30 M359.55 62.30V63.30 M360.80 62.30V63.30 M362.05 62.30V63.30 M363.30 62.30V63.30 M364.55 62.30V63.30 M365.80 62.30V63.30 M367.05 62.30V63.30 M368.30 62.30V63.30 M369.55 62.30V63.30 M370.80 62.30V63.30 M372.05 62.30V63.30 M373.30 62.30V63.30" stroke="#333" stroke-width="0.35"/>
<line x1="332.80" y1="62.30" x2="332.80" y2="64.10" stroke="#222" stroke-width="0.6"/>
<line x1="347.30" y1="62.30" x2="347.30" y2="64.10" stroke="#222" stroke-width="0.6"/>
<line x1="359.10" y1="62.30" x2="359.10" y2="64.10" stroke="#222" stroke-width="0.6"/>
<line x1="370.50" y1="62.30" x2="370.50" y2="64.10" stroke="#222" stroke-width="0.6"/>
<text x="327.90" y="70.10" font-size="4.2">0 10<tspan font-size="3" dy="-1.6">2</tspan></text>
<text x="344.10" y="70.10" font-size="4.2">10<tspan font-size="3" dy="-1.6">3</tspan></text>
<text x="355.70" y="70.10" font-size="4.2">10<tspan font-size="3" dy="-1.6">4</tspan></text>
<text x="367.20" y="70.10" font-size="4.2">10<tspan font-size="3" dy="-1.6">5</tspan></text>
<text x="350.20" y="78.60" font-size="4.7" text-anchor="middle" font-style="italic">EZH2</text>
<text x="309.60" y="38.20" font-size="5.0" text-anchor="middle" textLength="19.50" lengthAdjust="spacingAndGlyphs" transform="rotate(-90 309.60 38.20)" stroke="#231f20" stroke-width="0.08">% of max</text>
<rect x="402.00" y="14.10" width="50.60" height="48.20" fill="#fff" stroke="#7a7a7a" stroke-width="0.8"/>
<path d="M406.00 62.30 L406.28 62.30 L406.57 62.30 L406.85 62.30 L407.13 62.30 L407.42 62.30 L407.70 62.30 L407.98 62.30 L408.27 62.30 L408.55 62.30 L408.83 62.30 L409.12 62.30 L409.40 62.29 L409.68 62.29 L409.97 62.29 L410.25 62.28 L410.53 62.27 L410.82 62.26 L411.10 62.24 L411.38 62.22 L411.67 62.18 L411.95 62.14 L412.23 62.07 L412.52 61.98 L412.80 61.87 L413.08 61.71 L413.37 61.51 L413.65 61.24 L413.93 60.89 L414.22 60.45 L414.50 59.89 L414.78 59.18 L415.07 58.30 L415.35 57.22 L415.63 55.91 L415.92 54.34 L416.20 52.49 L416.48 50.32 L416.77 47.82 L417.05 45.00 L417.33 41.87 L417.62 38.46 L417.90 34.83 L418.18 31.07 L418.47 27.31 L418.75 23.72 L419.03 20.52 L419.32 18.00 L419.60 16.70 L419.88 18.17 L420.17 21.01 L420.45 24.59 L420.73 28.55 L421.02 32.64 L421.30 36.66 L421.58 40.48 L421.87 43.99 L422.15 47.15 L422.43 49.92 L422.72 52.32 L423.00 54.34 L423.28 56.03 L423.57 57.42 L423.85 58.54 L424.13 59.43 L424.42 60.14 L424.70 60.68 L424.98 61.11 L425.27 61.43 L425.55 61.67 L425.83 61.84 L426.12 61.98 L426.40 62.07 L426.68 62.14 L426.97 62.19 L427.25 62.22 L427.53 62.25 L427.82 62.26 L428.10 62.28 L428.38 62.28 L428.67 62.29 L428.95 62.29 L429.23 62.30 L429.52 62.30 L429.80 62.30 L430.08 62.30 L430.37 62.30 L430.65 62.30 L430.93 62.30 L431.22 62.30 L431.50 62.30 L431.78 62.30 L432.07 62.30 L432.35 62.30 L432.63 62.30 L432.92 62.30 L433.20 62.30 L433.48 62.30 L433.77 62.30 L434.05 62.30 L434.33 62.30 L434.62 62.30 L434.90 62.30 L435.18 62.30 L435.47 62.30 L435.75 62.30 L436.03 62.30 L436.32 62.30 L436.60 62.30 L436.88 62.30 L437.17 62.30 L437.45 62.30 L437.73 62.30 L438.02 62.30 L438.30 62.30 L438.58 62.30 L438.87 62.30 L439.15 62.30 L439.43 62.30 L439.72 62.30 L440.00 62.30" fill="none" stroke="#f6c88a" stroke-width="0.6"/>
<path d="M408.00 62.24 L408.33 62.24 L408.67 62.24 L409.00 62.23 L409.33 62.23 L409.67 62.22 L410.00 62.22 L410.33 62.21 L410.67 62.21 L411.00 62.20 L411.33 62.20 L411.67 62.19 L412.00 62.19 L412.33 62.18 L412.67 62.17 L413.00 62.17 L413.33 62.16 L413.67 62.15 L414.00 62.14 L414.33 62.13 L414.67 62.12 L415.00 62.11 L415.33 62.10 L415.67 62.09 L416.00 62.08 L416.33 62.07 L416.67 62.06 L417.00 62.04 L417.33 62.03 L417.67 62.01 L418.00 61.99 L418.33 61.97 L418.67 61.85 L419.00 61.70 L419.33 61.50 L419.67 61.25 L420.00 60.92 L420.33 60.51 L420.67 59.99 L421.00 59.34 L421.33 58.54 L421.67 57.56 L422.00 56.38 L422.33 54.98 L422.67 53.31 L423.00 51.38 L423.33 49.15 L423.67 46.62 L424.00 43.80 L424.33 40.69 L424.67 37.36 L425.00 33.84 L425.33 30.23 L425.67 26.66 L426.00 23.27 L426.33 20.26 L426.67 17.91 L427.00 16.70 L427.33 18.11 L427.67 20.84 L428.00 24.29 L428.33 28.13 L428.67 32.10 L429.00 36.04 L429.33 39.80 L429.67 43.28 L430.00 46.43 L430.33 49.23 L430.67 51.66 L431.00 53.74 L431.33 55.49 L431.67 56.94 L432.00 58.12 L432.33 59.08 L432.67 59.84 L433.00 60.44 L433.33 60.91 L433.67 61.27 L434.00 61.54 L434.33 61.75 L434.67 61.90 L435.00 61.94 L435.33 61.96 L435.67 61.98 L436.00 61.99 L436.33 62.01 L436.67 62.03 L437.00 62.04 L437.33 62.06 L437.67 62.07 L438.00 62.08 L438.33 62.09 L438.67 62.10 L439.00 62.11 L439.33 62.12 L439.67 62.13 L440.00 62.14 L440.33 62.15 L440.67 62.16 L441.00 62.17 L441.33 62.17 L441.67 62.18 L442.00 62.19 L442.33 62.19 L442.67 62.20 L443.00 62.20 L443.33 62.21 L443.67 62.21 L444.00 62.22 L444.33 62.22 L444.67 62.23 L445.00 62.23 L445.33 62.24 L445.67 62.24 L446.00 62.24 L446.33 62.25 L446.67 62.25 L447.00 62.25 L447.33 62.25 L447.67 62.26 L448.00 62.26" fill="none" stroke="#d24f68" stroke-width="0.75"/>
<path d="M410.00 62.26 L410.33 62.26 L410.67 62.25 L411.00 62.25 L411.33 62.25 L411.67 62.25 L412.00 62.24 L412.33 62.24 L412.67 62.24 L413.00 62.23 L413.33 62.23 L413.67 62.22 L414.00 62.22 L414.33 62.21 L414.67 62.21 L415.00 62.20 L415.33 62.20 L415.67 62.19 L416.00 62.19 L416.33 62.18 L416.67 62.17 L417.00 62.17 L417.33 62.16 L417.67 62.15 L418.00 62.14 L418.33 62.13 L418.67 62.12 L419.00 62.11 L419.33 62.10 L419.67 62.09 L420.00 62.08 L420.33 62.07 L420.67 62.06 L421.00 62.04 L421.33 62.03 L421.67 62.01 L422.00 61.99 L422.33 61.97 L422.67 61.85 L423.00 61.70 L423.33 61.50 L423.67 61.25 L424.00 60.92 L424.33 60.51 L424.67 59.99 L425.00 59.34 L425.33 58.54 L425.67 57.56 L426.00 56.38 L426.33 54.98 L426.67 53.31 L427.00 51.38 L427.33 49.15 L427.67 46.62 L428.00 43.80 L428.33 40.69 L428.67 37.36 L429.00 33.84 L429.33 30.23 L429.67 26.66 L430.00 23.27 L430.33 20.26 L430.67 17.91 L431.00 16.70 L431.33 18.19 L431.67 21.07 L432.00 24.69 L432.33 28.69 L432.67 32.81 L433.00 36.86 L433.33 40.69 L433.67 44.22 L434.00 47.37 L434.33 50.14 L434.67 52.52 L435.00 54.53 L435.33 56.20 L435.67 57.56 L436.00 58.66 L436.33 59.54 L436.67 60.22 L437.00 60.76 L437.33 61.16 L437.67 61.47 L438.00 61.70 L438.33 61.87 L438.67 61.92 L439.00 61.94 L439.33 61.96 L439.67 61.98 L440.00 61.99 L440.33 62.01 L440.67 62.03 L441.00 62.04 L441.33 62.06 L441.67 62.07 L442.00 62.08 L442.33 62.09 L442.67 62.10 L443.00 62.11 L443.33 62.12 L443.67 62.13 L444.00 62.14 L444.33 62.15 L444.67 62.16 L445.00 62.17 L445.33 62.17 L445.67 62.18 L446.00 62.19 L446.33 62.19 L446.67 62.20 L447.00 62.20 L447.33 62.21 L447.67 62.21 L448.00 62.22 L448.33 62.22 L448.67 62.23 L449.00 62.23 L449.33 62.24 L449.67 62.24 L450.00 62.24" fill="none" stroke="#4cb4e4" stroke-width="0.75"/>
<path d="M410.00 62.26 L410.33 62.25 L410.67 62.25 L411.00 62.25 L411.33 62.24 L411.67 62.24 L412.00 62.24 L412.33 62.23 L412.67 62.23 L413.00 62.23 L413.33 62.22 L413.67 62.22 L414.00 62.21 L414.33 62.21 L414.67 62.20 L415.00 62.20 L415.33 62.19 L415.67 62.18 L416.00 62.18 L416.33 62.17 L416.67 62.16 L417.00 62.16 L417.33 62.15 L417.67 62.14 L418.00 62.13 L418.33 62.12 L418.67 62.11 L419.00 62.10 L419.33 62.09 L419.67 62.08 L420.00 62.06 L420.33 62.05 L420.67 62.03 L421.00 62.02 L421.33 62.00 L421.67 61.94 L422.00 61.82 L422.33 61.66 L422.67 61.45 L423.00 61.19 L423.33 60.86 L423.67 60.45 L424.00 59.93 L424.33 59.29 L424.67 58.51 L425.00 57.56 L425.33 56.42 L425.67 55.07 L426.00 53.48 L426.33 51.63 L426.67 49.51 L427.00 47.10 L427.33 44.42 L427.67 41.47 L428.00 38.29 L428.33 34.92 L428.67 31.44 L429.00 27.95 L429.33 24.57 L429.67 21.47 L430.00 18.87 L430.33 17.08 L430.67 17.17 L431.00 19.36 L431.33 22.50 L431.67 26.18 L432.00 30.11 L432.33 34.09 L432.67 37.95 L433.00 41.58 L433.33 44.90 L433.67 47.88 L434.00 50.49 L434.33 52.74 L434.67 54.65 L435.00 56.25 L435.33 57.56 L435.67 58.63 L436.00 59.48 L436.33 60.16 L436.67 60.69 L437.00 61.10 L437.33 61.41 L437.67 61.65 L438.00 61.83 L438.33 61.93 L438.67 61.95 L439.00 61.97 L439.33 61.99 L439.67 62.00 L440.00 62.02 L440.33 62.03 L440.67 62.05 L441.00 62.06 L441.33 62.08 L441.67 62.09 L442.00 62.10 L442.33 62.11 L442.67 62.12 L443.00 62.13 L443.33 62.14 L443.67 62.15 L444.00 62.16 L444.33 62.16 L444.67 62.17 L445.00 62.18 L445.33 62.18 L445.67 62.19 L446.00 62.20 L446.33 62.20 L446.67 62.21 L447.00 62.21 L447.33 62.22 L447.67 62.22 L448.00 62.23 L448.33 62.23 L448.67 62.23 L449.00 62.24 L449.33 62.24 L449.67 62.24 L450.00 62.25" fill="none" stroke="#2b6496" stroke-width="0.85"/>
<line x1="402.00" y1="14.10" x2="402.00" y2="62.30" stroke="#222" stroke-width="1.0"/>
<line x1="402.00" y1="62.30" x2="452.60" y2="62.30" stroke="#222" stroke-width="1.0"/>
<line x1="400.40" y1="62.30" x2="402.00" y2="62.30" stroke="#222" stroke-width="0.6"/>
<text x="398.60" y="63.90" font-size="4.6" text-anchor="end" fill="#444">0</text>
<line x1="401.10" y1="60.47" x2="402.00" y2="60.47" stroke="#444" stroke-width="0.4"/>
<line x1="401.10" y1="58.64" x2="402.00" y2="58.64" stroke="#444" stroke-width="0.4"/>
<line x1="401.10" y1="56.80" x2="402.00" y2="56.80" stroke="#444" stroke-width="0.4"/>
<line x1="401.10" y1="54.97" x2="402.00" y2="54.97" stroke="#444" stroke-width="0.4"/>
<line x1="400.40" y1="53.14" x2="402.00" y2="53.14" stroke="#222" stroke-width="0.6"/>
<text x="398.60" y="54.74" font-size="4.6" text-anchor="end" fill="#444">20</text>
<line x1="401.10" y1="51.31" x2="402.00" y2="51.31" stroke="#444" stroke-width="0.4"/>
<line x1="401.10" y1="49.48" x2="402.00" y2="49.48" stroke="#444" stroke-width="0.4"/>
<line x1="401.10" y1="47.64" x2="402.00" y2="47.64" stroke="#444" stroke-width="0.4"/>
<line x1="401.10" y1="45.81" x2="402.00" y2="45.81" stroke="#444" stroke-width="0.4"/>
<line x1="400.40" y1="43.98" x2="402.00" y2="43.98" stroke="#222" stroke-width="0.6"/>
<text x="398.60" y="45.58" font-size="4.6" text-anchor="end" fill="#444">40</text>
<line x1="401.10" y1="42.15" x2="402.00" y2="42.15" stroke="#444" stroke-width="0.4"/>
<line x1="401.10" y1="40.32" x2="402.00" y2="40.32" stroke="#444" stroke-width="0.4"/>
<line x1="401.10" y1="38.48" x2="402.00" y2="38.48" stroke="#444" stroke-width="0.4"/>
<line x1="401.10" y1="36.65" x2="402.00" y2="36.65" stroke="#444" stroke-width="0.4"/>
<line x1="400.40" y1="34.82" x2="402.00" y2="34.82" stroke="#222" stroke-width="0.6"/>
<text x="398.60" y="36.42" font-size="4.6" text-anchor="end" fill="#444">60</text>
<line x1="401.10" y1="32.99" x2="402.00" y2="32.99" stroke="#444" stroke-width="0.4"/>
<line x1="401.10" y1="31.16" x2="402.00" y2="31.16" stroke="#444" stroke-width="0.4"/>
<line x1="401.10" y1="29.32" x2="402.00" y2="29.32" stroke="#444" stroke-width="0.4"/>
<line x1="401.10" y1="27.49" x2="402.00" y2="27.49" stroke="#444" stroke-width="0.4"/>
<line x1="400.40" y1="25.66" x2="402.00" y2="25.66" stroke="#222" stroke-width="0.6"/>
<text x="398.60" y="27.26" font-size="4.6" text-anchor="end" fill="#444">80</text>
<line x1="401.10" y1="23.83" x2="402.00" y2="23.83" stroke="#444" stroke-width="0.4"/>
<line x1="401.10" y1="22.00" x2="402.00" y2="22.00" stroke="#444" stroke-width="0.4"/>
<line x1="401.10" y1="20.16" x2="402.00" y2="20.16" stroke="#444" stroke-width="0.4"/>
<line x1="401.10" y1="18.33" x2="402.00" y2="18.33" stroke="#444" stroke-width="0.4"/>
<line x1="400.40" y1="16.50" x2="402.00" y2="16.50" stroke="#222" stroke-width="0.6"/>
<text x="398.60" y="18.10" font-size="4.6" text-anchor="end" fill="#444">100</text>
<path d="M403.50 62.30V63.30 M404.75 62.30V63.30 M406.00 62.30V63.30 M407.25 62.30V63.30 M408.50 62.30V63.30 M409.75 62.30V63.30 M411.00 62.30V63.30 M412.25 62.30V63.30 M413.50 62.30V63.30 M414.75 62.30V63.30 M416.00 62.30V63.30 M417.25 62.30V63.30 M418.50 62.30V63.30 M419.75 62.30V63.30 M421.00 62.30V63.30 M422.25 62.30V63.30 M423.50 62.30V63.30 M424.75 62.30V63.30 M426.00 62.30V63.30 M427.25 62.30V63.30 M428.50 62.30V63.30 M429.75 62.30V63.30 M431.00 62.30V63.30 M432.25 62.30V63.30 M433.50 62.30V63.30 M434.75 62.30V63.30 M436.00 62.30V63.30 M437.25 62.30V63.30 M438.50 62.30V63.30 M439.75 62.30V63.30 M441.00 62.30V63.30 M442.25 62.30V63.30 M443.50 62.30V63.30 M444.75 62.30V63.30 M446.00 62.30V63.30 M447.25 62.30V63.30 M448.50 62.30V63.30 M449.75 62.30V63.30" stroke="#333" stroke-width="0.35"/>
<line x1="410.50" y1="62.30" x2="410.50" y2="64.10" stroke="#222" stroke-width="0.6"/>
<line x1="425.00" y1="62.30" x2="425.00" y2="64.10" stroke="#222" stroke-width="0.6"/>
<line x1="436.80" y1="62.30" x2="436.80" y2="64.10" stroke="#222" stroke-width="0.6"/>
<line x1="448.20" y1="62.30" x2="448.20" y2="64.10" stroke="#222" stroke-width="0.6"/>
<text x="405.60" y="70.10" font-size="4.2">0 10<tspan font-size="3" dy="-1.6">2</tspan></text>
<text x="421.80" y="70.10" font-size="4.2">10<tspan font-size="3" dy="-1.6">3</tspan></text>
<text x="433.40" y="70.10" font-size="4.2">10<tspan font-size="3" dy="-1.6">4</tspan></text>
<text x="444.90" y="70.10" font-size="4.2">10<tspan font-size="3" dy="-1.6">5</tspan></text>
<text x="427.60" y="78.60" font-size="4.7" text-anchor="middle">EED</text>
<text x="387.60" y="38.20" font-size="5.0" text-anchor="middle" textLength="19.50" lengthAdjust="spacingAndGlyphs" transform="rotate(-90 387.60 38.20)" stroke="#231f20" stroke-width="0.08">% of max</text>
<text x="365.00" y="6.10" font-size="6.3" textLength="47.30" lengthAdjust="spacingAndGlyphs">Primary ALL cells</text>
<line x1="325.00" y1="10.30" x2="452.60" y2="10.30" stroke="#231f20" stroke-width="0.9"/>
<line x1="463.3" y1="16.6" x2="473.6" y2="16.6" stroke="#2b6496" stroke-width="1.3"/>
<line x1="463.3" y1="26.9" x2="473.6" y2="26.9" stroke="#4cb4e4" stroke-width="1.3"/>
<line x1="463.3" y1="45.5" x2="473.6" y2="45.5" stroke="#d24f68" stroke-width="1.3"/>
<line x1="463.3" y1="61.5" x2="473.6" y2="61.5" stroke="#f6c88a" stroke-width="1.3" stroke-dasharray="0.8 0.6"/>
<text x="475.70" y="18.80" font-size="6.3">Control</text>
<text x="475.70" y="29.10" font-size="6.3" textLength="41.50" lengthAdjust="spacingAndGlyphs">L-asparaginase</text>
<text x="475.70" y="39.10" font-size="6.3">1.0 IU/mL</text>
<text x="475.70" y="47.70" font-size="6.3">Gabapentin</text>
<text x="475.70" y="57.10" font-size="6.3">20 mM</text>
<text x="475.70" y="63.70" font-size="6.3">Isotype</text>
<text x="475.70" y="72.60" font-size="6.3">control</text>
<rect x="324.70" y="210.60" width="50.90" height="48.40" fill="#fff" stroke="#7a7a7a" stroke-width="0.8"/>
<path d="M332.00 258.93 L332.32 258.92 L332.63 258.92 L332.95 258.91 L333.27 258.91 L333.58 258.90 L333.90 258.90 L334.22 258.89 L334.53 258.89 L334.85 258.88 L335.17 258.87 L335.48 258.87 L335.80 258.86 L336.12 258.85 L336.43 258.85 L336.75 258.84 L337.07 258.83 L337.38 258.82 L337.70 258.81 L338.02 258.80 L338.33 258.79 L338.65 258.78 L338.97 258.76 L339.28 258.75 L339.60 258.74 L339.92 258.72 L340.23 258.71 L340.55 258.69 L340.87 258.68 L341.18 258.66 L341.50 258.64 L341.82 258.62 L342.13 258.60 L342.45 258.58 L342.77 258.56 L343.08 258.53 L343.40 258.51 L343.72 258.48 L344.03 258.45 L344.35 258.42 L344.67 258.39 L344.98 258.36 L345.30 257.89 L345.62 257.19 L345.93 256.29 L346.25 255.30 L346.57 254.38 L346.88 253.72 L347.20 253.48 L347.52 253.72 L347.83 254.38 L348.15 254.13 L348.47 252.09 L348.78 249.41 L349.10 246.01 L349.42 241.84 L349.73 236.93 L350.05 231.43 L350.37 225.62 L350.68 220.01 L351.00 215.34 L351.32 213.03 L351.63 216.27 L351.95 221.89 L352.27 228.33 L352.58 234.69 L352.90 240.44 L353.22 245.30 L353.53 249.21 L353.85 252.21 L354.17 254.42 L354.48 255.99 L354.80 257.08 L355.12 257.80 L355.43 258.08 L355.75 258.12 L356.07 258.17 L356.38 258.21 L356.70 258.25 L357.02 258.29 L357.33 258.33 L357.65 258.36 L357.97 258.39 L358.28 258.43 L358.60 258.45 L358.92 258.48 L359.23 258.51 L359.55 258.53 L359.87 258.56 L360.18 258.58 L360.50 258.60 L360.82 258.62 L361.13 258.64 L361.45 258.66 L361.77 258.68 L362.08 258.70 L362.40 258.71 L362.72 258.73 L363.03 258.74 L363.35 258.75 L363.67 258.77 L363.98 258.78 L364.30 258.79 L364.62 258.80 L364.93 258.81 L365.25 258.82 L365.57 258.83 L365.88 258.84 L366.20 258.85 L366.52 258.85 L366.83 258.86 L367.15 258.87 L367.47 258.88 L367.78 258.88 L368.10 258.89 L368.42 258.89 L368.73 258.90 L369.05 258.90 L369.37 258.91 L369.68 258.91 L370.00 258.92" fill="none" stroke="#d84a42" stroke-width="0.75"/>
<path d="M336.00 258.94 L336.30 258.94 L336.60 258.94 L336.90 258.93 L337.20 258.93 L337.50 258.93 L337.80 258.92 L338.10 258.92 L338.40 258.91 L338.70 258.91 L339.00 258.90 L339.30 258.90 L339.60 258.89 L339.90 258.89 L340.20 258.88 L340.50 258.88 L340.80 258.87 L341.10 258.86 L341.40 258.86 L341.70 258.85 L342.00 258.84 L342.30 258.83 L342.60 258.83 L342.90 258.82 L343.20 258.81 L343.50 258.80 L343.80 258.79 L344.10 258.78 L344.40 258.76 L344.70 258.75 L345.00 258.74 L345.30 258.73 L345.60 258.71 L345.90 258.70 L346.20 258.68 L346.50 258.67 L346.80 258.65 L347.10 258.63 L347.40 258.61 L347.70 258.59 L348.00 258.57 L348.30 258.55 L348.60 258.53 L348.90 258.50 L349.20 258.48 L349.50 258.45 L349.80 258.42 L350.10 258.39 L350.40 258.25 L350.70 257.86 L351.00 257.29 L351.30 256.48 L351.60 255.36 L351.90 253.84 L352.20 251.84 L352.50 249.25 L352.80 246.01 L353.10 242.08 L353.40 237.48 L353.70 232.32 L354.00 226.85 L354.30 221.43 L354.60 216.65 L354.90 213.41 L355.20 214.24 L355.50 218.13 L355.80 223.20 L356.10 228.69 L356.40 234.09 L356.70 239.08 L357.00 243.46 L357.30 247.16 L357.60 250.18 L357.90 252.57 L358.20 254.40 L358.50 255.77 L358.80 256.78 L359.10 257.50 L359.40 258.00 L359.70 258.35 L360.00 258.40 L360.30 258.43 L360.60 258.46 L360.90 258.48 L361.20 258.51 L361.50 258.53 L361.80 258.56 L362.10 258.58 L362.40 258.60 L362.70 258.62 L363.00 258.64 L363.30 258.65 L363.60 258.67 L363.90 258.69 L364.20 258.70 L364.50 258.72 L364.80 258.73 L365.10 258.74 L365.40 258.76 L365.70 258.77 L366.00 258.78 L366.30 258.79 L366.60 258.80 L366.90 258.81 L367.20 258.82 L367.50 258.83 L367.80 258.84 L368.10 258.84 L368.40 258.85 L368.70 258.86 L369.00 258.87 L369.30 258.87 L369.60 258.88 L369.90 258.88 L370.20 258.89 L370.50 258.90 L370.80 258.90 L371.10 258.91 L371.40 258.91 L371.70 258.91 L372.00 258.92" fill="none" stroke="#5a9fd0" stroke-width="0.7"/>
<path d="M336.00 258.94 L336.30 258.94 L336.60 258.93 L336.90 258.93 L337.20 258.93 L337.50 258.92 L337.80 258.92 L338.10 258.91 L338.40 258.91 L338.70 258.91 L339.00 258.90 L339.30 258.90 L339.60 258.89 L339.90 258.88 L340.20 258.88 L340.50 258.87 L340.80 258.87 L341.10 258.86 L341.40 258.85 L341.70 258.84 L342.00 258.84 L342.30 258.83 L342.60 258.82 L342.90 258.81 L343.20 258.80 L343.50 258.79 L343.80 258.78 L344.10 258.77 L344.40 258.76 L344.70 258.74 L345.00 258.73 L345.30 258.72 L345.60 258.70 L345.90 258.69 L346.20 258.67 L346.50 258.65 L346.80 258.64 L347.10 258.62 L347.40 258.60 L347.70 258.58 L348.00 258.56 L348.30 258.53 L348.60 258.51 L348.90 258.48 L349.20 258.46 L349.50 258.43 L349.80 258.40 L350.10 258.35 L350.40 258.00 L350.70 257.50 L351.00 256.78 L351.30 255.77 L351.60 254.40 L351.90 252.57 L352.20 250.18 L352.50 247.16 L352.80 243.46 L353.10 239.08 L353.40 234.09 L353.70 228.69 L354.00 223.20 L354.30 218.13 L354.60 214.24 L354.90 213.41 L355.20 216.65 L355.50 221.43 L355.80 226.85 L356.10 232.32 L356.40 237.48 L356.70 242.08 L357.00 246.01 L357.30 249.25 L357.60 251.84 L357.90 253.84 L358.20 255.36 L358.50 256.48 L358.80 257.29 L359.10 257.86 L359.40 258.25 L359.70 258.39 L360.00 258.42 L360.30 258.45 L360.60 258.48 L360.90 258.50 L361.20 258.53 L361.50 258.55 L361.80 258.57 L362.10 258.59 L362.40 258.61 L362.70 258.63 L363.00 258.65 L363.30 258.67 L363.60 258.68 L363.90 258.70 L364.20 258.71 L364.50 258.73 L364.80 258.74 L365.10 258.75 L365.40 258.76 L365.70 258.78 L366.00 258.79 L366.30 258.80 L366.60 258.81 L366.90 258.82 L367.20 258.83 L367.50 258.83 L367.80 258.84 L368.10 258.85 L368.40 258.86 L368.70 258.86 L369.00 258.87 L369.30 258.88 L369.60 258.88 L369.90 258.89 L370.20 258.89 L370.50 258.90 L370.80 258.90 L371.10 258.91 L371.40 258.91 L371.70 258.92 L372.00 258.92" fill="none" stroke="#3a9a5e" stroke-width="0.75"/>
<line x1="324.70" y1="210.60" x2="324.70" y2="259.00" stroke="#222" stroke-width="1.0"/>
<line x1="324.70" y1="259.00" x2="375.60" y2="259.00" stroke="#222" stroke-width="1.0"/>
<line x1="323.10" y1="259.00" x2="324.70" y2="259.00" stroke="#222" stroke-width="0.6"/>
<text x="321.30" y="260.60" font-size="4.6" text-anchor="end" fill="#444">0</text>
<line x1="323.80" y1="257.16" x2="324.70" y2="257.16" stroke="#444" stroke-width="0.4"/>
<line x1="323.80" y1="255.32" x2="324.70" y2="255.32" stroke="#444" stroke-width="0.4"/>
<line x1="323.80" y1="253.48" x2="324.70" y2="253.48" stroke="#444" stroke-width="0.4"/>
<line x1="323.80" y1="251.64" x2="324.70" y2="251.64" stroke="#444" stroke-width="0.4"/>
<line x1="323.10" y1="249.80" x2="324.70" y2="249.80" stroke="#222" stroke-width="0.6"/>
<text x="321.30" y="251.40" font-size="4.6" text-anchor="end" fill="#444">20</text>
<line x1="323.80" y1="247.96" x2="324.70" y2="247.96" stroke="#444" stroke-width="0.4"/>
<line x1="323.80" y1="246.12" x2="324.70" y2="246.12" stroke="#444" stroke-width="0.4"/>
<line x1="323.80" y1="244.28" x2="324.70" y2="244.28" stroke="#444" stroke-width="0.4"/>
<line x1="323.80" y1="242.44" x2="324.70" y2="242.44" stroke="#444" stroke-width="0.4"/>
<line x1="323.10" y1="240.60" x2="324.70" y2="240.60" stroke="#222" stroke-width="0.6"/>
<text x="321.30" y="242.20" font-size="4.6" text-anchor="end" fill="#444">40</text>
<line x1="323.80" y1="238.76" x2="324.70" y2="238.76" stroke="#444" stroke-width="0.4"/>
<line x1="323.80" y1="236.92" x2="324.70" y2="236.92" stroke="#444" stroke-width="0.4"/>
<line x1="323.80" y1="235.08" x2="324.70" y2="235.08" stroke="#444" stroke-width="0.4"/>
<line x1="323.80" y1="233.24" x2="324.70" y2="233.24" stroke="#444" stroke-width="0.4"/>
<line x1="323.10" y1="231.40" x2="324.70" y2="231.40" stroke="#222" stroke-width="0.6"/>
<text x="321.30" y="233.00" font-size="4.6" text-anchor="end" fill="#444">60</text>
<line x1="323.80" y1="229.56" x2="324.70" y2="229.56" stroke="#444" stroke-width="0.4"/>
<line x1="323.80" y1="227.72" x2="324.70" y2="227.72" stroke="#444" stroke-width="0.4"/>
<line x1="323.80" y1="225.88" x2="324.70" y2="225.88" stroke="#444" stroke-width="0.4"/>
<line x1="323.80" y1="224.04" x2="324.70" y2="224.04" stroke="#444" stroke-width="0.4"/>
<line x1="323.10" y1="222.20" x2="324.70" y2="222.20" stroke="#222" stroke-width="0.6"/>
<text x="321.30" y="223.80" font-size="4.6" text-anchor="end" fill="#444">80</text>
<line x1="323.80" y1="220.36" x2="324.70" y2="220.36" stroke="#444" stroke-width="0.4"/>
<line x1="323.80" y1="218.52" x2="324.70" y2="218.52" stroke="#444" stroke-width="0.4"/>
<line x1="323.80" y1="216.68" x2="324.70" y2="216.68" stroke="#444" stroke-width="0.4"/>
<line x1="323.80" y1="214.84" x2="324.70" y2="214.84" stroke="#444" stroke-width="0.4"/>
<line x1="323.10" y1="213.00" x2="324.70" y2="213.00" stroke="#222" stroke-width="0.6"/>
<text x="321.30" y="214.60" font-size="4.6" text-anchor="end" fill="#444">100</text>
<path d="M326.20 259.00V260.00 M327.45 259.00V260.00 M328.70 259.00V260.00 M329.95 259.00V260.00 M331.20 259.00V260.00 M332.45 259.00V260.00 M333.70 259.00V260.00 M334.95 259.00V260.00 M336.20 259.00V260.00 M337.45 259.00V260.00 M338.70 259.00V260.00 M339.95 259.00V260.00 M341.20 259.00V260.00 M342.45 259.00V260.00 M343.70 259.00V260.00 M344.95 259.00V260.00 M346.20 259.00V260.00 M347.45 259.00V260.00 M348.70 259.00V260.00 M349.95 259.00V260.00 M351.20 259.00V260.00 M352.45 259.00V260.00 M353.70 259.00V260.00 M354.95 259.00V260.00 M356.20 259.00V260.00 M357.45 259.00V260.00 M358.70 259.00V260.00 M359.95 259.00V260.00 M361.20 259.00V260.00 M362.45 259.00V260.00 M363.70 259.00V260.00 M364.95 259.00V260.00 M366.20 259.00V260.00 M367.45 259.00V260.00 M368.70 259.00V260.00 M369.95 259.00V260.00 M371.20 259.00V260.00 M372.45 259.00V260.00 M373.70 259.00V260.00" stroke="#333" stroke-width="0.35"/>
<line x1="333.20" y1="259.00" x2="333.20" y2="260.80" stroke="#222" stroke-width="0.6"/>
<line x1="347.70" y1="259.00" x2="347.70" y2="260.80" stroke="#222" stroke-width="0.6"/>
<line x1="359.50" y1="259.00" x2="359.50" y2="260.80" stroke="#222" stroke-width="0.6"/>
<line x1="370.90" y1="259.00" x2="370.90" y2="260.80" stroke="#222" stroke-width="0.6"/>
<text x="328.30" y="266.80" font-size="4.2">0 10<tspan font-size="3" dy="-1.6">2</tspan></text>
<text x="344.50" y="266.80" font-size="4.2">10<tspan font-size="3" dy="-1.6">3</tspan></text>
<text x="356.10" y="266.80" font-size="4.2">10<tspan font-size="3" dy="-1.6">4</tspan></text>
<text x="367.60" y="266.80" font-size="4.2">10<tspan font-size="3" dy="-1.6">5</tspan></text>
<text x="350.45" y="275.30" font-size="4.7" text-anchor="middle" font-style="italic">EZH2</text>
<text x="309.80" y="234.80" font-size="5.0" text-anchor="middle" textLength="19.50" lengthAdjust="spacingAndGlyphs" transform="rotate(-90 309.80 234.80)" stroke="#231f20" stroke-width="0.08">% of max</text>
<rect x="404.20" y="210.60" width="49.20" height="48.40" fill="#fff" stroke="#7a7a7a" stroke-width="0.8"/>
<path d="M414.00 259.00 L414.27 259.00 L414.53 259.00 L414.80 259.00 L415.07 259.00 L415.33 259.00 L415.60 259.00 L415.87 259.00 L416.13 259.00 L416.40 259.00 L416.67 259.00 L416.93 259.00 L417.20 259.00 L417.47 259.00 L417.73 259.00 L418.00 259.00 L418.27 259.00 L418.53 259.00 L418.80 259.00 L419.07 259.00 L419.33 259.00 L419.60 259.00 L419.87 259.00 L420.13 259.00 L420.40 259.00 L420.67 259.00 L420.93 259.00 L421.20 259.00 L421.47 258.99 L421.73 258.99 L422.00 258.99 L422.27 258.98 L422.53 258.97 L422.80 258.95 L423.07 258.92 L423.33 258.87 L423.60 258.81 L423.87 258.72 L424.13 258.58 L424.40 258.40 L424.67 258.13 L424.93 257.76 L425.20 257.26 L425.47 256.59 L425.73 255.71 L426.00 254.56 L426.27 253.08 L426.53 251.23 L426.80 248.96 L427.07 246.21 L427.33 242.96 L427.60 239.24 L427.87 235.07 L428.13 230.58 L428.40 225.93 L428.67 221.37 L428.93 217.27 L429.20 214.14 L429.47 213.22 L429.73 215.75 L430.00 219.73 L430.27 224.40 L430.53 229.30 L430.80 234.09 L431.07 238.55 L431.33 242.55 L431.60 246.01 L431.87 248.92 L432.13 251.32 L432.40 253.23 L432.67 254.74 L432.93 255.90 L433.20 256.78 L433.47 257.43 L433.73 257.91 L434.00 258.25 L434.27 258.49 L434.53 258.66 L434.80 258.77 L435.07 258.85 L435.33 258.91 L435.60 258.94 L435.87 258.96 L436.13 258.98 L436.40 258.99 L436.67 258.99 L436.93 258.99 L437.20 259.00 L437.47 259.00 L437.73 259.00 L438.00 259.00 L438.27 259.00 L438.53 259.00 L438.80 259.00 L439.07 259.00 L439.33 259.00 L439.60 259.00 L439.87 259.00 L440.13 259.00 L440.40 259.00 L440.67 259.00 L440.93 259.00 L441.20 259.00 L441.47 259.00 L441.73 259.00 L442.00 259.00 L442.27 259.00 L442.53 259.00 L442.80 259.00 L443.07 259.00 L443.33 259.00 L443.60 259.00 L443.87 259.00 L444.13 259.00 L444.40 259.00 L444.67 259.00 L444.93 259.00 L445.20 259.00 L445.47 259.00 L445.73 259.00 L446.00 259.00" fill="none" stroke="#f5c493" stroke-width="0.7"/>
<path d="M418.00 258.92 L418.28 258.92 L418.57 258.91 L418.85 258.91 L419.13 258.90 L419.42 258.90 L419.70 258.90 L419.98 258.89 L420.27 258.88 L420.55 258.88 L420.83 258.87 L421.12 258.87 L421.40 258.86 L421.68 258.85 L421.97 258.85 L422.25 258.84 L422.53 258.83 L422.82 258.82 L423.10 258.82 L423.38 258.81 L423.67 258.80 L423.95 258.79 L424.23 258.78 L424.52 258.77 L424.80 258.76 L425.08 258.74 L425.37 258.73 L425.65 258.72 L425.93 258.70 L426.22 258.69 L426.50 258.67 L426.78 258.66 L427.07 258.64 L427.35 258.63 L427.63 258.61 L427.92 258.59 L428.20 258.57 L428.48 258.55 L428.77 258.53 L429.05 258.50 L429.33 258.48 L429.62 258.45 L429.90 258.37 L430.18 257.96 L430.47 257.39 L430.75 256.66 L431.03 255.80 L431.32 254.90 L431.60 254.06 L431.88 253.41 L432.17 253.06 L432.45 253.07 L432.73 253.44 L433.02 254.11 L433.30 254.95 L433.58 255.86 L433.87 255.32 L434.15 253.69 L434.43 251.50 L434.72 248.66 L435.00 245.07 L435.28 240.72 L435.57 235.65 L435.85 230.04 L436.13 224.22 L436.42 218.76 L436.70 214.47 L436.98 213.34 L437.27 216.47 L437.55 221.19 L437.83 226.57 L438.12 232.04 L438.40 237.21 L438.68 241.83 L438.97 245.79 L439.25 249.06 L439.53 251.68 L439.82 253.72 L440.10 255.26 L440.38 256.41 L440.67 257.23 L440.95 257.82 L441.23 258.11 L441.52 258.15 L441.80 258.19 L442.08 258.22 L442.37 258.26 L442.65 258.29 L442.93 258.33 L443.22 258.36 L443.50 258.39 L443.78 258.42 L444.07 258.44 L444.35 258.47 L444.63 258.49 L444.92 258.52 L445.20 258.54 L445.48 258.56 L445.77 258.58 L446.05 258.60 L446.33 258.62 L446.62 258.64 L446.90 258.65 L447.18 258.67 L447.47 258.68 L447.75 258.70 L448.03 258.71 L448.32 258.73 L448.60 258.74 L448.88 258.75 L449.17 258.76 L449.45 258.77 L449.73 258.78 L450.02 258.79 L450.30 258.80 L450.58 258.81 L450.87 258.82 L451.15 258.83 L451.43 258.84 L451.72 258.84 L452.00 258.85" fill="none" stroke="#d84a42" stroke-width="0.75"/>
<path d="M420.00 258.94 L420.27 258.94 L420.53 258.93 L420.80 258.93 L421.07 258.93 L421.33 258.92 L421.60 258.92 L421.87 258.92 L422.13 258.91 L422.40 258.91 L422.67 258.90 L422.93 258.90 L423.20 258.89 L423.47 258.89 L423.73 258.88 L424.00 258.88 L424.27 258.87 L424.53 258.87 L424.80 258.86 L425.07 258.86 L425.33 258.85 L425.60 258.84 L425.87 258.83 L426.13 258.83 L426.40 258.82 L426.67 258.81 L426.93 258.80 L427.20 258.79 L427.47 258.78 L427.73 258.77 L428.00 258.76 L428.27 258.75 L428.53 258.74 L428.80 258.73 L429.07 258.72 L429.33 258.71 L429.60 258.69 L429.87 258.68 L430.13 258.66 L430.40 258.65 L430.67 258.63 L430.93 258.62 L431.20 258.60 L431.47 258.58 L431.73 258.56 L432.00 258.54 L432.27 258.52 L432.53 258.50 L432.80 258.48 L433.07 258.45 L433.33 258.43 L433.60 258.40 L433.87 258.37 L434.13 258.34 L434.40 258.05 L434.67 257.60 L434.93 256.97 L435.20 256.11 L435.47 254.94 L435.73 253.40 L436.00 251.40 L436.27 248.89 L436.53 245.79 L436.80 242.08 L437.07 237.78 L437.33 232.98 L437.60 227.87 L437.87 222.73 L438.13 218.01 L438.40 214.35 L438.67 213.24 L438.93 215.99 L439.20 220.29 L439.47 225.28 L439.73 230.45 L440.00 235.44 L440.27 240.00 L440.53 244.01 L440.80 247.41 L441.07 250.21 L441.33 252.46 L441.60 254.22 L441.87 255.57 L442.13 256.57 L442.40 257.31 L442.67 257.84 L442.93 258.22 L443.20 258.36 L443.47 258.39 L443.73 258.41 L444.00 258.44 L444.27 258.46 L444.53 258.49 L444.80 258.51 L445.07 258.53 L445.33 258.55 L445.60 258.57 L445.87 258.59 L446.13 258.61 L446.40 258.62 L446.67 258.64 L446.93 258.66 L447.20 258.67 L447.47 258.69 L447.73 258.70 L448.00 258.71 L448.27 258.72 L448.53 258.74 L448.80 258.75 L449.07 258.76 L449.33 258.77 L449.60 258.78 L449.87 258.79 L450.13 258.80 L450.40 258.81 L450.67 258.82 L450.93 258.82 L451.20 258.83 L451.47 258.84 L451.73 258.85 L452.00 258.85" fill="none" stroke="#5a9fd0" stroke-width="0.7"/>
<path d="M420.00 258.94 L420.27 258.93 L420.53 258.93 L420.80 258.93 L421.07 258.92 L421.33 258.92 L421.60 258.92 L421.87 258.91 L422.13 258.91 L422.40 258.90 L422.67 258.90 L422.93 258.90 L423.20 258.89 L423.47 258.89 L423.73 258.88 L424.00 258.87 L424.27 258.87 L424.53 258.86 L424.80 258.86 L425.07 258.85 L425.33 258.84 L425.60 258.84 L425.87 258.83 L426.13 258.82 L426.40 258.81 L426.67 258.80 L426.93 258.80 L427.20 258.79 L427.47 258.78 L427.73 258.77 L428.00 258.76 L428.27 258.75 L428.53 258.73 L428.80 258.72 L429.07 258.71 L429.33 258.70 L429.60 258.68 L429.87 258.67 L430.13 258.65 L430.40 258.64 L430.67 258.62 L430.93 258.60 L431.20 258.58 L431.47 258.57 L431.73 258.55 L432.00 258.53 L432.27 258.50 L432.53 258.48 L432.80 258.46 L433.07 258.43 L433.33 258.41 L433.60 258.38 L433.87 258.35 L434.13 258.14 L434.40 257.73 L434.67 257.15 L434.93 256.35 L435.20 255.26 L435.47 253.82 L435.73 251.95 L436.00 249.57 L436.27 246.62 L436.53 243.06 L436.80 238.91 L437.07 234.22 L437.33 229.16 L437.60 224.00 L437.87 219.12 L438.13 215.12 L438.40 213.00 L438.67 215.12 L438.93 219.12 L439.20 224.00 L439.47 229.16 L439.73 234.22 L440.00 238.91 L440.27 243.06 L440.53 246.62 L440.80 249.57 L441.07 251.95 L441.33 253.82 L441.60 255.26 L441.87 256.35 L442.13 257.15 L442.40 257.73 L442.67 258.14 L442.93 258.35 L443.20 258.38 L443.47 258.41 L443.73 258.43 L444.00 258.46 L444.27 258.48 L444.53 258.50 L444.80 258.53 L445.07 258.55 L445.33 258.57 L445.60 258.58 L445.87 258.60 L446.13 258.62 L446.40 258.64 L446.67 258.65 L446.93 258.67 L447.20 258.68 L447.47 258.70 L447.73 258.71 L448.00 258.72 L448.27 258.73 L448.53 258.75 L448.80 258.76 L449.07 258.77 L449.33 258.78 L449.60 258.79 L449.87 258.80 L450.13 258.80 L450.40 258.81 L450.67 258.82 L450.93 258.83 L451.20 258.84 L451.47 258.84 L451.73 258.85 L452.00 258.86" fill="none" stroke="#3a9a5e" stroke-width="0.75"/>
<line x1="404.20" y1="210.60" x2="404.20" y2="259.00" stroke="#222" stroke-width="1.0"/>
<line x1="404.20" y1="259.00" x2="453.40" y2="259.00" stroke="#222" stroke-width="1.0"/>
<line x1="402.60" y1="259.00" x2="404.20" y2="259.00" stroke="#222" stroke-width="0.6"/>
<text x="400.80" y="260.60" font-size="4.6" text-anchor="end" fill="#444">0</text>
<line x1="403.30" y1="257.16" x2="404.20" y2="257.16" stroke="#444" stroke-width="0.4"/>
<line x1="403.30" y1="255.32" x2="404.20" y2="255.32" stroke="#444" stroke-width="0.4"/>
<line x1="403.30" y1="253.48" x2="404.20" y2="253.48" stroke="#444" stroke-width="0.4"/>
<line x1="403.30" y1="251.64" x2="404.20" y2="251.64" stroke="#444" stroke-width="0.4"/>
<line x1="402.60" y1="249.80" x2="404.20" y2="249.80" stroke="#222" stroke-width="0.6"/>
<text x="400.80" y="251.40" font-size="4.6" text-anchor="end" fill="#444">20</text>
<line x1="403.30" y1="247.96" x2="404.20" y2="247.96" stroke="#444" stroke-width="0.4"/>
<line x1="403.30" y1="246.12" x2="404.20" y2="246.12" stroke="#444" stroke-width="0.4"/>
<line x1="403.30" y1="244.28" x2="404.20" y2="244.28" stroke="#444" stroke-width="0.4"/>
<line x1="403.30" y1="242.44" x2="404.20" y2="242.44" stroke="#444" stroke-width="0.4"/>
<line x1="402.60" y1="240.60" x2="404.20" y2="240.60" stroke="#222" stroke-width="0.6"/>
<text x="400.80" y="242.20" font-size="4.6" text-anchor="end" fill="#444">40</text>
<line x1="403.30" y1="238.76" x2="404.20" y2="238.76" stroke="#444" stroke-width="0.4"/>
<line x1="403.30" y1="236.92" x2="404.20" y2="236.92" stroke="#444" stroke-width="0.4"/>
<line x1="403.30" y1="235.08" x2="404.20" y2="235.08" stroke="#444" stroke-width="0.4"/>
<line x1="403.30" y1="233.24" x2="404.20" y2="233.24" stroke="#444" stroke-width="0.4"/>
<line x1="402.60" y1="231.40" x2="404.20" y2="231.40" stroke="#222" stroke-width="0.6"/>
<text x="400.80" y="233.00" font-size="4.6" text-anchor="end" fill="#444">60</text>
<line x1="403.30" y1="229.56" x2="404.20" y2="229.56" stroke="#444" stroke-width="0.4"/>
<line x1="403.30" y1="227.72" x2="404.20" y2="227.72" stroke="#444" stroke-width="0.4"/>
<line x1="403.30" y1="225.88" x2="404.20" y2="225.88" stroke="#444" stroke-width="0.4"/>
<line x1="403.30" y1="224.04" x2="404.20" y2="224.04" stroke="#444" stroke-width="0.4"/>
<line x1="402.60" y1="222.20" x2="404.20" y2="222.20" stroke="#222" stroke-width="0.6"/>
<text x="400.80" y="223.80" font-size="4.6" text-anchor="end" fill="#444">80</text>
<line x1="403.30" y1="220.36" x2="404.20" y2="220.36" stroke="#444" stroke-width="0.4"/>
<line x1="403.30" y1="218.52" x2="404.20" y2="218.52" stroke="#444" stroke-width="0.4"/>
<line x1="403.30" y1="216.68" x2="404.20" y2="216.68" stroke="#444" stroke-width="0.4"/>
<line x1="403.30" y1="214.84" x2="404.20" y2="214.84" stroke="#444" stroke-width="0.4"/>
<line x1="402.60" y1="213.00" x2="404.20" y2="213.00" stroke="#222" stroke-width="0.6"/>
<text x="400.80" y="214.60" font-size="4.6" text-anchor="end" fill="#444">100</text>
<path d="M405.70 259.00V260.00 M406.95 259.00V260.00 M408.20 259.00V260.00 M409.45 259.00V260.00 M410.70 259.00V260.00 M411.95 259.00V260.00 M413.20 259.00V260.00 M414.45 259.00V260.00 M415.70 259.00V260.00 M416.95 259.00V260.00 M418.20 259.00V260.00 M419.45 259.00V260.00 M420.70 259.00V260.00 M421.95 259.00V260.00 M423.20 259.00V260.00 M424.45 259.00V260.00 M425.70 259.00V260.00 M426.95 259.00V260.00 M428.20 259.00V260.00 M429.45 259.00V260.00 M430.70 259.00V260.00 M431.95 259.00V260.00 M433.20 259.00V260.00 M434.45 259.00V260.00 M435.70 259.00V260.00 M436.95 259.00V260.00 M438.20 259.00V260.00 M439.45 259.00V260.00 M440.70 259.00V260.00 M441.95 259.00V260.00 M443.20 259.00V260.00 M444.45 259.00V260.00 M445.70 259.00V260.00 M446.95 259.00V260.00 M448.20 259.00V260.00 M449.45 259.00V260.00 M450.70 259.00V260.00" stroke="#333" stroke-width="0.35"/>
<line x1="412.70" y1="259.00" x2="412.70" y2="260.80" stroke="#222" stroke-width="0.6"/>
<line x1="427.20" y1="259.00" x2="427.20" y2="260.80" stroke="#222" stroke-width="0.6"/>
<line x1="439.00" y1="259.00" x2="439.00" y2="260.80" stroke="#222" stroke-width="0.6"/>
<line x1="450.40" y1="259.00" x2="450.40" y2="260.80" stroke="#222" stroke-width="0.6"/>
<text x="407.80" y="266.80" font-size="4.2">0 10<tspan font-size="3" dy="-1.6">2</tspan></text>
<text x="424.00" y="266.80" font-size="4.2">10<tspan font-size="3" dy="-1.6">3</tspan></text>
<text x="435.60" y="266.80" font-size="4.2">10<tspan font-size="3" dy="-1.6">4</tspan></text>
<text x="447.10" y="266.80" font-size="4.2">10<tspan font-size="3" dy="-1.6">5</tspan></text>
<text x="429.10" y="275.30" font-size="4.7" text-anchor="middle">EED</text>
<text x="389.20" y="234.80" font-size="5.0" text-anchor="middle" textLength="19.50" lengthAdjust="spacingAndGlyphs" transform="rotate(-90 389.20 234.80)" stroke="#231f20" stroke-width="0.08">% of max</text>
<text x="365.00" y="202.60" font-size="6.3" textLength="49.60" lengthAdjust="spacingAndGlyphs">Primary AML cells</text>
<line x1="325.80" y1="207.30" x2="453.30" y2="207.30" stroke="#231f20" stroke-width="0.9"/>
<line x1="461.2" y1="216.8" x2="470.6" y2="216.8" stroke="#5a9fd0" stroke-width="1.2"/>
<line x1="461.2" y1="227.2" x2="470.6" y2="227.2" stroke="#3a9a5e" stroke-width="1.2"/>
<line x1="461.2" y1="237.3" x2="470.6" y2="237.3" stroke="#b8303c" stroke-width="1.2"/>
<line x1="461.2" y1="247.4" x2="470.6" y2="247.4" stroke="#f5c493" stroke-width="1.2"/>
<text x="473.70" y="219.00" font-size="6.3">Control</text>
<text x="473.70" y="229.40" font-size="6.3" textLength="45.80" lengthAdjust="spacingAndGlyphs">Thr/Phe/Lys-free</text>
<text x="473.70" y="239.50" font-size="6.3">BCAA-free</text>
<text x="473.70" y="249.60" font-size="6.3" textLength="41.20" lengthAdjust="spacingAndGlyphs">Isotype control</text>
</svg>
</body></html>
